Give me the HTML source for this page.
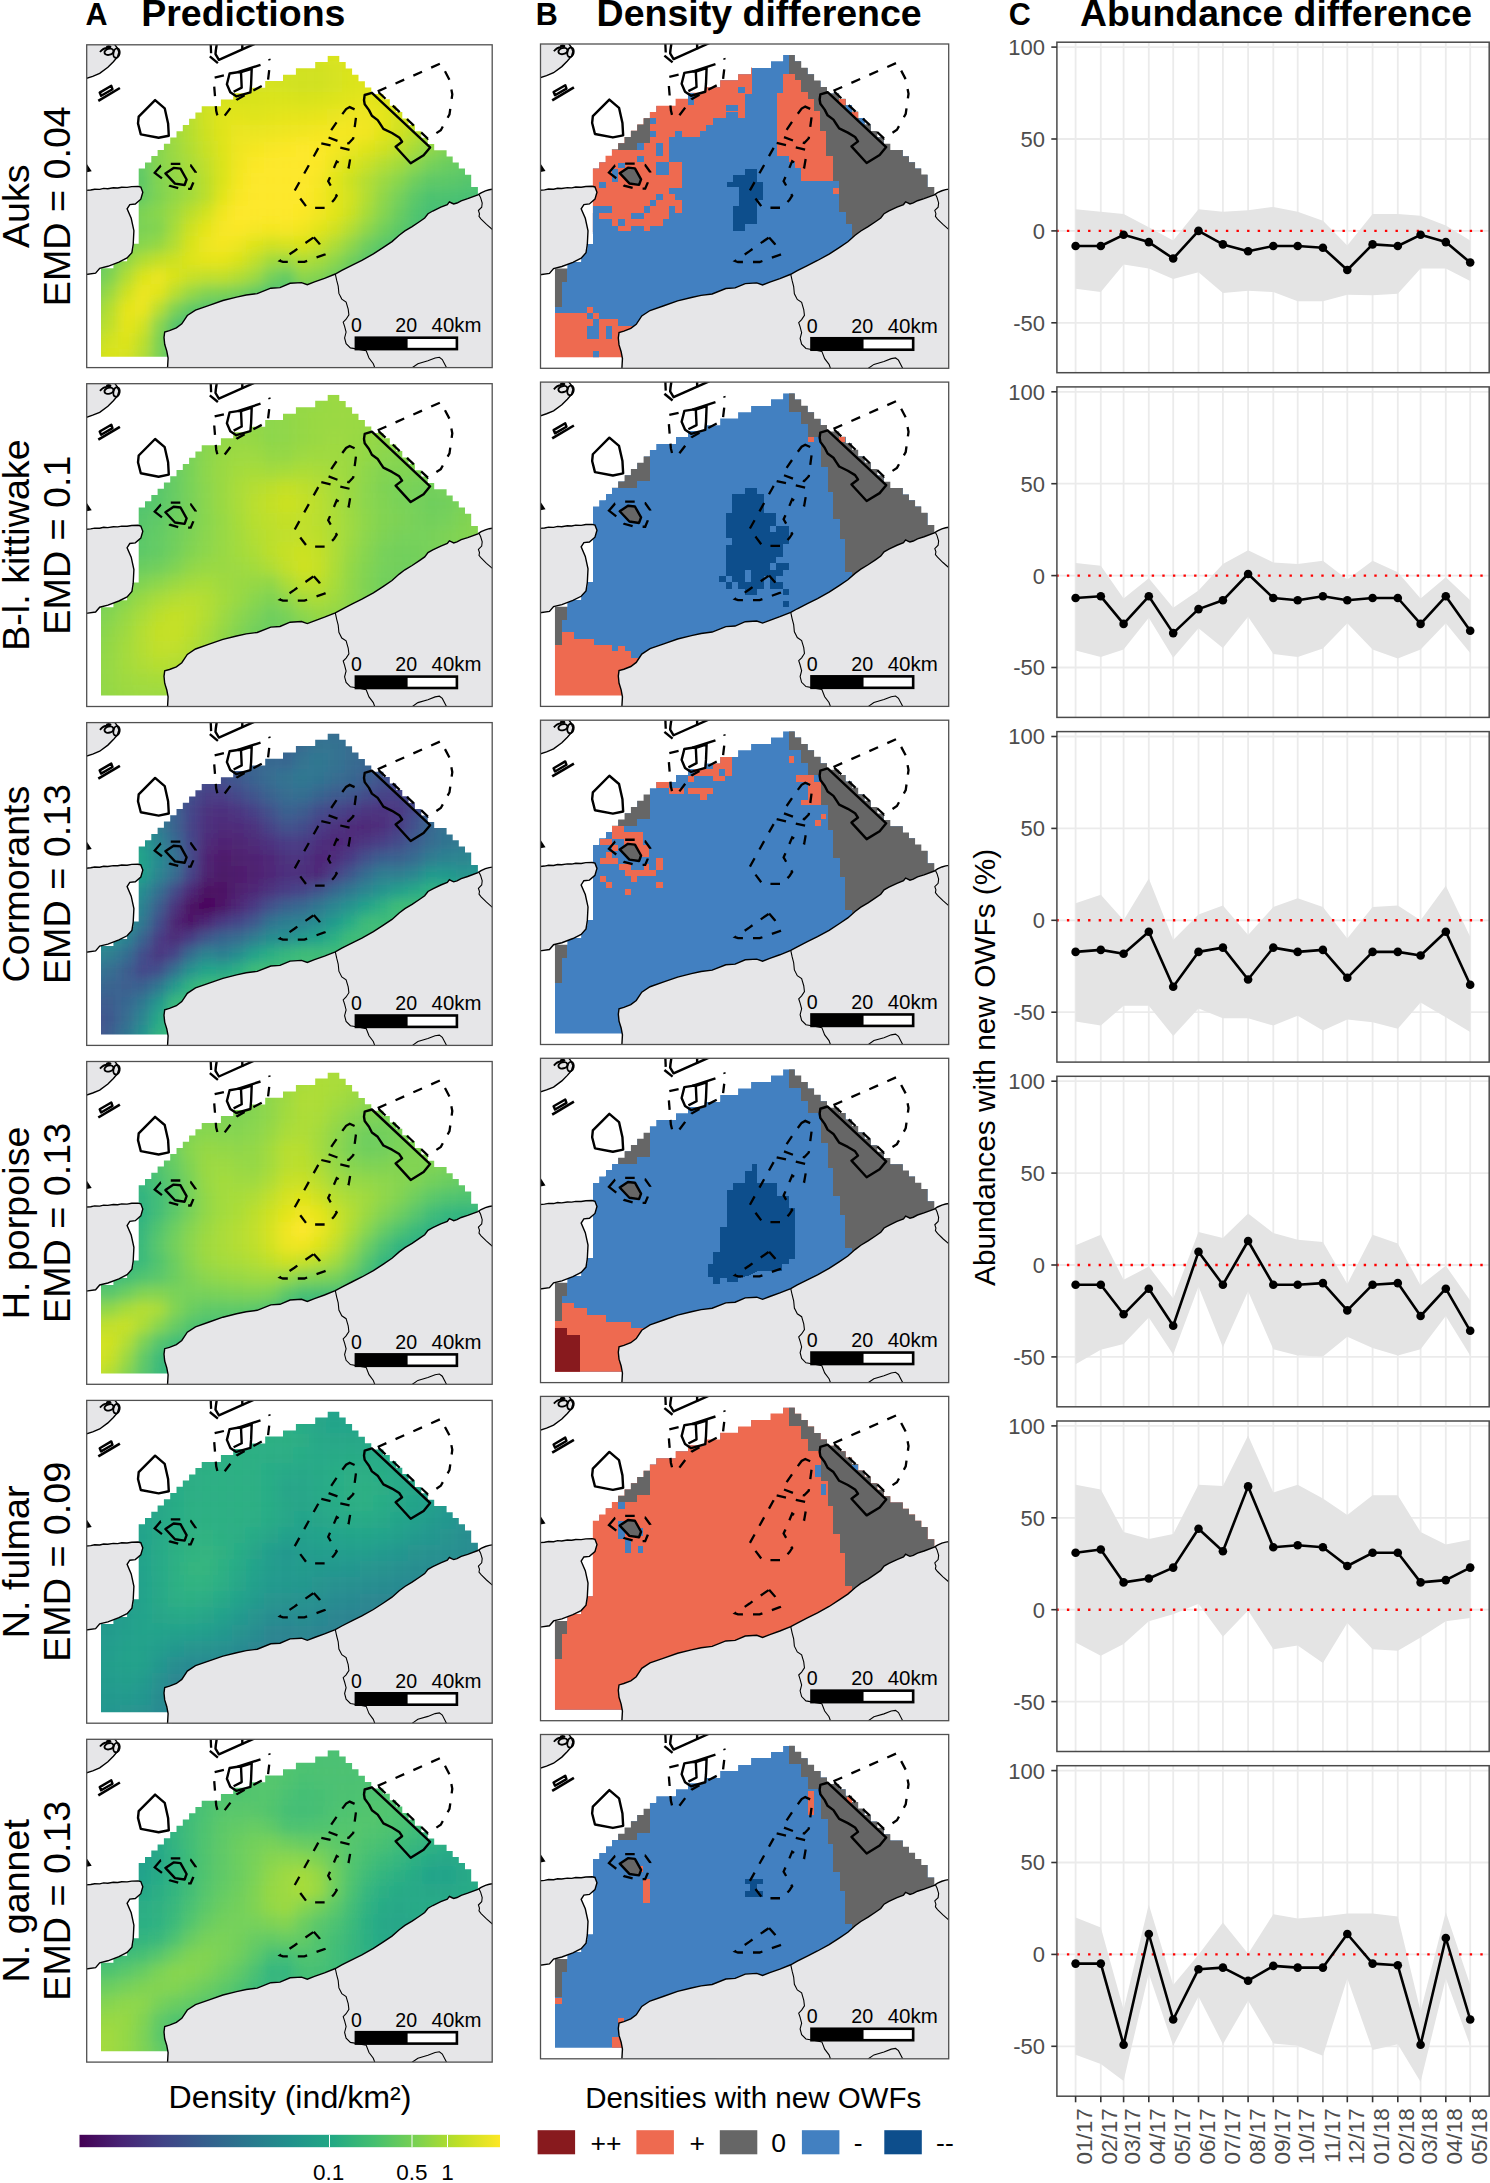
<!DOCTYPE html><html><head><meta charset="utf-8"><style>html,body{margin:0;padding:0;background:#fff;width:1490px;height:2183px;overflow:hidden}svg{display:block}text{font-family:"Liberation Sans",sans-serif}</style></head><body><svg width="1490" height="2183" viewBox="0 0 1490 2183" font-family="Liberation Sans, sans-serif"><defs><path id="sa" d="M14.3,311.9 L14.3,223.5 L26.7,223.5 L26.7,216.5 L40.4,216.5 L40.4,204.5 L46.5,204.5 L46.5,198.9 L52.0,198.9 L52.0,123.8 L58.3,123.8 L58.3,117.6 L64.6,117.6 L64.6,111.3 L70.9,111.3 L70.9,105.1 L77.2,105.1 L77.2,98.9 L83.5,98.9 L83.5,92.6 L89.8,92.6 L89.8,86.4 L96.1,86.4 L96.1,80.2 L102.4,80.2 L102.4,74.0 L108.7,74.0 L108.7,67.7 L115.0,67.7 L115.0,61.5 L134.2,61.5 L134.2,54.6 L146.5,54.6 L146.5,48.5 L163.6,48.5 L163.6,43.0 L178.5,43.0 L178.5,36.2 L196.3,36.2 L196.3,30.0 L209.2,30.0 L209.2,23.5 L228.5,23.5 L228.5,17.1 L241.0,17.1 L241.0,11.0 L252.6,11.0 L252.6,17.2 L259.0,17.2 L259.0,23.6 L265.4,23.6 L265.4,30.0 L271.8,30.0 L271.8,36.4 L278.2,36.4 L278.2,42.8 L284.6,42.8 L284.6,49.2 L296.7,49.2 L296.7,54.5 L303.1,54.5 L303.1,60.9 L309.5,60.9 L309.5,67.3 L315.6,67.3 L315.6,73.7 L321.9,73.7 L321.9,80.1 L328.2,80.1 L328.2,86.5 L334.6,86.5 L334.6,92.9 L341.0,92.9 L341.0,99.3 L347.5,99.3 L347.5,105.5 L359.9,105.5 L359.9,111.8 L366.0,111.8 L366.0,117.6 L372.1,117.6 L372.1,123.8 L378.3,123.8 L378.3,130.0 L384.5,130.0 L384.5,142.3 L391.2,142.3 L391.2,142.3 L391.2,165.0 L330.0,250.0 L250.0,300.0 L150.0,330.0 L85.0,330.0 L85.0,311.9Z"/><clipPath id="csa"><path d="M14.3,311.9 L14.3,223.5 L26.7,223.5 L26.7,216.5 L40.4,216.5 L40.4,204.5 L46.5,204.5 L46.5,198.9 L52.0,198.9 L52.0,123.8 L58.3,123.8 L58.3,117.6 L64.6,117.6 L64.6,111.3 L70.9,111.3 L70.9,105.1 L77.2,105.1 L77.2,98.9 L83.5,98.9 L83.5,92.6 L89.8,92.6 L89.8,86.4 L96.1,86.4 L96.1,80.2 L102.4,80.2 L102.4,74.0 L108.7,74.0 L108.7,67.7 L115.0,67.7 L115.0,61.5 L134.2,61.5 L134.2,54.6 L146.5,54.6 L146.5,48.5 L163.6,48.5 L163.6,43.0 L178.5,43.0 L178.5,36.2 L196.3,36.2 L196.3,30.0 L209.2,30.0 L209.2,23.5 L228.5,23.5 L228.5,17.1 L241.0,17.1 L241.0,11.0 L252.6,11.0 L252.6,17.2 L259.0,17.2 L259.0,23.6 L265.4,23.6 L265.4,30.0 L271.8,30.0 L271.8,36.4 L278.2,36.4 L278.2,42.8 L284.6,42.8 L284.6,49.2 L296.7,49.2 L296.7,54.5 L303.1,54.5 L303.1,60.9 L309.5,60.9 L309.5,67.3 L315.6,67.3 L315.6,73.7 L321.9,73.7 L321.9,80.1 L328.2,80.1 L328.2,86.5 L334.6,86.5 L334.6,92.9 L341.0,92.9 L341.0,99.3 L347.5,99.3 L347.5,105.5 L359.9,105.5 L359.9,111.8 L366.0,111.8 L366.0,117.6 L372.1,117.6 L372.1,123.8 L378.3,123.8 L378.3,130.0 L384.5,130.0 L384.5,142.3 L391.2,142.3 L391.2,142.3 L391.2,165.0 L330.0,250.0 L250.0,300.0 L150.0,330.0 L85.0,330.0 L85.0,311.9Z"/></clipPath><clipPath id="cpA"><rect x="0" y="0" width="405.5" height="322.8"/></clipPath><filter id="bl" x="-10%" y="-10%" width="120%" height="120%"><feGaussianBlur stdDeviation="6"/></filter><g id="land"><path d="M407.0,144.3 L405.7,144.5 L402.5,145.0 L398.7,146.1 L394.4,148.0 L391.2,150.1 L381.0,153.9 L374.5,156.0 L370.3,158.2 L367.0,159.2 L364.9,158.2 L362.7,157.1 L360.6,159.8 L354.1,162.4 L346.1,166.2 L341.3,168.9 L338.0,173.2 L332.7,176.9 L325.4,181.8 L318.2,186.1 L312.5,190.4 L305.3,196.8 L296.7,202.6 L286.7,209.1 L275.2,215.5 L265.1,220.5 L255.1,225.6 L248.6,229.2 L237.8,233.5 L227.8,237.1 L220.6,239.9 L214.8,237.8 L203.4,238.5 L193.3,242.8 L184.1,243.4 L170.5,248.8 L159.5,250.2 L149.9,252.3 L136.2,255.7 L122.5,260.5 L108.8,265.3 L100.6,270.7 L95.1,279.0 L89.7,283.1 L82.8,285.8 L78.0,287.2 L77.3,292.6 L78.0,299.5 L80.1,306.3 L81.4,313.2 L80.8,324.0 L407.0,324.0Z" fill="#e6e6e8" stroke="none"/><path d="M407.0,144.3 L405.7,144.5 L402.5,145.0 L398.7,146.1 L394.4,148.0 L391.2,150.1 L381.0,153.9 L374.5,156.0 L370.3,158.2 L367.0,159.2 L364.9,158.2 L362.7,157.1 L360.6,159.8 L354.1,162.4 L346.1,166.2 L341.3,168.9 L338.0,173.2 L332.7,176.9 L325.4,181.8 L318.2,186.1 L312.5,190.4 L305.3,196.8 L296.7,202.6 L286.7,209.1 L275.2,215.5 L265.1,220.5 L255.1,225.6 L248.6,229.2 L237.8,233.5 L227.8,237.1 L220.6,239.9 L214.8,237.8 L203.4,238.5 L193.3,242.8 L184.1,243.4 L170.5,248.8 L159.5,250.2 L149.9,252.3 L136.2,255.7 L122.5,260.5 L108.8,265.3 L100.6,270.7 L95.1,279.0 L89.7,283.1 L82.8,285.8 L78.0,287.2 L77.3,292.6 L78.0,299.5 L80.1,306.3 L81.4,313.2 L80.8,324.0" fill="none" stroke="#000" stroke-width="1.4"/><path d="M-1.0,145.6 L4.0,145.2 L8.0,144.4 L13.0,144.6 L17.0,143.6 L21.0,143.9 L26.7,143.0 L31.0,143.2 L35.0,142.4 L40.4,142.6 L45.0,141.8 L51.3,141.6 L54.1,142.3 L56.1,147.5 L54.1,154.4 L48.6,159.2 L43.1,159.8 L40.4,164.0 L44.5,173.5 L47.2,185.9 L46.5,199.5 L45.2,207.8 L40.4,213.2 L32.2,217.3 L21.2,221.5 L13.0,223.5 L8.9,228.3 L-1.0,229.7 L-1.0,145.6" fill="#e6e6e8" stroke="#000" stroke-width="1.4"/><path d="M-1.0,33.8 L6.0,31.5 L13.0,28.6 L21.2,22.5 L26.7,17.0 L30.8,12.2 L32.2,7.4 L30.5,3.0 L27.5,-1.0 L-1.0,-1.0Z" fill="#e6e6e8" stroke="none"/><path d="M-1.0,33.8 L6.0,31.5 L13.0,28.6 L21.2,22.5 L26.7,17.0 L30.8,12.2 L32.2,7.4 L30.5,3.0 L27.5,-1.0" fill="none" stroke="#000" stroke-width="1.4"/><g fill="none" stroke="#000" stroke-width="1.9"><ellipse cx="22.3" cy="7" rx="4.6" ry="3" transform="rotate(-15 22.3 7)"/><ellipse cx="29.8" cy="8.3" rx="3.1" ry="4.8" transform="rotate(12 29.8 8.3)"/><path d="M13.3,7.2 C15.5,4.5 18.5,3 21,3.2"/></g><ellipse cx="22" cy="2" rx="2.8" ry="1.6" fill="#000"/><path d="M248.6,229.2 L250.0,235.6 L251.5,241.4 L252.2,248.6 L255.1,254.3 L259.4,257.2 L261.5,264.3 L262.2,270.1 L259.4,274.4 L256.5,277.3 L257.9,281.6 L259.4,287.3 L257.9,293.1 L259.4,298.8 L263.7,303.1 L272.3,304.6 L279.5,306.0 L282.3,313.2 L286.6,318.9 L288.1,323.0" fill="none" stroke="#000" stroke-width="1.1"/><path d="M325.4,323.0 L331.2,318.9 L341.2,316.0 L348.4,313.2 L352.7,312.5 L355.6,314.7 L359.9,323.0" fill="none" stroke="#000" stroke-width="1.1"/><path d="M392.3,149.6 L393.9,152.8 L395.5,158.2 L395.0,162.4 L391.7,165.7 L392.8,168.9 L392.3,171.6 L394.4,174.3 L399.8,179.6 L406.0,185.0" fill="none" stroke="#000" stroke-width="1.1"/><path d="M0,119 L5,126.5 L0,127.5Z" fill="#000"/></g><g id="owf"><g fill="none" stroke="#000" stroke-width="2.4" stroke-linejoin="round"><path d="M68.4,55.3 L78.0,63.5 L81.4,78.6 L82.1,90.9 L71.9,93.0 L54.1,89.6 L51.3,78.6 L52.0,71.8Z"/><path d="M142.9,28.7 L150.9,27.4 L154.3,27.4 L165.0,24.0 L164.4,39.5 L163.7,47.5 L149.6,51.5 L143.6,47.5 L140.2,39.5Z"/><path d="M13.0,47.8 L24.6,41.0 L25.8,44.4 L14.4,51.0Z"/><path d="M130.1,-1.0 L129.1,5.9 L128.8,9.3 L132.2,15.0 L168.0,-1.0"/><path d="M123.1,11.6 L131.2,18.3"/><path d="M155.6,-1.0 L155.6,5.2"/><path d="M154.3,27.4 L155.0,42.8 L146.9,46.9"/><path d="M150.9,27.4 L173.8,20.0"/><path d="M78.7,128.6 L86.9,123.1 L93.8,123.8 L99.9,134.7 L97.9,140.2 L88.3,138.8Z"/><path d="M278.0,50.2 L285.2,48.0 L343.4,102.6 L336.9,110.5 L324.0,118.4 L308.9,101.9 L315.4,96.9 L312.5,92.6 L305.3,88.2 L296.7,84.0 L293.8,79.6 L291.0,75.3 L285.2,71.0 L282.3,65.3 L278.0,59.5 L277.3,55.2Z"/></g><g fill="none" stroke="#000" stroke-width="2.6"><path d="M11.6,56.0 L33.2,43.2"/></g><g fill="none" stroke="#000" stroke-width="2.3" stroke-dasharray="9.5 10"><path d="M68.0,128.0 L74.0,121.0 L84.0,119.0 L94.0,119.0 L104.0,120.5 L109.0,127.5 L106.5,138.0 L104.0,144.0 L94.0,144.0 L83.0,141.0 L77.0,135.0Z"/><path d="M259.4,64.3 L263.0,62.3 L270.2,65.6 L266.5,93.8 L262.0,98.5 L252.0,96.5 L240.0,92.0 L253.4,72.3Z"/><path d="M234.6,98.5 L263.5,105.2 L263.5,114.0 L262.0,122.7 L255.4,120.0 L250.0,116.6 L244.7,129.4 L241.5,136.5 L247.4,146.8 L250.0,151.0 L247.4,155.0 L240.0,163.0 L220.5,163.0 L214.5,155.0 L207.8,146.2 L231.3,103.9Z"/><path d="M291.0,46.6 L354.1,18.6 L362.8,35.1 L365.6,49.5 L362.8,69.6 L354.1,85.4 L341.2,94.0Z"/><path d="M227.1,192.5 L232.8,199.0 L237.8,209.8 L217.7,217.0 L196.2,217.0 L193.3,216.0 L207.7,206.2 L215.6,200.4Z"/><path d="M124.0,-1.0 L124.6,13.0"/><path d="M137.2,30.6 L126.8,33.0 L129.5,66.0 L131.0,72.0 L136.0,73.5 L150.0,55.0 L165.0,46.5 L181.0,38.0 L183.5,17.0 L182.5,14.0"/></g></g><g id="sbar"><rect x="269.2" y="292.9" width="101" height="11.4" fill="#fff" stroke="#000" stroke-width="2.6"/><rect x="268.7" y="292.4" width="52.2" height="12.2" fill="#000"/><g font-size="19.5" fill="#000"><text x="264.4" y="287.5">0</text><text x="308.6" y="287.5" textLength="21.8" lengthAdjust="spacingAndGlyphs">20</text><text x="344.9" y="287.5" textLength="49.8" lengthAdjust="spacingAndGlyphs">40km</text></g></g><g id="bgray" fill="#666666"><path d="M78.7,128.6 L86.9,123.1 L93.8,123.8 L99.9,134.7 L97.9,140.2 L88.3,138.8Z"/><path d="M278.0,50.2 L285.2,48.0 L343.4,102.6 L336.9,110.5 L324.0,118.4 L308.9,101.9 L315.4,96.9 L312.5,92.6 L305.3,88.2 L296.7,84.0 L293.8,79.6 L291.0,75.3 L285.2,71.0 L282.3,65.3 L278.0,59.5 L277.3,55.2Z"/></g><linearGradient id="vg" x1="0" x2="1" y1="0" y2="0"><stop offset="0.00" stop-color="#440154"/><stop offset="0.10" stop-color="#482475"/><stop offset="0.20" stop-color="#414487"/><stop offset="0.30" stop-color="#355f8d"/><stop offset="0.40" stop-color="#2a788e"/><stop offset="0.50" stop-color="#21918c"/><stop offset="0.60" stop-color="#22a884"/><stop offset="0.70" stop-color="#44bf70"/><stop offset="0.80" stop-color="#7ad151"/><stop offset="0.90" stop-color="#bddf26"/><stop offset="1.00" stop-color="#fde725"/></linearGradient></defs><g transform="translate(86.7,44.8)"><g clip-path="url(#cpA)"><rect width="405.5" height="322.8" fill="#fff"/><g clip-path="url(#csa)"><g filter="url(#bl)" stroke-width="16"><path d="M-16 -8h16" stroke="#46c06f"/><path d="M0 -8h16" stroke="#52c569"/><path d="M16 -8h16" stroke="#5ec962"/><path d="M32 -8h16" stroke="#6ece58"/><path d="M48 -8h16" stroke="#7cd250"/><path d="M64 -8h16" stroke="#8bd646"/><path d="M80 -8h16" stroke="#9bd93c"/><path d="M96 -8h16" stroke="#aadc32"/><path d="M112 -8h16" stroke="#b5de2b"/><path d="M128 -8h16" stroke="#c0df25"/><path d="M144 -8h16" stroke="#c5e021"/><path d="M160 -8h16" stroke="#cae11f"/><path d="M176 -8h16" stroke="#cde11d"/><path d="M192 -8h16" stroke="#d0e11c"/><path d="M208 -8h16" stroke="#d2e21b"/><path d="M224 -8h16" stroke="#d8e219"/><path d="M240 -8h16" stroke="#dae319"/><path d="M256 -8h16" stroke="#dde318"/><path d="M272 -8h16" stroke="#dde318"/><path d="M288 -8h16" stroke="#dae319"/><path d="M304 -8h16" stroke="#d8e219"/><path d="M320 -8h16" stroke="#d5e21a"/><path d="M336 -8h16" stroke="#cde11d"/><path d="M352 -8h16" stroke="#c5e021"/><path d="M368 -8h16" stroke="#bddf26"/><path d="M384 -8h16" stroke="#b5de2b"/><path d="M400 -8h16" stroke="#addc30"/><path d="M416 -8h16" stroke="#a5db36"/><path d="M-16 8h16" stroke="#42be71"/><path d="M0 8h16" stroke="#4ec36b"/><path d="M16 8h16" stroke="#5cc863"/><path d="M32 8h16" stroke="#6ccd5a"/><path d="M48 8h16" stroke="#7cd250"/><path d="M64 8h16" stroke="#8ed645"/><path d="M80 8h16" stroke="#9dd93b"/><path d="M96 8h16" stroke="#addc30"/><path d="M112 8h16" stroke="#bade28"/><path d="M128 8h16" stroke="#c2df23"/><path d="M144 8h16" stroke="#c8e020"/><path d="M160 8h16" stroke="#cde11d"/><path d="M176 8h16" stroke="#cde11d"/><path d="M192 8h16" stroke="#d0e11c"/><path d="M208 8h16" stroke="#d0e11c"/><path d="M224 8h16" stroke="#d5e21a"/><path d="M240 8h16" stroke="#dae319"/><path d="M256 8h16" stroke="#dae319"/><path d="M272 8h16" stroke="#dde318"/><path d="M288 8h16" stroke="#dae319"/><path d="M304 8h16" stroke="#d8e219"/><path d="M320 8h16" stroke="#d2e21b"/><path d="M336 8h16" stroke="#cae11f"/><path d="M352 8h16" stroke="#c2df23"/><path d="M368 8h16" stroke="#b8de29"/><path d="M384 8h16" stroke="#b0dd2f"/><path d="M400 8h16" stroke="#a5db36"/><path d="M416 8h16" stroke="#9dd93b"/><path d="M-16 24h16" stroke="#3fbc73"/><path d="M0 24h16" stroke="#4ac16d"/><path d="M16 24h16" stroke="#58c765"/><path d="M32 24h16" stroke="#67cc5c"/><path d="M48 24h16" stroke="#7ad151"/><path d="M64 24h16" stroke="#8bd646"/><path d="M80 24h16" stroke="#a0da39"/><path d="M96 24h16" stroke="#b0dd2f"/><path d="M112 24h16" stroke="#c0df25"/><path d="M128 24h16" stroke="#c8e020"/><path d="M144 24h16" stroke="#cde11d"/><path d="M160 24h16" stroke="#d0e11c"/><path d="M176 24h16" stroke="#d0e11c"/><path d="M192 24h16" stroke="#d0e11c"/><path d="M208 24h16" stroke="#d0e11c"/><path d="M224 24h16" stroke="#d0e11c"/><path d="M240 24h16" stroke="#d5e21a"/><path d="M256 24h16" stroke="#dae319"/><path d="M272 24h16" stroke="#dde318"/><path d="M288 24h16" stroke="#dae319"/><path d="M304 24h16" stroke="#d8e219"/><path d="M320 24h16" stroke="#d0e11c"/><path d="M336 24h16" stroke="#c8e020"/><path d="M352 24h16" stroke="#bddf26"/><path d="M368 24h16" stroke="#b2dd2d"/><path d="M384 24h16" stroke="#a8db34"/><path d="M400 24h16" stroke="#9dd93b"/><path d="M416 24h16" stroke="#93d741"/><path d="M-16 40h16" stroke="#3bbb75"/><path d="M0 40h16" stroke="#46c06f"/><path d="M16 40h16" stroke="#54c568"/><path d="M32 40h16" stroke="#65cb5e"/><path d="M48 40h16" stroke="#77d153"/><path d="M64 40h16" stroke="#8bd646"/><path d="M80 40h16" stroke="#a0da39"/><path d="M96 40h16" stroke="#b5de2b"/><path d="M112 40h16" stroke="#c5e021"/><path d="M128 40h16" stroke="#d0e11c"/><path d="M144 40h16" stroke="#d2e21b"/><path d="M160 40h16" stroke="#d2e21b"/><path d="M176 40h16" stroke="#d5e21a"/><path d="M192 40h16" stroke="#d2e21b"/><path d="M208 40h16" stroke="#d0e11c"/><path d="M224 40h16" stroke="#d0e11c"/><path d="M240 40h16" stroke="#d5e21a"/><path d="M256 40h16" stroke="#dae319"/><path d="M272 40h16" stroke="#dde318"/><path d="M288 40h16" stroke="#dde318"/><path d="M304 40h16" stroke="#d5e21a"/><path d="M320 40h16" stroke="#cde11d"/><path d="M336 40h16" stroke="#c2df23"/><path d="M352 40h16" stroke="#b5de2b"/><path d="M368 40h16" stroke="#aadc32"/><path d="M384 40h16" stroke="#9dd93b"/><path d="M400 40h16" stroke="#93d741"/><path d="M416 40h16" stroke="#89d548"/><path d="M-16 56h16" stroke="#3bbb75"/><path d="M0 56h16" stroke="#40bd72"/><path d="M16 56h16" stroke="#4ec36b"/><path d="M32 56h16" stroke="#60ca60"/><path d="M48 56h16" stroke="#73d056"/><path d="M64 56h16" stroke="#8bd646"/><path d="M80 56h16" stroke="#a0da39"/><path d="M96 56h16" stroke="#b8de29"/><path d="M112 56h16" stroke="#cae11f"/><path d="M128 56h16" stroke="#d8e219"/><path d="M144 56h16" stroke="#d8e219"/><path d="M160 56h16" stroke="#d8e219"/><path d="M176 56h16" stroke="#dae319"/><path d="M192 56h16" stroke="#dae319"/><path d="M208 56h16" stroke="#d8e219"/><path d="M224 56h16" stroke="#dae319"/><path d="M240 56h16" stroke="#dde318"/><path d="M256 56h16" stroke="#e2e418"/><path d="M272 56h16" stroke="#e5e419"/><path d="M288 56h16" stroke="#dfe318"/><path d="M304 56h16" stroke="#d5e21a"/><path d="M320 56h16" stroke="#cae11f"/><path d="M336 56h16" stroke="#bade28"/><path d="M352 56h16" stroke="#addc30"/><path d="M368 56h16" stroke="#a0da39"/><path d="M384 56h16" stroke="#93d741"/><path d="M400 56h16" stroke="#89d548"/><path d="M416 56h16" stroke="#7fd34e"/><path d="M-16 72h16" stroke="#3bbb75"/><path d="M0 72h16" stroke="#3dbc74"/><path d="M16 72h16" stroke="#4ac16d"/><path d="M32 72h16" stroke="#5ac864"/><path d="M48 72h16" stroke="#70cf57"/><path d="M64 72h16" stroke="#89d548"/><path d="M80 72h16" stroke="#a0da39"/><path d="M96 72h16" stroke="#b8de29"/><path d="M112 72h16" stroke="#d0e11c"/><path d="M128 72h16" stroke="#dfe318"/><path d="M144 72h16" stroke="#e2e418"/><path d="M160 72h16" stroke="#dfe318"/><path d="M176 72h16" stroke="#e2e418"/><path d="M192 72h16" stroke="#e5e419"/><path d="M208 72h16" stroke="#e5e419"/><path d="M224 72h16" stroke="#e7e419"/><path d="M240 72h16" stroke="#eae51a"/><path d="M256 72h16" stroke="#efe51c"/><path d="M272 72h16" stroke="#efe51c"/><path d="M288 72h16" stroke="#e5e419"/><path d="M304 72h16" stroke="#d5e21a"/><path d="M320 72h16" stroke="#c5e021"/><path d="M336 72h16" stroke="#b2dd2d"/><path d="M352 72h16" stroke="#a0da39"/><path d="M368 72h16" stroke="#93d741"/><path d="M384 72h16" stroke="#86d549"/><path d="M400 72h16" stroke="#7cd250"/><path d="M416 72h16" stroke="#73d056"/><path d="M-16 88h16" stroke="#3bbb75"/><path d="M0 88h16" stroke="#3bbb75"/><path d="M16 88h16" stroke="#44bf70"/><path d="M32 88h16" stroke="#56c667"/><path d="M48 88h16" stroke="#6ccd5a"/><path d="M64 88h16" stroke="#84d44b"/><path d="M80 88h16" stroke="#9dd93b"/><path d="M96 88h16" stroke="#b5de2b"/><path d="M112 88h16" stroke="#cde11d"/><path d="M128 88h16" stroke="#dfe318"/><path d="M144 88h16" stroke="#eae51a"/><path d="M160 88h16" stroke="#eae51a"/><path d="M176 88h16" stroke="#ece51b"/><path d="M192 88h16" stroke="#efe51c"/><path d="M208 88h16" stroke="#f1e51d"/><path d="M224 88h16" stroke="#f4e61e"/><path d="M240 88h16" stroke="#f4e61e"/><path d="M256 88h16" stroke="#f4e61e"/><path d="M272 88h16" stroke="#f1e51d"/><path d="M288 88h16" stroke="#e2e418"/><path d="M304 88h16" stroke="#d0e11c"/><path d="M320 88h16" stroke="#bade28"/><path d="M336 88h16" stroke="#a2da37"/><path d="M352 88h16" stroke="#90d743"/><path d="M368 88h16" stroke="#81d34d"/><path d="M384 88h16" stroke="#77d153"/><path d="M400 88h16" stroke="#6ece58"/><path d="M416 88h16" stroke="#65cb5e"/><path d="M-16 104h16" stroke="#3bbb75"/><path d="M0 104h16" stroke="#3bbb75"/><path d="M16 104h16" stroke="#40bd72"/><path d="M32 104h16" stroke="#50c46a"/><path d="M48 104h16" stroke="#67cc5c"/><path d="M64 104h16" stroke="#84d44b"/><path d="M80 104h16" stroke="#9bd93c"/><path d="M96 104h16" stroke="#b0dd2f"/><path d="M112 104h16" stroke="#c8e020"/><path d="M128 104h16" stroke="#dde318"/><path d="M144 104h16" stroke="#efe51c"/><path d="M160 104h16" stroke="#f4e61e"/><path d="M176 104h16" stroke="#f8e621"/><path d="M192 104h16" stroke="#fbe723"/><path d="M208 104h16" stroke="#fde725"/><path d="M224 104h16" stroke="#fbe723"/><path d="M240 104h16" stroke="#f4e61e"/><path d="M256 104h16" stroke="#eae51a"/><path d="M272 104h16" stroke="#dfe318"/><path d="M288 104h16" stroke="#d0e11c"/><path d="M304 104h16" stroke="#bddf26"/><path d="M320 104h16" stroke="#a5db36"/><path d="M336 104h16" stroke="#8ed645"/><path d="M352 104h16" stroke="#7cd250"/><path d="M368 104h16" stroke="#70cf57"/><path d="M384 104h16" stroke="#69cd5b"/><path d="M400 104h16" stroke="#60ca60"/><path d="M416 104h16" stroke="#5ac864"/><path d="M-16 120h16" stroke="#3bbb75"/><path d="M0 120h16" stroke="#3bbb75"/><path d="M16 120h16" stroke="#3dbc74"/><path d="M32 120h16" stroke="#4ac16d"/><path d="M48 120h16" stroke="#63cb5f"/><path d="M64 120h16" stroke="#84d44b"/><path d="M80 120h16" stroke="#95d840"/><path d="M96 120h16" stroke="#a8db34"/><path d="M112 120h16" stroke="#c0df25"/><path d="M128 120h16" stroke="#dae319"/><path d="M144 120h16" stroke="#f1e51d"/><path d="M160 120h16" stroke="#fbe723"/><path d="M176 120h16" stroke="#fde725"/><path d="M192 120h16" stroke="#fde725"/><path d="M208 120h16" stroke="#fde725"/><path d="M224 120h16" stroke="#fbe723"/><path d="M240 120h16" stroke="#eae51a"/><path d="M256 120h16" stroke="#dae319"/><path d="M272 120h16" stroke="#c8e020"/><path d="M288 120h16" stroke="#b2dd2d"/><path d="M304 120h16" stroke="#a0da39"/><path d="M320 120h16" stroke="#89d548"/><path d="M336 120h16" stroke="#73d056"/><path d="M352 120h16" stroke="#67cc5c"/><path d="M368 120h16" stroke="#60ca60"/><path d="M384 120h16" stroke="#5ac864"/><path d="M400 120h16" stroke="#54c568"/><path d="M416 120h16" stroke="#4ec36b"/><path d="M-16 136h16" stroke="#3bbb75"/><path d="M0 136h16" stroke="#3bbb75"/><path d="M16 136h16" stroke="#3dbc74"/><path d="M32 136h16" stroke="#4ac16d"/><path d="M48 136h16" stroke="#5ec962"/><path d="M64 136h16" stroke="#7fd34e"/><path d="M80 136h16" stroke="#8ed645"/><path d="M96 136h16" stroke="#a0da39"/><path d="M112 136h16" stroke="#bade28"/><path d="M128 136h16" stroke="#dae319"/><path d="M144 136h16" stroke="#f4e61e"/><path d="M160 136h16" stroke="#fde725"/><path d="M176 136h16" stroke="#fde725"/><path d="M192 136h16" stroke="#fde725"/><path d="M208 136h16" stroke="#fde725"/><path d="M224 136h16" stroke="#f6e620"/><path d="M240 136h16" stroke="#e2e418"/><path d="M256 136h16" stroke="#cae11f"/><path d="M272 136h16" stroke="#b2dd2d"/><path d="M288 136h16" stroke="#9bd93c"/><path d="M304 136h16" stroke="#86d549"/><path d="M320 136h16" stroke="#6ccd5a"/><path d="M336 136h16" stroke="#5cc863"/><path d="M352 136h16" stroke="#58c765"/><path d="M368 136h16" stroke="#54c568"/><path d="M384 136h16" stroke="#4ec36b"/><path d="M400 136h16" stroke="#48c16e"/><path d="M416 136h16" stroke="#42be71"/><path d="M-16 152h16" stroke="#3bbb75"/><path d="M0 152h16" stroke="#3bbb75"/><path d="M16 152h16" stroke="#44bf70"/><path d="M32 152h16" stroke="#54c568"/><path d="M48 152h16" stroke="#65cb5e"/><path d="M64 152h16" stroke="#7cd250"/><path d="M80 152h16" stroke="#90d743"/><path d="M96 152h16" stroke="#a2da37"/><path d="M112 152h16" stroke="#bade28"/><path d="M128 152h16" stroke="#e2e418"/><path d="M144 152h16" stroke="#f8e621"/><path d="M160 152h16" stroke="#fde725"/><path d="M176 152h16" stroke="#fde725"/><path d="M192 152h16" stroke="#fde725"/><path d="M208 152h16" stroke="#fde725"/><path d="M224 152h16" stroke="#f4e61e"/><path d="M240 152h16" stroke="#e2e418"/><path d="M256 152h16" stroke="#d2e21b"/><path d="M272 152h16" stroke="#b0dd2f"/><path d="M288 152h16" stroke="#8ed645"/><path d="M304 152h16" stroke="#73d056"/><path d="M320 152h16" stroke="#58c765"/><path d="M336 152h16" stroke="#4ac16d"/><path d="M352 152h16" stroke="#4ac16d"/><path d="M368 152h16" stroke="#46c06f"/><path d="M384 152h16" stroke="#42be71"/><path d="M400 152h16" stroke="#3dbc74"/><path d="M416 152h16" stroke="#3bbb75"/><path d="M-16 168h16" stroke="#3bbb75"/><path d="M0 168h16" stroke="#3fbc73"/><path d="M16 168h16" stroke="#4ec36b"/><path d="M32 168h16" stroke="#63cb5f"/><path d="M48 168h16" stroke="#7cd250"/><path d="M64 168h16" stroke="#86d549"/><path d="M80 168h16" stroke="#9dd93b"/><path d="M96 168h16" stroke="#bade28"/><path d="M112 168h16" stroke="#d2e21b"/><path d="M128 168h16" stroke="#f1e51d"/><path d="M144 168h16" stroke="#fde725"/><path d="M160 168h16" stroke="#fde725"/><path d="M176 168h16" stroke="#fde725"/><path d="M192 168h16" stroke="#fde725"/><path d="M208 168h16" stroke="#fbe723"/><path d="M224 168h16" stroke="#f1e51d"/><path d="M240 168h16" stroke="#e2e418"/><path d="M256 168h16" stroke="#cae11f"/><path d="M272 168h16" stroke="#a5db36"/><path d="M288 168h16" stroke="#84d44b"/><path d="M304 168h16" stroke="#67cc5c"/><path d="M320 168h16" stroke="#50c46a"/><path d="M336 168h16" stroke="#42be71"/><path d="M352 168h16" stroke="#3fbc73"/><path d="M368 168h16" stroke="#3bbb75"/><path d="M384 168h16" stroke="#3bbb75"/><path d="M400 168h16" stroke="#3bbb75"/><path d="M416 168h16" stroke="#3bbb75"/><path d="M-16 184h16" stroke="#3bbb75"/><path d="M0 184h16" stroke="#46c06f"/><path d="M16 184h16" stroke="#58c765"/><path d="M32 184h16" stroke="#6ccd5a"/><path d="M48 184h16" stroke="#7ad151"/><path d="M64 184h16" stroke="#7fd34e"/><path d="M80 184h16" stroke="#a5db36"/><path d="M96 184h16" stroke="#cde11d"/><path d="M112 184h16" stroke="#e5e419"/><path d="M128 184h16" stroke="#f6e620"/><path d="M144 184h16" stroke="#fbe723"/><path d="M160 184h16" stroke="#f6e620"/><path d="M176 184h16" stroke="#f4e61e"/><path d="M192 184h16" stroke="#f6e620"/><path d="M208 184h16" stroke="#f1e51d"/><path d="M224 184h16" stroke="#e2e418"/><path d="M240 184h16" stroke="#d0e11c"/><path d="M256 184h16" stroke="#b2dd2d"/><path d="M272 184h16" stroke="#8ed645"/><path d="M288 184h16" stroke="#70cf57"/><path d="M304 184h16" stroke="#5ac864"/><path d="M320 184h16" stroke="#48c16e"/><path d="M336 184h16" stroke="#3bbb75"/><path d="M352 184h16" stroke="#3bbb75"/><path d="M368 184h16" stroke="#3bbb75"/><path d="M384 184h16" stroke="#3bbb75"/><path d="M400 184h16" stroke="#3bbb75"/><path d="M416 184h16" stroke="#3bbb75"/><path d="M-16 200h16" stroke="#40bd72"/><path d="M0 200h16" stroke="#4ec36b"/><path d="M16 200h16" stroke="#60ca60"/><path d="M32 200h16" stroke="#77d153"/><path d="M48 200h16" stroke="#86d549"/><path d="M64 200h16" stroke="#93d741"/><path d="M80 200h16" stroke="#b2dd2d"/><path d="M96 200h16" stroke="#d8e219"/><path d="M112 200h16" stroke="#ece51b"/><path d="M128 200h16" stroke="#f4e61e"/><path d="M144 200h16" stroke="#ece51b"/><path d="M160 200h16" stroke="#dde318"/><path d="M176 200h16" stroke="#d0e11c"/><path d="M192 200h16" stroke="#d5e21a"/><path d="M208 200h16" stroke="#d8e219"/><path d="M224 200h16" stroke="#c8e020"/><path d="M240 200h16" stroke="#addc30"/><path d="M256 200h16" stroke="#8ed645"/><path d="M272 200h16" stroke="#6ccd5a"/><path d="M288 200h16" stroke="#58c765"/><path d="M304 200h16" stroke="#48c16e"/><path d="M320 200h16" stroke="#3bbb75"/><path d="M336 200h16" stroke="#3bbb75"/><path d="M352 200h16" stroke="#3bbb75"/><path d="M368 200h16" stroke="#3bbb75"/><path d="M384 200h16" stroke="#3bbb75"/><path d="M400 200h16" stroke="#3bbb75"/><path d="M416 200h16" stroke="#3bbb75"/><path d="M-16 216h16" stroke="#48c16e"/><path d="M0 216h16" stroke="#58c765"/><path d="M16 216h16" stroke="#6ece58"/><path d="M32 216h16" stroke="#90d743"/><path d="M48 216h16" stroke="#b0dd2f"/><path d="M64 216h16" stroke="#c2df23"/><path d="M80 216h16" stroke="#cde11d"/><path d="M96 216h16" stroke="#dde318"/><path d="M112 216h16" stroke="#e5e419"/><path d="M128 216h16" stroke="#e5e419"/><path d="M144 216h16" stroke="#d8e219"/><path d="M160 216h16" stroke="#c0df25"/><path d="M176 216h16" stroke="#a0da39"/><path d="M192 216h16" stroke="#98d83e"/><path d="M208 216h16" stroke="#addc30"/><path d="M224 216h16" stroke="#a2da37"/><path d="M240 216h16" stroke="#8bd646"/><path d="M256 216h16" stroke="#6ece58"/><path d="M272 216h16" stroke="#56c667"/><path d="M288 216h16" stroke="#44bf70"/><path d="M304 216h16" stroke="#3bbb75"/><path d="M320 216h16" stroke="#3bbb75"/><path d="M336 216h16" stroke="#3bbb75"/><path d="M352 216h16" stroke="#3bbb75"/><path d="M368 216h16" stroke="#3bbb75"/><path d="M384 216h16" stroke="#3bbb75"/><path d="M400 216h16" stroke="#3bbb75"/><path d="M416 216h16" stroke="#3bbb75"/><path d="M-16 232h16" stroke="#56c667"/><path d="M0 232h16" stroke="#65cb5e"/><path d="M16 232h16" stroke="#7fd34e"/><path d="M32 232h16" stroke="#b0dd2f"/><path d="M48 232h16" stroke="#dae319"/><path d="M64 232h16" stroke="#eae51a"/><path d="M80 232h16" stroke="#d8e219"/><path d="M96 232h16" stroke="#c8e020"/><path d="M112 232h16" stroke="#c0df25"/><path d="M128 232h16" stroke="#c0df25"/><path d="M144 232h16" stroke="#b0dd2f"/><path d="M160 232h16" stroke="#9bd93c"/><path d="M176 232h16" stroke="#73d056"/><path d="M192 232h16" stroke="#60ca60"/><path d="M208 232h16" stroke="#8bd646"/><path d="M224 232h16" stroke="#81d34d"/><path d="M240 232h16" stroke="#6ccd5a"/><path d="M256 232h16" stroke="#56c667"/><path d="M272 232h16" stroke="#44bf70"/><path d="M288 232h16" stroke="#3bbb75"/><path d="M304 232h16" stroke="#3bbb75"/><path d="M320 232h16" stroke="#3bbb75"/><path d="M336 232h16" stroke="#3bbb75"/><path d="M352 232h16" stroke="#3bbb75"/><path d="M368 232h16" stroke="#3bbb75"/><path d="M384 232h16" stroke="#3bbb75"/><path d="M400 232h16" stroke="#3bbb75"/><path d="M416 232h16" stroke="#3bbb75"/><path d="M-16 248h16" stroke="#67cc5c"/><path d="M0 248h16" stroke="#7ad151"/><path d="M16 248h16" stroke="#9bd93c"/><path d="M32 248h16" stroke="#cde11d"/><path d="M48 248h16" stroke="#ece51b"/><path d="M64 248h16" stroke="#e2e418"/><path d="M80 248h16" stroke="#b8de29"/><path d="M96 248h16" stroke="#95d840"/><path d="M112 248h16" stroke="#81d34d"/><path d="M128 248h16" stroke="#7cd250"/><path d="M144 248h16" stroke="#75d054"/><path d="M160 248h16" stroke="#60ca60"/><path d="M176 248h16" stroke="#4cc26c"/><path d="M192 248h16" stroke="#4cc26c"/><path d="M208 248h16" stroke="#5cc863"/><path d="M224 248h16" stroke="#5cc863"/><path d="M240 248h16" stroke="#50c46a"/><path d="M256 248h16" stroke="#40bd72"/><path d="M272 248h16" stroke="#3bbb75"/><path d="M288 248h16" stroke="#3bbb75"/><path d="M304 248h16" stroke="#3bbb75"/><path d="M320 248h16" stroke="#3bbb75"/><path d="M336 248h16" stroke="#3bbb75"/><path d="M352 248h16" stroke="#3bbb75"/><path d="M368 248h16" stroke="#3bbb75"/><path d="M384 248h16" stroke="#3bbb75"/><path d="M400 248h16" stroke="#3bbb75"/><path d="M416 248h16" stroke="#3bbb75"/><path d="M-16 264h16" stroke="#7ad151"/><path d="M0 264h16" stroke="#90d743"/><path d="M16 264h16" stroke="#b5de2b"/><path d="M32 264h16" stroke="#e5e419"/><path d="M48 264h16" stroke="#eae51a"/><path d="M64 264h16" stroke="#b8de29"/><path d="M80 264h16" stroke="#7cd250"/><path d="M96 264h16" stroke="#5ec962"/><path d="M112 264h16" stroke="#50c46a"/><path d="M128 264h16" stroke="#4ac16d"/><path d="M144 264h16" stroke="#44bf70"/><path d="M160 264h16" stroke="#3bbb75"/><path d="M176 264h16" stroke="#3bbb75"/><path d="M192 264h16" stroke="#3bbb75"/><path d="M208 264h16" stroke="#3bbb75"/><path d="M224 264h16" stroke="#3dbc74"/><path d="M240 264h16" stroke="#3bbb75"/><path d="M256 264h16" stroke="#3bbb75"/><path d="M272 264h16" stroke="#3bbb75"/><path d="M288 264h16" stroke="#3bbb75"/><path d="M304 264h16" stroke="#3bbb75"/><path d="M320 264h16" stroke="#3bbb75"/><path d="M336 264h16" stroke="#3bbb75"/><path d="M352 264h16" stroke="#3bbb75"/><path d="M368 264h16" stroke="#3bbb75"/><path d="M384 264h16" stroke="#3bbb75"/><path d="M400 264h16" stroke="#3bbb75"/><path d="M416 264h16" stroke="#3bbb75"/><path d="M-16 280h16" stroke="#93d741"/><path d="M0 280h16" stroke="#a5db36"/><path d="M16 280h16" stroke="#c0df25"/><path d="M32 280h16" stroke="#e5e419"/><path d="M48 280h16" stroke="#d2e21b"/><path d="M64 280h16" stroke="#89d548"/><path d="M80 280h16" stroke="#54c568"/><path d="M96 280h16" stroke="#3dbc74"/><path d="M112 280h16" stroke="#3bbb75"/><path d="M128 280h16" stroke="#3bbb75"/><path d="M144 280h16" stroke="#3bbb75"/><path d="M160 280h16" stroke="#3bbb75"/><path d="M176 280h16" stroke="#3bbb75"/><path d="M192 280h16" stroke="#3bbb75"/><path d="M208 280h16" stroke="#3bbb75"/><path d="M224 280h16" stroke="#3bbb75"/><path d="M240 280h16" stroke="#3bbb75"/><path d="M256 280h16" stroke="#3bbb75"/><path d="M272 280h16" stroke="#3bbb75"/><path d="M288 280h16" stroke="#3bbb75"/><path d="M304 280h16" stroke="#3bbb75"/><path d="M320 280h16" stroke="#3bbb75"/><path d="M336 280h16" stroke="#3bbb75"/><path d="M352 280h16" stroke="#3bbb75"/><path d="M368 280h16" stroke="#3bbb75"/><path d="M384 280h16" stroke="#3bbb75"/><path d="M400 280h16" stroke="#3bbb75"/><path d="M416 280h16" stroke="#3bbb75"/><path d="M-16 296h16" stroke="#a8db34"/><path d="M0 296h16" stroke="#bddf26"/><path d="M16 296h16" stroke="#d2e21b"/><path d="M32 296h16" stroke="#dde318"/><path d="M48 296h16" stroke="#bddf26"/><path d="M64 296h16" stroke="#7cd250"/><path d="M80 296h16" stroke="#4ac16d"/><path d="M96 296h16" stroke="#3bbb75"/><path d="M112 296h16" stroke="#3bbb75"/><path d="M128 296h16" stroke="#3bbb75"/><path d="M144 296h16" stroke="#3bbb75"/><path d="M160 296h16" stroke="#3bbb75"/><path d="M176 296h16" stroke="#3bbb75"/><path d="M192 296h16" stroke="#3bbb75"/><path d="M208 296h16" stroke="#3bbb75"/><path d="M224 296h16" stroke="#3bbb75"/><path d="M240 296h16" stroke="#3bbb75"/><path d="M256 296h16" stroke="#3bbb75"/><path d="M272 296h16" stroke="#3bbb75"/><path d="M288 296h16" stroke="#3bbb75"/><path d="M304 296h16" stroke="#3bbb75"/><path d="M320 296h16" stroke="#3bbb75"/><path d="M336 296h16" stroke="#3bbb75"/><path d="M352 296h16" stroke="#3bbb75"/><path d="M368 296h16" stroke="#3bbb75"/><path d="M384 296h16" stroke="#3bbb75"/><path d="M400 296h16" stroke="#3bbb75"/><path d="M416 296h16" stroke="#3bbb75"/><path d="M-16 312h16" stroke="#b8de29"/><path d="M0 312h16" stroke="#cae11f"/><path d="M16 312h16" stroke="#dae319"/><path d="M32 312h16" stroke="#d5e21a"/><path d="M48 312h16" stroke="#b2dd2d"/><path d="M64 312h16" stroke="#7ad151"/><path d="M80 312h16" stroke="#4cc26c"/><path d="M96 312h16" stroke="#3bbb75"/><path d="M112 312h16" stroke="#3bbb75"/><path d="M128 312h16" stroke="#3bbb75"/><path d="M144 312h16" stroke="#3bbb75"/><path d="M160 312h16" stroke="#3bbb75"/><path d="M176 312h16" stroke="#3bbb75"/><path d="M192 312h16" stroke="#3bbb75"/><path d="M208 312h16" stroke="#3bbb75"/><path d="M224 312h16" stroke="#3bbb75"/><path d="M240 312h16" stroke="#3bbb75"/><path d="M256 312h16" stroke="#3bbb75"/><path d="M272 312h16" stroke="#3bbb75"/><path d="M288 312h16" stroke="#3bbb75"/><path d="M304 312h16" stroke="#3bbb75"/><path d="M320 312h16" stroke="#3bbb75"/><path d="M336 312h16" stroke="#3bbb75"/><path d="M352 312h16" stroke="#3bbb75"/><path d="M368 312h16" stroke="#3bbb75"/><path d="M384 312h16" stroke="#3bbb75"/><path d="M400 312h16" stroke="#3bbb75"/><path d="M416 312h16" stroke="#3bbb75"/><path d="M-16 328h16" stroke="#c0df25"/><path d="M0 328h16" stroke="#cde11d"/><path d="M16 328h16" stroke="#d2e21b"/><path d="M32 328h16" stroke="#c5e021"/><path d="M48 328h16" stroke="#a5db36"/><path d="M64 328h16" stroke="#77d153"/><path d="M80 328h16" stroke="#4ec36b"/><path d="M96 328h16" stroke="#3bbb75"/><path d="M112 328h16" stroke="#3bbb75"/><path d="M128 328h16" stroke="#3bbb75"/><path d="M144 328h16" stroke="#3bbb75"/><path d="M160 328h16" stroke="#3bbb75"/><path d="M176 328h16" stroke="#3bbb75"/><path d="M192 328h16" stroke="#3bbb75"/><path d="M208 328h16" stroke="#3bbb75"/><path d="M224 328h16" stroke="#3bbb75"/><path d="M240 328h16" stroke="#3bbb75"/><path d="M256 328h16" stroke="#3bbb75"/><path d="M272 328h16" stroke="#3bbb75"/><path d="M288 328h16" stroke="#3bbb75"/><path d="M304 328h16" stroke="#3bbb75"/><path d="M320 328h16" stroke="#3bbb75"/><path d="M336 328h16" stroke="#3bbb75"/><path d="M352 328h16" stroke="#3bbb75"/><path d="M368 328h16" stroke="#3bbb75"/><path d="M384 328h16" stroke="#3bbb75"/><path d="M400 328h16" stroke="#3bbb75"/><path d="M416 328h16" stroke="#3bbb75"/><path d="M-16 344h16" stroke="#c0df25"/><path d="M0 344h16" stroke="#c5e021"/><path d="M16 344h16" stroke="#c5e021"/><path d="M32 344h16" stroke="#b5de2b"/><path d="M48 344h16" stroke="#95d840"/><path d="M64 344h16" stroke="#70cf57"/><path d="M80 344h16" stroke="#4ec36b"/><path d="M96 344h16" stroke="#3bbb75"/><path d="M112 344h16" stroke="#3bbb75"/><path d="M128 344h16" stroke="#3bbb75"/><path d="M144 344h16" stroke="#3bbb75"/><path d="M160 344h16" stroke="#3bbb75"/><path d="M176 344h16" stroke="#3bbb75"/><path d="M192 344h16" stroke="#3bbb75"/><path d="M208 344h16" stroke="#3bbb75"/><path d="M224 344h16" stroke="#3bbb75"/><path d="M240 344h16" stroke="#3bbb75"/><path d="M256 344h16" stroke="#3bbb75"/><path d="M272 344h16" stroke="#3bbb75"/><path d="M288 344h16" stroke="#3bbb75"/><path d="M304 344h16" stroke="#3bbb75"/><path d="M320 344h16" stroke="#3bbb75"/><path d="M336 344h16" stroke="#3bbb75"/><path d="M352 344h16" stroke="#3bbb75"/><path d="M368 344h16" stroke="#3bbb75"/><path d="M384 344h16" stroke="#3bbb75"/><path d="M400 344h16" stroke="#3bbb75"/><path d="M416 344h16" stroke="#3bbb75"/></g></g><use href="#land"/><use href="#owf"/><use href="#sbar"/></g><rect width="405.5" height="322.8" fill="none" stroke="#505050" stroke-width="1.3"/></g><g transform="translate(86.7,383.7)"><g clip-path="url(#cpA)"><rect width="405.5" height="322.8" fill="#fff"/><g clip-path="url(#csa)"><g filter="url(#bl)" stroke-width="16"><path d="M-16 -8h16" stroke="#40bd72"/><path d="M0 -8h16" stroke="#40bd72"/><path d="M16 -8h16" stroke="#42be71"/><path d="M32 -8h16" stroke="#48c16e"/><path d="M48 -8h16" stroke="#52c569"/><path d="M64 -8h16" stroke="#5ac864"/><path d="M80 -8h16" stroke="#63cb5f"/><path d="M96 -8h16" stroke="#6ccd5a"/><path d="M112 -8h16" stroke="#75d054"/><path d="M128 -8h16" stroke="#7cd250"/><path d="M144 -8h16" stroke="#81d34d"/><path d="M160 -8h16" stroke="#86d549"/><path d="M176 -8h16" stroke="#8bd646"/><path d="M192 -8h16" stroke="#8ed645"/><path d="M208 -8h16" stroke="#93d741"/><path d="M224 -8h16" stroke="#95d840"/><path d="M240 -8h16" stroke="#98d83e"/><path d="M256 -8h16" stroke="#98d83e"/><path d="M272 -8h16" stroke="#98d83e"/><path d="M288 -8h16" stroke="#98d83e"/><path d="M304 -8h16" stroke="#95d840"/><path d="M320 -8h16" stroke="#95d840"/><path d="M336 -8h16" stroke="#95d840"/><path d="M352 -8h16" stroke="#95d840"/><path d="M368 -8h16" stroke="#98d83e"/><path d="M384 -8h16" stroke="#98d83e"/><path d="M400 -8h16" stroke="#9bd93c"/><path d="M416 -8h16" stroke="#9dd93b"/><path d="M-16 8h16" stroke="#40bd72"/><path d="M0 8h16" stroke="#40bd72"/><path d="M16 8h16" stroke="#40bd72"/><path d="M32 8h16" stroke="#48c16e"/><path d="M48 8h16" stroke="#52c569"/><path d="M64 8h16" stroke="#5ac864"/><path d="M80 8h16" stroke="#65cb5e"/><path d="M96 8h16" stroke="#6ece58"/><path d="M112 8h16" stroke="#77d153"/><path d="M128 8h16" stroke="#7fd34e"/><path d="M144 8h16" stroke="#86d549"/><path d="M160 8h16" stroke="#89d548"/><path d="M176 8h16" stroke="#8bd646"/><path d="M192 8h16" stroke="#90d743"/><path d="M208 8h16" stroke="#93d741"/><path d="M224 8h16" stroke="#95d840"/><path d="M240 8h16" stroke="#98d83e"/><path d="M256 8h16" stroke="#98d83e"/><path d="M272 8h16" stroke="#98d83e"/><path d="M288 8h16" stroke="#95d840"/><path d="M304 8h16" stroke="#95d840"/><path d="M320 8h16" stroke="#93d741"/><path d="M336 8h16" stroke="#93d741"/><path d="M352 8h16" stroke="#93d741"/><path d="M368 8h16" stroke="#93d741"/><path d="M384 8h16" stroke="#95d840"/><path d="M400 8h16" stroke="#98d83e"/><path d="M416 8h16" stroke="#98d83e"/><path d="M-16 24h16" stroke="#40bd72"/><path d="M0 24h16" stroke="#40bd72"/><path d="M16 24h16" stroke="#40bd72"/><path d="M32 24h16" stroke="#48c16e"/><path d="M48 24h16" stroke="#50c46a"/><path d="M64 24h16" stroke="#5ac864"/><path d="M80 24h16" stroke="#65cb5e"/><path d="M96 24h16" stroke="#70cf57"/><path d="M112 24h16" stroke="#7cd250"/><path d="M128 24h16" stroke="#84d44b"/><path d="M144 24h16" stroke="#89d548"/><path d="M160 24h16" stroke="#8bd646"/><path d="M176 24h16" stroke="#8ed645"/><path d="M192 24h16" stroke="#90d743"/><path d="M208 24h16" stroke="#93d741"/><path d="M224 24h16" stroke="#95d840"/><path d="M240 24h16" stroke="#98d83e"/><path d="M256 24h16" stroke="#98d83e"/><path d="M272 24h16" stroke="#95d840"/><path d="M288 24h16" stroke="#95d840"/><path d="M304 24h16" stroke="#93d741"/><path d="M320 24h16" stroke="#90d743"/><path d="M336 24h16" stroke="#90d743"/><path d="M352 24h16" stroke="#8ed645"/><path d="M368 24h16" stroke="#90d743"/><path d="M384 24h16" stroke="#90d743"/><path d="M400 24h16" stroke="#93d741"/><path d="M416 24h16" stroke="#95d840"/><path d="M-16 40h16" stroke="#40bd72"/><path d="M0 40h16" stroke="#40bd72"/><path d="M16 40h16" stroke="#40bd72"/><path d="M32 40h16" stroke="#46c06f"/><path d="M48 40h16" stroke="#50c46a"/><path d="M64 40h16" stroke="#5ac864"/><path d="M80 40h16" stroke="#67cc5c"/><path d="M96 40h16" stroke="#73d056"/><path d="M112 40h16" stroke="#81d34d"/><path d="M128 40h16" stroke="#89d548"/><path d="M144 40h16" stroke="#8ed645"/><path d="M160 40h16" stroke="#8ed645"/><path d="M176 40h16" stroke="#8bd646"/><path d="M192 40h16" stroke="#8ed645"/><path d="M208 40h16" stroke="#93d741"/><path d="M224 40h16" stroke="#98d83e"/><path d="M240 40h16" stroke="#98d83e"/><path d="M256 40h16" stroke="#98d83e"/><path d="M272 40h16" stroke="#95d840"/><path d="M288 40h16" stroke="#90d743"/><path d="M304 40h16" stroke="#8ed645"/><path d="M320 40h16" stroke="#8bd646"/><path d="M336 40h16" stroke="#8bd646"/><path d="M352 40h16" stroke="#8bd646"/><path d="M368 40h16" stroke="#8bd646"/><path d="M384 40h16" stroke="#8ed645"/><path d="M400 40h16" stroke="#90d743"/><path d="M416 40h16" stroke="#93d741"/><path d="M-16 56h16" stroke="#40bd72"/><path d="M0 56h16" stroke="#40bd72"/><path d="M16 56h16" stroke="#40bd72"/><path d="M32 56h16" stroke="#44bf70"/><path d="M48 56h16" stroke="#4ec36b"/><path d="M64 56h16" stroke="#5ac864"/><path d="M80 56h16" stroke="#67cc5c"/><path d="M96 56h16" stroke="#75d054"/><path d="M112 56h16" stroke="#84d44b"/><path d="M128 56h16" stroke="#90d743"/><path d="M144 56h16" stroke="#95d840"/><path d="M160 56h16" stroke="#93d741"/><path d="M176 56h16" stroke="#8bd646"/><path d="M192 56h16" stroke="#8ed645"/><path d="M208 56h16" stroke="#93d741"/><path d="M224 56h16" stroke="#98d83e"/><path d="M240 56h16" stroke="#9bd93c"/><path d="M256 56h16" stroke="#98d83e"/><path d="M272 56h16" stroke="#93d741"/><path d="M288 56h16" stroke="#8ed645"/><path d="M304 56h16" stroke="#8bd646"/><path d="M320 56h16" stroke="#89d548"/><path d="M336 56h16" stroke="#86d549"/><path d="M352 56h16" stroke="#86d549"/><path d="M368 56h16" stroke="#86d549"/><path d="M384 56h16" stroke="#89d548"/><path d="M400 56h16" stroke="#8ed645"/><path d="M416 56h16" stroke="#90d743"/><path d="M-16 72h16" stroke="#40bd72"/><path d="M0 72h16" stroke="#40bd72"/><path d="M16 72h16" stroke="#40bd72"/><path d="M32 72h16" stroke="#44bf70"/><path d="M48 72h16" stroke="#4cc26c"/><path d="M64 72h16" stroke="#58c765"/><path d="M80 72h16" stroke="#67cc5c"/><path d="M96 72h16" stroke="#77d153"/><path d="M112 72h16" stroke="#89d548"/><path d="M128 72h16" stroke="#95d840"/><path d="M144 72h16" stroke="#9bd93c"/><path d="M160 72h16" stroke="#9bd93c"/><path d="M176 72h16" stroke="#93d741"/><path d="M192 72h16" stroke="#93d741"/><path d="M208 72h16" stroke="#9bd93c"/><path d="M224 72h16" stroke="#9dd93b"/><path d="M240 72h16" stroke="#9dd93b"/><path d="M256 72h16" stroke="#98d83e"/><path d="M272 72h16" stroke="#90d743"/><path d="M288 72h16" stroke="#89d548"/><path d="M304 72h16" stroke="#84d44b"/><path d="M320 72h16" stroke="#81d34d"/><path d="M336 72h16" stroke="#7fd34e"/><path d="M352 72h16" stroke="#7fd34e"/><path d="M368 72h16" stroke="#81d34d"/><path d="M384 72h16" stroke="#86d549"/><path d="M400 72h16" stroke="#89d548"/><path d="M416 72h16" stroke="#8ed645"/><path d="M-16 88h16" stroke="#40bd72"/><path d="M0 88h16" stroke="#40bd72"/><path d="M16 88h16" stroke="#40bd72"/><path d="M32 88h16" stroke="#42be71"/><path d="M48 88h16" stroke="#4ac16d"/><path d="M64 88h16" stroke="#54c568"/><path d="M80 88h16" stroke="#65cb5e"/><path d="M96 88h16" stroke="#77d153"/><path d="M112 88h16" stroke="#8bd646"/><path d="M128 88h16" stroke="#98d83e"/><path d="M144 88h16" stroke="#a2da37"/><path d="M160 88h16" stroke="#a5db36"/><path d="M176 88h16" stroke="#a2da37"/><path d="M192 88h16" stroke="#a5db36"/><path d="M208 88h16" stroke="#aadc32"/><path d="M224 88h16" stroke="#a8db34"/><path d="M240 88h16" stroke="#a0da39"/><path d="M256 88h16" stroke="#98d83e"/><path d="M272 88h16" stroke="#8bd646"/><path d="M288 88h16" stroke="#81d34d"/><path d="M304 88h16" stroke="#7fd34e"/><path d="M320 88h16" stroke="#7cd250"/><path d="M336 88h16" stroke="#7ad151"/><path d="M352 88h16" stroke="#7ad151"/><path d="M368 88h16" stroke="#7cd250"/><path d="M384 88h16" stroke="#81d34d"/><path d="M400 88h16" stroke="#89d548"/><path d="M416 88h16" stroke="#8ed645"/><path d="M-16 104h16" stroke="#40bd72"/><path d="M0 104h16" stroke="#40bd72"/><path d="M16 104h16" stroke="#40bd72"/><path d="M32 104h16" stroke="#44bf70"/><path d="M48 104h16" stroke="#4ac16d"/><path d="M64 104h16" stroke="#54c568"/><path d="M80 104h16" stroke="#63cb5f"/><path d="M96 104h16" stroke="#77d153"/><path d="M112 104h16" stroke="#89d548"/><path d="M128 104h16" stroke="#98d83e"/><path d="M144 104h16" stroke="#a8db34"/><path d="M160 104h16" stroke="#b2dd2d"/><path d="M176 104h16" stroke="#bade28"/><path d="M192 104h16" stroke="#c2df23"/><path d="M208 104h16" stroke="#bddf26"/><path d="M224 104h16" stroke="#b2dd2d"/><path d="M240 104h16" stroke="#a5db36"/><path d="M256 104h16" stroke="#98d83e"/><path d="M272 104h16" stroke="#89d548"/><path d="M288 104h16" stroke="#7cd250"/><path d="M304 104h16" stroke="#77d153"/><path d="M320 104h16" stroke="#75d054"/><path d="M336 104h16" stroke="#70cf57"/><path d="M352 104h16" stroke="#73d056"/><path d="M368 104h16" stroke="#7ad151"/><path d="M384 104h16" stroke="#81d34d"/><path d="M400 104h16" stroke="#86d549"/><path d="M416 104h16" stroke="#8bd646"/><path d="M-16 120h16" stroke="#40bd72"/><path d="M0 120h16" stroke="#40bd72"/><path d="M16 120h16" stroke="#40bd72"/><path d="M32 120h16" stroke="#46c06f"/><path d="M48 120h16" stroke="#4ec36b"/><path d="M64 120h16" stroke="#56c667"/><path d="M80 120h16" stroke="#65cb5e"/><path d="M96 120h16" stroke="#75d054"/><path d="M112 120h16" stroke="#89d548"/><path d="M128 120h16" stroke="#98d83e"/><path d="M144 120h16" stroke="#a8db34"/><path d="M160 120h16" stroke="#b8de29"/><path d="M176 120h16" stroke="#c2df23"/><path d="M192 120h16" stroke="#cae11f"/><path d="M208 120h16" stroke="#c5e021"/><path d="M224 120h16" stroke="#b8de29"/><path d="M240 120h16" stroke="#a8db34"/><path d="M256 120h16" stroke="#98d83e"/><path d="M272 120h16" stroke="#89d548"/><path d="M288 120h16" stroke="#7fd34e"/><path d="M304 120h16" stroke="#77d153"/><path d="M320 120h16" stroke="#73d056"/><path d="M336 120h16" stroke="#6ccd5a"/><path d="M352 120h16" stroke="#6ece58"/><path d="M368 120h16" stroke="#77d153"/><path d="M384 120h16" stroke="#81d34d"/><path d="M400 120h16" stroke="#86d549"/><path d="M416 120h16" stroke="#8bd646"/><path d="M-16 136h16" stroke="#40bd72"/><path d="M0 136h16" stroke="#40bd72"/><path d="M16 136h16" stroke="#46c06f"/><path d="M32 136h16" stroke="#4cc26c"/><path d="M48 136h16" stroke="#54c568"/><path d="M64 136h16" stroke="#5cc863"/><path d="M80 136h16" stroke="#69cd5b"/><path d="M96 136h16" stroke="#77d153"/><path d="M112 136h16" stroke="#86d549"/><path d="M128 136h16" stroke="#95d840"/><path d="M144 136h16" stroke="#a5db36"/><path d="M160 136h16" stroke="#b5de2b"/><path d="M176 136h16" stroke="#bddf26"/><path d="M192 136h16" stroke="#c2df23"/><path d="M208 136h16" stroke="#c0df25"/><path d="M224 136h16" stroke="#b8de29"/><path d="M240 136h16" stroke="#aadc32"/><path d="M256 136h16" stroke="#9bd93c"/><path d="M272 136h16" stroke="#8bd646"/><path d="M288 136h16" stroke="#7fd34e"/><path d="M304 136h16" stroke="#7ad151"/><path d="M320 136h16" stroke="#75d054"/><path d="M336 136h16" stroke="#70cf57"/><path d="M352 136h16" stroke="#73d056"/><path d="M368 136h16" stroke="#7cd250"/><path d="M384 136h16" stroke="#84d44b"/><path d="M400 136h16" stroke="#89d548"/><path d="M416 136h16" stroke="#8bd646"/><path d="M-16 152h16" stroke="#42be71"/><path d="M0 152h16" stroke="#46c06f"/><path d="M16 152h16" stroke="#4ac16d"/><path d="M32 152h16" stroke="#50c46a"/><path d="M48 152h16" stroke="#58c765"/><path d="M64 152h16" stroke="#60ca60"/><path d="M80 152h16" stroke="#6ccd5a"/><path d="M96 152h16" stroke="#7ad151"/><path d="M112 152h16" stroke="#89d548"/><path d="M128 152h16" stroke="#95d840"/><path d="M144 152h16" stroke="#a2da37"/><path d="M160 152h16" stroke="#b0dd2f"/><path d="M176 152h16" stroke="#bade28"/><path d="M192 152h16" stroke="#c0df25"/><path d="M208 152h16" stroke="#c0df25"/><path d="M224 152h16" stroke="#bade28"/><path d="M240 152h16" stroke="#aadc32"/><path d="M256 152h16" stroke="#9bd93c"/><path d="M272 152h16" stroke="#89d548"/><path d="M288 152h16" stroke="#7cd250"/><path d="M304 152h16" stroke="#75d054"/><path d="M320 152h16" stroke="#75d054"/><path d="M336 152h16" stroke="#75d054"/><path d="M352 152h16" stroke="#7ad151"/><path d="M368 152h16" stroke="#7fd34e"/><path d="M384 152h16" stroke="#84d44b"/><path d="M400 152h16" stroke="#89d548"/><path d="M416 152h16" stroke="#8bd646"/><path d="M-16 168h16" stroke="#48c16e"/><path d="M0 168h16" stroke="#4ec36b"/><path d="M16 168h16" stroke="#52c569"/><path d="M32 168h16" stroke="#56c667"/><path d="M48 168h16" stroke="#5ac864"/><path d="M64 168h16" stroke="#60ca60"/><path d="M80 168h16" stroke="#6ece58"/><path d="M96 168h16" stroke="#7fd34e"/><path d="M112 168h16" stroke="#8bd646"/><path d="M128 168h16" stroke="#95d840"/><path d="M144 168h16" stroke="#a0da39"/><path d="M160 168h16" stroke="#aadc32"/><path d="M176 168h16" stroke="#bade28"/><path d="M192 168h16" stroke="#c5e021"/><path d="M208 168h16" stroke="#cae11f"/><path d="M224 168h16" stroke="#c2df23"/><path d="M240 168h16" stroke="#addc30"/><path d="M256 168h16" stroke="#95d840"/><path d="M272 168h16" stroke="#84d44b"/><path d="M288 168h16" stroke="#75d054"/><path d="M304 168h16" stroke="#70cf57"/><path d="M320 168h16" stroke="#70cf57"/><path d="M336 168h16" stroke="#75d054"/><path d="M352 168h16" stroke="#7ad151"/><path d="M368 168h16" stroke="#7fd34e"/><path d="M384 168h16" stroke="#84d44b"/><path d="M400 168h16" stroke="#86d549"/><path d="M416 168h16" stroke="#8bd646"/><path d="M-16 184h16" stroke="#50c46a"/><path d="M0 184h16" stroke="#56c667"/><path d="M16 184h16" stroke="#5cc863"/><path d="M32 184h16" stroke="#63cb5f"/><path d="M48 184h16" stroke="#67cc5c"/><path d="M64 184h16" stroke="#6ece58"/><path d="M80 184h16" stroke="#7cd250"/><path d="M96 184h16" stroke="#8ed645"/><path d="M112 184h16" stroke="#95d840"/><path d="M128 184h16" stroke="#98d83e"/><path d="M144 184h16" stroke="#9bd93c"/><path d="M160 184h16" stroke="#a0da39"/><path d="M176 184h16" stroke="#addc30"/><path d="M192 184h16" stroke="#c0df25"/><path d="M208 184h16" stroke="#cde11d"/><path d="M224 184h16" stroke="#c5e021"/><path d="M240 184h16" stroke="#aadc32"/><path d="M256 184h16" stroke="#90d743"/><path d="M272 184h16" stroke="#7fd34e"/><path d="M288 184h16" stroke="#73d056"/><path d="M304 184h16" stroke="#6ece58"/><path d="M320 184h16" stroke="#6ece58"/><path d="M336 184h16" stroke="#73d056"/><path d="M352 184h16" stroke="#77d153"/><path d="M368 184h16" stroke="#7cd250"/><path d="M384 184h16" stroke="#81d34d"/><path d="M400 184h16" stroke="#84d44b"/><path d="M416 184h16" stroke="#89d548"/><path d="M-16 200h16" stroke="#5ac864"/><path d="M0 200h16" stroke="#60ca60"/><path d="M16 200h16" stroke="#69cd5b"/><path d="M32 200h16" stroke="#75d054"/><path d="M48 200h16" stroke="#7fd34e"/><path d="M64 200h16" stroke="#8bd646"/><path d="M80 200h16" stroke="#98d83e"/><path d="M96 200h16" stroke="#a2da37"/><path d="M112 200h16" stroke="#a5db36"/><path d="M128 200h16" stroke="#9dd93b"/><path d="M144 200h16" stroke="#98d83e"/><path d="M160 200h16" stroke="#93d741"/><path d="M176 200h16" stroke="#8ed645"/><path d="M192 200h16" stroke="#a8db34"/><path d="M208 200h16" stroke="#bddf26"/><path d="M224 200h16" stroke="#bade28"/><path d="M240 200h16" stroke="#a5db36"/><path d="M256 200h16" stroke="#8ed645"/><path d="M272 200h16" stroke="#7cd250"/><path d="M288 200h16" stroke="#70cf57"/><path d="M304 200h16" stroke="#6ccd5a"/><path d="M320 200h16" stroke="#6ccd5a"/><path d="M336 200h16" stroke="#70cf57"/><path d="M352 200h16" stroke="#75d054"/><path d="M368 200h16" stroke="#7ad151"/><path d="M384 200h16" stroke="#7cd250"/><path d="M400 200h16" stroke="#81d34d"/><path d="M416 200h16" stroke="#84d44b"/><path d="M-16 216h16" stroke="#63cb5f"/><path d="M0 216h16" stroke="#6ccd5a"/><path d="M16 216h16" stroke="#77d153"/><path d="M32 216h16" stroke="#86d549"/><path d="M48 216h16" stroke="#98d83e"/><path d="M64 216h16" stroke="#a8db34"/><path d="M80 216h16" stroke="#b2dd2d"/><path d="M96 216h16" stroke="#b8de29"/><path d="M112 216h16" stroke="#b0dd2f"/><path d="M128 216h16" stroke="#a2da37"/><path d="M144 216h16" stroke="#95d840"/><path d="M160 216h16" stroke="#86d549"/><path d="M176 216h16" stroke="#7cd250"/><path d="M192 216h16" stroke="#8bd646"/><path d="M208 216h16" stroke="#a2da37"/><path d="M224 216h16" stroke="#a8db34"/><path d="M240 216h16" stroke="#9dd93b"/><path d="M256 216h16" stroke="#8bd646"/><path d="M272 216h16" stroke="#7cd250"/><path d="M288 216h16" stroke="#70cf57"/><path d="M304 216h16" stroke="#6ccd5a"/><path d="M320 216h16" stroke="#6ccd5a"/><path d="M336 216h16" stroke="#6ece58"/><path d="M352 216h16" stroke="#73d056"/><path d="M368 216h16" stroke="#75d054"/><path d="M384 216h16" stroke="#7ad151"/><path d="M400 216h16" stroke="#7fd34e"/><path d="M416 216h16" stroke="#81d34d"/><path d="M-16 232h16" stroke="#6ccd5a"/><path d="M0 232h16" stroke="#77d153"/><path d="M16 232h16" stroke="#84d44b"/><path d="M32 232h16" stroke="#95d840"/><path d="M48 232h16" stroke="#a8db34"/><path d="M64 232h16" stroke="#bade28"/><path d="M80 232h16" stroke="#c2df23"/><path d="M96 232h16" stroke="#bddf26"/><path d="M112 232h16" stroke="#b0dd2f"/><path d="M128 232h16" stroke="#9bd93c"/><path d="M144 232h16" stroke="#89d548"/><path d="M160 232h16" stroke="#7ad151"/><path d="M176 232h16" stroke="#6ccd5a"/><path d="M192 232h16" stroke="#75d054"/><path d="M208 232h16" stroke="#89d548"/><path d="M224 232h16" stroke="#93d741"/><path d="M240 232h16" stroke="#8ed645"/><path d="M256 232h16" stroke="#84d44b"/><path d="M272 232h16" stroke="#7ad151"/><path d="M288 232h16" stroke="#70cf57"/><path d="M304 232h16" stroke="#6ccd5a"/><path d="M320 232h16" stroke="#6ccd5a"/><path d="M336 232h16" stroke="#6ccd5a"/><path d="M352 232h16" stroke="#70cf57"/><path d="M368 232h16" stroke="#73d056"/><path d="M384 232h16" stroke="#77d153"/><path d="M400 232h16" stroke="#7ad151"/><path d="M416 232h16" stroke="#7fd34e"/><path d="M-16 248h16" stroke="#75d054"/><path d="M0 248h16" stroke="#7fd34e"/><path d="M16 248h16" stroke="#8ed645"/><path d="M32 248h16" stroke="#9dd93b"/><path d="M48 248h16" stroke="#b2dd2d"/><path d="M64 248h16" stroke="#c2df23"/><path d="M80 248h16" stroke="#c5e021"/><path d="M96 248h16" stroke="#bade28"/><path d="M112 248h16" stroke="#a8db34"/><path d="M128 248h16" stroke="#93d741"/><path d="M144 248h16" stroke="#7fd34e"/><path d="M160 248h16" stroke="#6ece58"/><path d="M176 248h16" stroke="#67cc5c"/><path d="M192 248h16" stroke="#6ccd5a"/><path d="M208 248h16" stroke="#75d054"/><path d="M224 248h16" stroke="#7fd34e"/><path d="M240 248h16" stroke="#7fd34e"/><path d="M256 248h16" stroke="#7ad151"/><path d="M272 248h16" stroke="#75d054"/><path d="M288 248h16" stroke="#6ece58"/><path d="M304 248h16" stroke="#6ccd5a"/><path d="M320 248h16" stroke="#69cd5b"/><path d="M336 248h16" stroke="#6ccd5a"/><path d="M352 248h16" stroke="#6ece58"/><path d="M368 248h16" stroke="#70cf57"/><path d="M384 248h16" stroke="#75d054"/><path d="M400 248h16" stroke="#77d153"/><path d="M416 248h16" stroke="#7cd250"/><path d="M-16 264h16" stroke="#7ad151"/><path d="M0 264h16" stroke="#86d549"/><path d="M16 264h16" stroke="#93d741"/><path d="M32 264h16" stroke="#a2da37"/><path d="M48 264h16" stroke="#b2dd2d"/><path d="M64 264h16" stroke="#c0df25"/><path d="M80 264h16" stroke="#c0df25"/><path d="M96 264h16" stroke="#b2dd2d"/><path d="M112 264h16" stroke="#a0da39"/><path d="M128 264h16" stroke="#8bd646"/><path d="M144 264h16" stroke="#77d153"/><path d="M160 264h16" stroke="#6ccd5a"/><path d="M176 264h16" stroke="#65cb5e"/><path d="M192 264h16" stroke="#65cb5e"/><path d="M208 264h16" stroke="#6ccd5a"/><path d="M224 264h16" stroke="#70cf57"/><path d="M240 264h16" stroke="#73d056"/><path d="M256 264h16" stroke="#73d056"/><path d="M272 264h16" stroke="#6ece58"/><path d="M288 264h16" stroke="#6ccd5a"/><path d="M304 264h16" stroke="#69cd5b"/><path d="M320 264h16" stroke="#69cd5b"/><path d="M336 264h16" stroke="#69cd5b"/><path d="M352 264h16" stroke="#6ccd5a"/><path d="M368 264h16" stroke="#6ece58"/><path d="M384 264h16" stroke="#73d056"/><path d="M400 264h16" stroke="#75d054"/><path d="M416 264h16" stroke="#7ad151"/><path d="M-16 280h16" stroke="#7fd34e"/><path d="M0 280h16" stroke="#8bd646"/><path d="M16 280h16" stroke="#95d840"/><path d="M32 280h16" stroke="#a2da37"/><path d="M48 280h16" stroke="#addc30"/><path d="M64 280h16" stroke="#b5de2b"/><path d="M80 280h16" stroke="#b2dd2d"/><path d="M96 280h16" stroke="#a8db34"/><path d="M112 280h16" stroke="#98d83e"/><path d="M128 280h16" stroke="#86d549"/><path d="M144 280h16" stroke="#75d054"/><path d="M160 280h16" stroke="#69cd5b"/><path d="M176 280h16" stroke="#65cb5e"/><path d="M192 280h16" stroke="#63cb5f"/><path d="M208 280h16" stroke="#65cb5e"/><path d="M224 280h16" stroke="#69cd5b"/><path d="M240 280h16" stroke="#69cd5b"/><path d="M256 280h16" stroke="#6ccd5a"/><path d="M272 280h16" stroke="#69cd5b"/><path d="M288 280h16" stroke="#67cc5c"/><path d="M304 280h16" stroke="#67cc5c"/><path d="M320 280h16" stroke="#67cc5c"/><path d="M336 280h16" stroke="#67cc5c"/><path d="M352 280h16" stroke="#69cd5b"/><path d="M368 280h16" stroke="#6ccd5a"/><path d="M384 280h16" stroke="#70cf57"/><path d="M400 280h16" stroke="#73d056"/><path d="M416 280h16" stroke="#75d054"/><path d="M-16 296h16" stroke="#81d34d"/><path d="M0 296h16" stroke="#8bd646"/><path d="M16 296h16" stroke="#95d840"/><path d="M32 296h16" stroke="#9dd93b"/><path d="M48 296h16" stroke="#a2da37"/><path d="M64 296h16" stroke="#a5db36"/><path d="M80 296h16" stroke="#a5db36"/><path d="M96 296h16" stroke="#9dd93b"/><path d="M112 296h16" stroke="#90d743"/><path d="M128 296h16" stroke="#81d34d"/><path d="M144 296h16" stroke="#73d056"/><path d="M160 296h16" stroke="#69cd5b"/><path d="M176 296h16" stroke="#63cb5f"/><path d="M192 296h16" stroke="#60ca60"/><path d="M208 296h16" stroke="#63cb5f"/><path d="M224 296h16" stroke="#63cb5f"/><path d="M240 296h16" stroke="#65cb5e"/><path d="M256 296h16" stroke="#65cb5e"/><path d="M272 296h16" stroke="#65cb5e"/><path d="M288 296h16" stroke="#65cb5e"/><path d="M304 296h16" stroke="#65cb5e"/><path d="M320 296h16" stroke="#65cb5e"/><path d="M336 296h16" stroke="#67cc5c"/><path d="M352 296h16" stroke="#67cc5c"/><path d="M368 296h16" stroke="#69cd5b"/><path d="M384 296h16" stroke="#6ece58"/><path d="M400 296h16" stroke="#70cf57"/><path d="M416 296h16" stroke="#73d056"/><path d="M-16 312h16" stroke="#84d44b"/><path d="M0 312h16" stroke="#8bd646"/><path d="M16 312h16" stroke="#93d741"/><path d="M32 312h16" stroke="#98d83e"/><path d="M48 312h16" stroke="#9bd93c"/><path d="M64 312h16" stroke="#9bd93c"/><path d="M80 312h16" stroke="#98d83e"/><path d="M96 312h16" stroke="#93d741"/><path d="M112 312h16" stroke="#89d548"/><path d="M128 312h16" stroke="#7cd250"/><path d="M144 312h16" stroke="#73d056"/><path d="M160 312h16" stroke="#69cd5b"/><path d="M176 312h16" stroke="#63cb5f"/><path d="M192 312h16" stroke="#60ca60"/><path d="M208 312h16" stroke="#60ca60"/><path d="M224 312h16" stroke="#60ca60"/><path d="M240 312h16" stroke="#60ca60"/><path d="M256 312h16" stroke="#60ca60"/><path d="M272 312h16" stroke="#60ca60"/><path d="M288 312h16" stroke="#63cb5f"/><path d="M304 312h16" stroke="#63cb5f"/><path d="M320 312h16" stroke="#63cb5f"/><path d="M336 312h16" stroke="#65cb5e"/><path d="M352 312h16" stroke="#67cc5c"/><path d="M368 312h16" stroke="#69cd5b"/><path d="M384 312h16" stroke="#6ccd5a"/><path d="M400 312h16" stroke="#6ece58"/><path d="M416 312h16" stroke="#70cf57"/><path d="M-16 328h16" stroke="#81d34d"/><path d="M0 328h16" stroke="#89d548"/><path d="M16 328h16" stroke="#8ed645"/><path d="M32 328h16" stroke="#90d743"/><path d="M48 328h16" stroke="#93d741"/><path d="M64 328h16" stroke="#93d741"/><path d="M80 328h16" stroke="#90d743"/><path d="M96 328h16" stroke="#8bd646"/><path d="M112 328h16" stroke="#81d34d"/><path d="M128 328h16" stroke="#7ad151"/><path d="M144 328h16" stroke="#70cf57"/><path d="M160 328h16" stroke="#69cd5b"/><path d="M176 328h16" stroke="#63cb5f"/><path d="M192 328h16" stroke="#60ca60"/><path d="M208 328h16" stroke="#5ec962"/><path d="M224 328h16" stroke="#5ec962"/><path d="M240 328h16" stroke="#5ec962"/><path d="M256 328h16" stroke="#5ec962"/><path d="M272 328h16" stroke="#5ec962"/><path d="M288 328h16" stroke="#5ec962"/><path d="M304 328h16" stroke="#60ca60"/><path d="M320 328h16" stroke="#60ca60"/><path d="M336 328h16" stroke="#63cb5f"/><path d="M352 328h16" stroke="#65cb5e"/><path d="M368 328h16" stroke="#67cc5c"/><path d="M384 328h16" stroke="#69cd5b"/><path d="M400 328h16" stroke="#6ccd5a"/><path d="M416 328h16" stroke="#70cf57"/><path d="M-16 344h16" stroke="#7fd34e"/><path d="M0 344h16" stroke="#84d44b"/><path d="M16 344h16" stroke="#89d548"/><path d="M32 344h16" stroke="#8bd646"/><path d="M48 344h16" stroke="#8bd646"/><path d="M64 344h16" stroke="#8bd646"/><path d="M80 344h16" stroke="#89d548"/><path d="M96 344h16" stroke="#84d44b"/><path d="M112 344h16" stroke="#7cd250"/><path d="M128 344h16" stroke="#75d054"/><path d="M144 344h16" stroke="#6ece58"/><path d="M160 344h16" stroke="#67cc5c"/><path d="M176 344h16" stroke="#63cb5f"/><path d="M192 344h16" stroke="#5ec962"/><path d="M208 344h16" stroke="#5ec962"/><path d="M224 344h16" stroke="#5cc863"/><path d="M240 344h16" stroke="#5cc863"/><path d="M256 344h16" stroke="#5cc863"/><path d="M272 344h16" stroke="#5cc863"/><path d="M288 344h16" stroke="#5ec962"/><path d="M304 344h16" stroke="#5ec962"/><path d="M320 344h16" stroke="#60ca60"/><path d="M336 344h16" stroke="#60ca60"/><path d="M352 344h16" stroke="#63cb5f"/><path d="M368 344h16" stroke="#65cb5e"/><path d="M384 344h16" stroke="#67cc5c"/><path d="M400 344h16" stroke="#6ccd5a"/><path d="M416 344h16" stroke="#6ece58"/></g></g><use href="#land"/><use href="#owf"/><use href="#sbar"/></g><rect width="405.5" height="322.8" fill="none" stroke="#505050" stroke-width="1.3"/></g><g transform="translate(86.7,722.6)"><g clip-path="url(#cpA)"><rect width="405.5" height="322.8" fill="#fff"/><g clip-path="url(#csa)"><g filter="url(#bl)" stroke-width="16"><path d="M-16 -8h16" stroke="#1e9b8a"/><path d="M0 -8h16" stroke="#1f948c"/><path d="M16 -8h16" stroke="#228d8d"/><path d="M32 -8h16" stroke="#25848e"/><path d="M48 -8h16" stroke="#287c8e"/><path d="M64 -8h16" stroke="#2c738e"/><path d="M80 -8h16" stroke="#2f6c8e"/><path d="M96 -8h16" stroke="#31668e"/><path d="M112 -8h16" stroke="#34618d"/><path d="M128 -8h16" stroke="#355e8d"/><path d="M144 -8h16" stroke="#365c8d"/><path d="M160 -8h16" stroke="#375b8d"/><path d="M176 -8h16" stroke="#375b8d"/><path d="M192 -8h16" stroke="#365d8d"/><path d="M208 -8h16" stroke="#34618d"/><path d="M224 -8h16" stroke="#32648e"/><path d="M240 -8h16" stroke="#31668e"/><path d="M256 -8h16" stroke="#32658e"/><path d="M272 -8h16" stroke="#32648e"/><path d="M288 -8h16" stroke="#34618d"/><path d="M304 -8h16" stroke="#355f8d"/><path d="M320 -8h16" stroke="#355e8d"/><path d="M336 -8h16" stroke="#355f8d"/><path d="M352 -8h16" stroke="#34608d"/><path d="M368 -8h16" stroke="#34618d"/><path d="M384 -8h16" stroke="#32648e"/><path d="M400 -8h16" stroke="#31668e"/><path d="M416 -8h16" stroke="#30698e"/><path d="M-16 8h16" stroke="#1fa088"/><path d="M0 8h16" stroke="#1f988b"/><path d="M16 8h16" stroke="#21908d"/><path d="M32 8h16" stroke="#24868e"/><path d="M48 8h16" stroke="#287d8e"/><path d="M64 8h16" stroke="#2c728e"/><path d="M80 8h16" stroke="#306a8e"/><path d="M96 8h16" stroke="#33638d"/><path d="M112 8h16" stroke="#355f8d"/><path d="M128 8h16" stroke="#365d8d"/><path d="M144 8h16" stroke="#365c8d"/><path d="M160 8h16" stroke="#365c8d"/><path d="M176 8h16" stroke="#365c8d"/><path d="M192 8h16" stroke="#355e8d"/><path d="M208 8h16" stroke="#32648e"/><path d="M224 8h16" stroke="#30698e"/><path d="M240 8h16" stroke="#306a8e"/><path d="M256 8h16" stroke="#31688e"/><path d="M272 8h16" stroke="#32658e"/><path d="M288 8h16" stroke="#34618d"/><path d="M304 8h16" stroke="#355e8d"/><path d="M320 8h16" stroke="#365d8d"/><path d="M336 8h16" stroke="#355e8d"/><path d="M352 8h16" stroke="#34608d"/><path d="M368 8h16" stroke="#33638d"/><path d="M384 8h16" stroke="#32658e"/><path d="M400 8h16" stroke="#31688e"/><path d="M416 8h16" stroke="#2f6b8e"/><path d="M-16 24h16" stroke="#20a486"/><path d="M0 24h16" stroke="#1e9d89"/><path d="M16 24h16" stroke="#20938c"/><path d="M32 24h16" stroke="#23898e"/><path d="M48 24h16" stroke="#277e8e"/><path d="M64 24h16" stroke="#2c728e"/><path d="M80 24h16" stroke="#31688e"/><path d="M96 24h16" stroke="#34608d"/><path d="M112 24h16" stroke="#375b8d"/><path d="M128 24h16" stroke="#375a8c"/><path d="M144 24h16" stroke="#365c8d"/><path d="M160 24h16" stroke="#355e8d"/><path d="M176 24h16" stroke="#355e8d"/><path d="M192 24h16" stroke="#355e8d"/><path d="M208 24h16" stroke="#30698e"/><path d="M224 24h16" stroke="#2d718e"/><path d="M240 24h16" stroke="#2e6f8e"/><path d="M256 24h16" stroke="#306a8e"/><path d="M272 24h16" stroke="#32658e"/><path d="M288 24h16" stroke="#355f8d"/><path d="M304 24h16" stroke="#365c8d"/><path d="M320 24h16" stroke="#375b8d"/><path d="M336 24h16" stroke="#365d8d"/><path d="M352 24h16" stroke="#34608d"/><path d="M368 24h16" stroke="#32648e"/><path d="M384 24h16" stroke="#31678e"/><path d="M400 24h16" stroke="#2f6b8e"/><path d="M416 24h16" stroke="#2e6e8e"/><path d="M-16 40h16" stroke="#24aa83"/><path d="M0 40h16" stroke="#1fa187"/><path d="M16 40h16" stroke="#1f988b"/><path d="M32 40h16" stroke="#228c8d"/><path d="M48 40h16" stroke="#277f8e"/><path d="M64 40h16" stroke="#2c718e"/><path d="M80 40h16" stroke="#32658e"/><path d="M96 40h16" stroke="#375a8c"/><path d="M112 40h16" stroke="#3a548c"/><path d="M128 40h16" stroke="#39558c"/><path d="M144 40h16" stroke="#375b8d"/><path d="M160 40h16" stroke="#34618d"/><path d="M176 40h16" stroke="#31668e"/><path d="M192 40h16" stroke="#32648e"/><path d="M208 40h16" stroke="#2d718e"/><path d="M224 40h16" stroke="#2b758e"/><path d="M240 40h16" stroke="#2d708e"/><path d="M256 40h16" stroke="#30698e"/><path d="M272 40h16" stroke="#33628d"/><path d="M288 40h16" stroke="#375a8c"/><path d="M304 40h16" stroke="#39558c"/><path d="M320 40h16" stroke="#39558c"/><path d="M336 40h16" stroke="#375a8c"/><path d="M352 40h16" stroke="#34608d"/><path d="M368 40h16" stroke="#31668e"/><path d="M384 40h16" stroke="#306a8e"/><path d="M400 40h16" stroke="#2e6e8e"/><path d="M416 40h16" stroke="#2c718e"/><path d="M-16 56h16" stroke="#29af7f"/><path d="M0 56h16" stroke="#22a785"/><path d="M16 56h16" stroke="#1e9d89"/><path d="M32 56h16" stroke="#21908d"/><path d="M48 56h16" stroke="#26818e"/><path d="M64 56h16" stroke="#2d718e"/><path d="M80 56h16" stroke="#34618d"/><path d="M96 56h16" stroke="#3b528b"/><path d="M112 56h16" stroke="#3e4989"/><path d="M128 56h16" stroke="#3e4c8a"/><path d="M144 56h16" stroke="#3a548c"/><path d="M160 56h16" stroke="#34608d"/><path d="M176 56h16" stroke="#306a8e"/><path d="M192 56h16" stroke="#2d718e"/><path d="M208 56h16" stroke="#2b748e"/><path d="M224 56h16" stroke="#2c718e"/><path d="M240 56h16" stroke="#306a8e"/><path d="M256 56h16" stroke="#33638d"/><path d="M272 56h16" stroke="#375a8c"/><path d="M288 56h16" stroke="#3c508b"/><path d="M304 56h16" stroke="#3e4c8a"/><path d="M320 56h16" stroke="#3c4f8a"/><path d="M336 56h16" stroke="#38598c"/><path d="M352 56h16" stroke="#33628d"/><path d="M368 56h16" stroke="#31688e"/><path d="M384 56h16" stroke="#2e6d8e"/><path d="M400 56h16" stroke="#2c718e"/><path d="M416 56h16" stroke="#2b758e"/><path d="M-16 72h16" stroke="#31b57b"/><path d="M0 72h16" stroke="#27ad81"/><path d="M16 72h16" stroke="#20a386"/><path d="M32 72h16" stroke="#1f958b"/><path d="M48 72h16" stroke="#25848e"/><path d="M64 72h16" stroke="#2c718e"/><path d="M80 72h16" stroke="#355e8d"/><path d="M96 72h16" stroke="#3e4989"/><path d="M112 72h16" stroke="#443a83"/><path d="M128 72h16" stroke="#443b84"/><path d="M144 72h16" stroke="#404688"/><path d="M160 72h16" stroke="#3b528b"/><path d="M176 72h16" stroke="#34608d"/><path d="M192 72h16" stroke="#306a8e"/><path d="M208 72h16" stroke="#2f6c8e"/><path d="M224 72h16" stroke="#33628d"/><path d="M240 72h16" stroke="#38588c"/><path d="M256 72h16" stroke="#3a538b"/><path d="M272 72h16" stroke="#3e4a89"/><path d="M288 72h16" stroke="#424086"/><path d="M304 72h16" stroke="#433e85"/><path d="M320 72h16" stroke="#3f4889"/><path d="M336 72h16" stroke="#38598c"/><path d="M352 72h16" stroke="#32658e"/><path d="M368 72h16" stroke="#2e6d8e"/><path d="M384 72h16" stroke="#2d718e"/><path d="M400 72h16" stroke="#2b758e"/><path d="M416 72h16" stroke="#29798e"/><path d="M-16 88h16" stroke="#3aba76"/><path d="M0 88h16" stroke="#2fb47c"/><path d="M16 88h16" stroke="#24aa83"/><path d="M32 88h16" stroke="#1e9c89"/><path d="M48 88h16" stroke="#238a8d"/><path d="M64 88h16" stroke="#2b748e"/><path d="M80 88h16" stroke="#365d8d"/><path d="M96 88h16" stroke="#414287"/><path d="M112 88h16" stroke="#472d7b"/><path d="M128 88h16" stroke="#472c7a"/><path d="M144 88h16" stroke="#46337f"/><path d="M160 88h16" stroke="#433e85"/><path d="M176 88h16" stroke="#3c4f8a"/><path d="M192 88h16" stroke="#355e8d"/><path d="M208 88h16" stroke="#375a8c"/><path d="M224 88h16" stroke="#3e4a89"/><path d="M240 88h16" stroke="#423f85"/><path d="M256 88h16" stroke="#443983"/><path d="M272 88h16" stroke="#46327e"/><path d="M288 88h16" stroke="#472e7c"/><path d="M304 88h16" stroke="#463480"/><path d="M320 88h16" stroke="#404588"/><path d="M336 88h16" stroke="#355e8d"/><path d="M352 88h16" stroke="#2f6c8e"/><path d="M368 88h16" stroke="#2c718e"/><path d="M384 88h16" stroke="#2b758e"/><path d="M400 88h16" stroke="#29798e"/><path d="M416 88h16" stroke="#277e8e"/><path d="M-16 104h16" stroke="#3bbb75"/><path d="M0 104h16" stroke="#38b977"/><path d="M16 104h16" stroke="#2cb17e"/><path d="M32 104h16" stroke="#20a386"/><path d="M48 104h16" stroke="#21918c"/><path d="M64 104h16" stroke="#29798e"/><path d="M80 104h16" stroke="#355f8d"/><path d="M96 104h16" stroke="#424186"/><path d="M112 104h16" stroke="#472a7a"/><path d="M128 104h16" stroke="#482576"/><path d="M144 104h16" stroke="#482878"/><path d="M160 104h16" stroke="#472e7c"/><path d="M176 104h16" stroke="#423f85"/><path d="M192 104h16" stroke="#3c4f8a"/><path d="M208 104h16" stroke="#3e4989"/><path d="M224 104h16" stroke="#443983"/><path d="M240 104h16" stroke="#472d7b"/><path d="M256 104h16" stroke="#482677"/><path d="M272 104h16" stroke="#482475"/><path d="M288 104h16" stroke="#482979"/><path d="M304 104h16" stroke="#453882"/><path d="M320 104h16" stroke="#3d4d8a"/><path d="M336 104h16" stroke="#32658e"/><path d="M352 104h16" stroke="#2d718e"/><path d="M368 104h16" stroke="#2b748e"/><path d="M384 104h16" stroke="#29798e"/><path d="M400 104h16" stroke="#277e8e"/><path d="M416 104h16" stroke="#26828e"/><path d="M-16 120h16" stroke="#3bbb75"/><path d="M0 120h16" stroke="#3bbb75"/><path d="M16 120h16" stroke="#34b679"/><path d="M32 120h16" stroke="#25ab82"/><path d="M48 120h16" stroke="#1f998a"/><path d="M64 120h16" stroke="#26818e"/><path d="M80 120h16" stroke="#31668e"/><path d="M96 120h16" stroke="#414287"/><path d="M112 120h16" stroke="#482576"/><path d="M128 120h16" stroke="#481d6f"/><path d="M144 120h16" stroke="#482071"/><path d="M160 120h16" stroke="#482576"/><path d="M176 120h16" stroke="#472f7d"/><path d="M192 120h16" stroke="#443983"/><path d="M208 120h16" stroke="#453882"/><path d="M224 120h16" stroke="#472c7a"/><path d="M240 120h16" stroke="#482475"/><path d="M256 120h16" stroke="#482878"/><path d="M272 120h16" stroke="#46307e"/><path d="M288 120h16" stroke="#443b84"/><path d="M304 120h16" stroke="#404688"/><path d="M320 120h16" stroke="#38588c"/><path d="M336 120h16" stroke="#30698e"/><path d="M352 120h16" stroke="#2c718e"/><path d="M368 120h16" stroke="#2a778e"/><path d="M384 120h16" stroke="#277e8e"/><path d="M400 120h16" stroke="#25848e"/><path d="M416 120h16" stroke="#238a8d"/><path d="M-16 136h16" stroke="#3bbb75"/><path d="M0 136h16" stroke="#3bbb75"/><path d="M16 136h16" stroke="#38b977"/><path d="M32 136h16" stroke="#29af7f"/><path d="M48 136h16" stroke="#1f9f88"/><path d="M64 136h16" stroke="#23888e"/><path d="M80 136h16" stroke="#2e6f8e"/><path d="M96 136h16" stroke="#404588"/><path d="M112 136h16" stroke="#481d6f"/><path d="M128 136h16" stroke="#481668"/><path d="M144 136h16" stroke="#481a6c"/><path d="M160 136h16" stroke="#481f70"/><path d="M176 136h16" stroke="#482475"/><path d="M192 136h16" stroke="#472d7b"/><path d="M208 136h16" stroke="#472f7d"/><path d="M224 136h16" stroke="#482374"/><path d="M240 136h16" stroke="#482878"/><path d="M256 136h16" stroke="#443983"/><path d="M272 136h16" stroke="#3d4e8a"/><path d="M288 136h16" stroke="#365c8d"/><path d="M304 136h16" stroke="#355e8d"/><path d="M320 136h16" stroke="#31678e"/><path d="M336 136h16" stroke="#29798e"/><path d="M352 136h16" stroke="#27808e"/><path d="M368 136h16" stroke="#25838e"/><path d="M384 136h16" stroke="#24878e"/><path d="M400 136h16" stroke="#228d8d"/><path d="M416 136h16" stroke="#20938c"/><path d="M-16 152h16" stroke="#3bbb75"/><path d="M0 152h16" stroke="#3bbb75"/><path d="M16 152h16" stroke="#34b679"/><path d="M32 152h16" stroke="#25ac82"/><path d="M48 152h16" stroke="#1e9c89"/><path d="M64 152h16" stroke="#25838e"/><path d="M80 152h16" stroke="#306a8e"/><path d="M96 152h16" stroke="#424186"/><path d="M112 152h16" stroke="#481b6d"/><path d="M128 152h16" stroke="#471365"/><path d="M144 152h16" stroke="#481769"/><path d="M160 152h16" stroke="#481b6d"/><path d="M176 152h16" stroke="#482173"/><path d="M192 152h16" stroke="#472a7a"/><path d="M208 152h16" stroke="#482979"/><path d="M224 152h16" stroke="#482374"/><path d="M240 152h16" stroke="#443b84"/><path d="M256 152h16" stroke="#3a538b"/><path d="M272 152h16" stroke="#2f6b8e"/><path d="M288 152h16" stroke="#297b8e"/><path d="M304 152h16" stroke="#297b8e"/><path d="M320 152h16" stroke="#25848e"/><path d="M336 152h16" stroke="#1f978b"/><path d="M352 152h16" stroke="#1f968b"/><path d="M368 152h16" stroke="#20928c"/><path d="M384 152h16" stroke="#1f948c"/><path d="M400 152h16" stroke="#1f9a8a"/><path d="M416 152h16" stroke="#1fa088"/><path d="M-16 168h16" stroke="#3bbb75"/><path d="M0 168h16" stroke="#35b779"/><path d="M16 168h16" stroke="#2ab07f"/><path d="M32 168h16" stroke="#1fa188"/><path d="M48 168h16" stroke="#23898e"/><path d="M64 168h16" stroke="#2e6d8e"/><path d="M80 168h16" stroke="#3f4788"/><path d="M96 168h16" stroke="#482374"/><path d="M112 168h16" stroke="#460b5e"/><path d="M128 168h16" stroke="#470d60"/><path d="M144 168h16" stroke="#481a6c"/><path d="M160 168h16" stroke="#482173"/><path d="M176 168h16" stroke="#472d7b"/><path d="M192 168h16" stroke="#443983"/><path d="M208 168h16" stroke="#424086"/><path d="M224 168h16" stroke="#3c4f8a"/><path d="M240 168h16" stroke="#33638d"/><path d="M256 168h16" stroke="#2b758e"/><path d="M272 168h16" stroke="#25848e"/><path d="M288 168h16" stroke="#21918c"/><path d="M304 168h16" stroke="#1e9c89"/><path d="M320 168h16" stroke="#21a685"/><path d="M336 168h16" stroke="#2ab07f"/><path d="M352 168h16" stroke="#28ae80"/><path d="M368 168h16" stroke="#24aa83"/><path d="M384 168h16" stroke="#22a884"/><path d="M400 168h16" stroke="#25ab82"/><path d="M416 168h16" stroke="#29af7f"/><path d="M-16 184h16" stroke="#2db27d"/><path d="M0 184h16" stroke="#29af7f"/><path d="M16 184h16" stroke="#22a785"/><path d="M32 184h16" stroke="#1f978b"/><path d="M48 184h16" stroke="#277e8e"/><path d="M64 184h16" stroke="#375a8c"/><path d="M80 184h16" stroke="#472d7b"/><path d="M96 184h16" stroke="#470e61"/><path d="M112 184h16" stroke="#450457"/><path d="M128 184h16" stroke="#471063"/><path d="M144 184h16" stroke="#482475"/><path d="M160 184h16" stroke="#453581"/><path d="M176 184h16" stroke="#3d4d8a"/><path d="M192 184h16" stroke="#365d8d"/><path d="M208 184h16" stroke="#31668e"/><path d="M224 184h16" stroke="#2b758e"/><path d="M240 184h16" stroke="#25848e"/><path d="M256 184h16" stroke="#20928c"/><path d="M272 184h16" stroke="#1fa187"/><path d="M288 184h16" stroke="#29af7f"/><path d="M304 184h16" stroke="#3bbb75"/><path d="M320 184h16" stroke="#3bbb75"/><path d="M336 184h16" stroke="#3bbb75"/><path d="M352 184h16" stroke="#3bbb75"/><path d="M368 184h16" stroke="#3bbb75"/><path d="M384 184h16" stroke="#3bbb75"/><path d="M400 184h16" stroke="#3bbb75"/><path d="M416 184h16" stroke="#3bbb75"/><path d="M-16 200h16" stroke="#21a685"/><path d="M0 200h16" stroke="#20a386"/><path d="M16 200h16" stroke="#1e9c89"/><path d="M32 200h16" stroke="#228d8d"/><path d="M48 200h16" stroke="#2b748e"/><path d="M64 200h16" stroke="#3e4a89"/><path d="M80 200h16" stroke="#482071"/><path d="M96 200h16" stroke="#471063"/><path d="M112 200h16" stroke="#482173"/><path d="M128 200h16" stroke="#453581"/><path d="M144 200h16" stroke="#414287"/><path d="M160 200h16" stroke="#3a548c"/><path d="M176 200h16" stroke="#2c718e"/><path d="M192 200h16" stroke="#287c8e"/><path d="M208 200h16" stroke="#277f8e"/><path d="M224 200h16" stroke="#238a8d"/><path d="M240 200h16" stroke="#1f998a"/><path d="M256 200h16" stroke="#24aa83"/><path d="M272 200h16" stroke="#3aba76"/><path d="M288 200h16" stroke="#3bbb75"/><path d="M304 200h16" stroke="#3bbb75"/><path d="M320 200h16" stroke="#3bbb75"/><path d="M336 200h16" stroke="#3bbb75"/><path d="M352 200h16" stroke="#3bbb75"/><path d="M368 200h16" stroke="#3bbb75"/><path d="M384 200h16" stroke="#3bbb75"/><path d="M400 200h16" stroke="#3bbb75"/><path d="M416 200h16" stroke="#3bbb75"/><path d="M-16 216h16" stroke="#1f978b"/><path d="M0 216h16" stroke="#1f948c"/><path d="M16 216h16" stroke="#218e8d"/><path d="M32 216h16" stroke="#277f8e"/><path d="M48 216h16" stroke="#355f8d"/><path d="M64 216h16" stroke="#453882"/><path d="M80 216h16" stroke="#482576"/><path d="M96 216h16" stroke="#453882"/><path d="M112 216h16" stroke="#3a538b"/><path d="M128 216h16" stroke="#33628d"/><path d="M144 216h16" stroke="#306a8e"/><path d="M160 216h16" stroke="#297a8e"/><path d="M176 216h16" stroke="#228b8d"/><path d="M192 216h16" stroke="#228c8d"/><path d="M208 216h16" stroke="#1f988b"/><path d="M224 216h16" stroke="#1fa188"/><path d="M240 216h16" stroke="#28ae80"/><path d="M256 216h16" stroke="#3bbb75"/><path d="M272 216h16" stroke="#3bbb75"/><path d="M288 216h16" stroke="#3bbb75"/><path d="M304 216h16" stroke="#3bbb75"/><path d="M320 216h16" stroke="#3bbb75"/><path d="M336 216h16" stroke="#3bbb75"/><path d="M352 216h16" stroke="#3bbb75"/><path d="M368 216h16" stroke="#3bbb75"/><path d="M384 216h16" stroke="#3bbb75"/><path d="M400 216h16" stroke="#3bbb75"/><path d="M416 216h16" stroke="#3bbb75"/><path d="M-16 232h16" stroke="#24868e"/><path d="M0 232h16" stroke="#26828e"/><path d="M16 232h16" stroke="#297b8e"/><path d="M32 232h16" stroke="#2f6b8e"/><path d="M48 232h16" stroke="#3e4989"/><path d="M64 232h16" stroke="#46327e"/><path d="M80 232h16" stroke="#424186"/><path d="M96 232h16" stroke="#2f6b8e"/><path d="M112 232h16" stroke="#25838e"/><path d="M128 232h16" stroke="#287c8e"/><path d="M144 232h16" stroke="#228b8d"/><path d="M160 232h16" stroke="#1fa088"/><path d="M176 232h16" stroke="#27ad81"/><path d="M192 232h16" stroke="#32b67a"/><path d="M208 232h16" stroke="#3bbb75"/><path d="M224 232h16" stroke="#3bbb75"/><path d="M240 232h16" stroke="#3bbb75"/><path d="M256 232h16" stroke="#3bbb75"/><path d="M272 232h16" stroke="#3bbb75"/><path d="M288 232h16" stroke="#3bbb75"/><path d="M304 232h16" stroke="#3bbb75"/><path d="M320 232h16" stroke="#3bbb75"/><path d="M336 232h16" stroke="#3bbb75"/><path d="M352 232h16" stroke="#3bbb75"/><path d="M368 232h16" stroke="#3bbb75"/><path d="M384 232h16" stroke="#3bbb75"/><path d="M400 232h16" stroke="#3bbb75"/><path d="M416 232h16" stroke="#3bbb75"/><path d="M-16 248h16" stroke="#2b758e"/><path d="M0 248h16" stroke="#2c718e"/><path d="M16 248h16" stroke="#306a8e"/><path d="M32 248h16" stroke="#375a8c"/><path d="M48 248h16" stroke="#414287"/><path d="M64 248h16" stroke="#3e4a89"/><path d="M80 248h16" stroke="#2e6d8e"/><path d="M96 248h16" stroke="#21918c"/><path d="M112 248h16" stroke="#1fa287"/><path d="M128 248h16" stroke="#20a386"/><path d="M144 248h16" stroke="#28ae80"/><path d="M160 248h16" stroke="#3bbb75"/><path d="M176 248h16" stroke="#3bbb75"/><path d="M192 248h16" stroke="#3bbb75"/><path d="M208 248h16" stroke="#3bbb75"/><path d="M224 248h16" stroke="#3bbb75"/><path d="M240 248h16" stroke="#3bbb75"/><path d="M256 248h16" stroke="#3bbb75"/><path d="M272 248h16" stroke="#3bbb75"/><path d="M288 248h16" stroke="#3bbb75"/><path d="M304 248h16" stroke="#3bbb75"/><path d="M320 248h16" stroke="#3bbb75"/><path d="M336 248h16" stroke="#3bbb75"/><path d="M352 248h16" stroke="#3bbb75"/><path d="M368 248h16" stroke="#3bbb75"/><path d="M384 248h16" stroke="#3bbb75"/><path d="M400 248h16" stroke="#3bbb75"/><path d="M416 248h16" stroke="#3bbb75"/><path d="M-16 264h16" stroke="#32658e"/><path d="M0 264h16" stroke="#33638d"/><path d="M16 264h16" stroke="#34608d"/><path d="M32 264h16" stroke="#375b8d"/><path d="M48 264h16" stroke="#365d8d"/><path d="M64 264h16" stroke="#2c738e"/><path d="M80 264h16" stroke="#1f978b"/><path d="M96 264h16" stroke="#2db27d"/><path d="M112 264h16" stroke="#3bbb75"/><path d="M128 264h16" stroke="#3bbb75"/><path d="M144 264h16" stroke="#3bbb75"/><path d="M160 264h16" stroke="#3bbb75"/><path d="M176 264h16" stroke="#3bbb75"/><path d="M192 264h16" stroke="#3bbb75"/><path d="M208 264h16" stroke="#3bbb75"/><path d="M224 264h16" stroke="#3bbb75"/><path d="M240 264h16" stroke="#3bbb75"/><path d="M256 264h16" stroke="#3bbb75"/><path d="M272 264h16" stroke="#3bbb75"/><path d="M288 264h16" stroke="#3bbb75"/><path d="M304 264h16" stroke="#3bbb75"/><path d="M320 264h16" stroke="#3bbb75"/><path d="M336 264h16" stroke="#3bbb75"/><path d="M352 264h16" stroke="#3bbb75"/><path d="M368 264h16" stroke="#3bbb75"/><path d="M384 264h16" stroke="#3bbb75"/><path d="M400 264h16" stroke="#3bbb75"/><path d="M416 264h16" stroke="#3bbb75"/><path d="M-16 280h16" stroke="#39568c"/><path d="M0 280h16" stroke="#39568c"/><path d="M16 280h16" stroke="#375a8c"/><path d="M32 280h16" stroke="#32648e"/><path d="M48 280h16" stroke="#2b758e"/><path d="M64 280h16" stroke="#1f958b"/><path d="M80 280h16" stroke="#35b779"/><path d="M96 280h16" stroke="#3bbb75"/><path d="M112 280h16" stroke="#3bbb75"/><path d="M128 280h16" stroke="#3bbb75"/><path d="M144 280h16" stroke="#3bbb75"/><path d="M160 280h16" stroke="#3bbb75"/><path d="M176 280h16" stroke="#3bbb75"/><path d="M192 280h16" stroke="#3bbb75"/><path d="M208 280h16" stroke="#3bbb75"/><path d="M224 280h16" stroke="#3bbb75"/><path d="M240 280h16" stroke="#3bbb75"/><path d="M256 280h16" stroke="#3bbb75"/><path d="M272 280h16" stroke="#3bbb75"/><path d="M288 280h16" stroke="#3bbb75"/><path d="M304 280h16" stroke="#3bbb75"/><path d="M320 280h16" stroke="#3bbb75"/><path d="M336 280h16" stroke="#3bbb75"/><path d="M352 280h16" stroke="#3bbb75"/><path d="M368 280h16" stroke="#3bbb75"/><path d="M384 280h16" stroke="#3bbb75"/><path d="M400 280h16" stroke="#3bbb75"/><path d="M416 280h16" stroke="#3bbb75"/><path d="M-16 296h16" stroke="#3d4d8a"/><path d="M0 296h16" stroke="#3d4d8a"/><path d="M16 296h16" stroke="#39558c"/><path d="M32 296h16" stroke="#306a8e"/><path d="M48 296h16" stroke="#25838e"/><path d="M64 296h16" stroke="#21a685"/><path d="M80 296h16" stroke="#3bbb75"/><path d="M96 296h16" stroke="#3bbb75"/><path d="M112 296h16" stroke="#3bbb75"/><path d="M128 296h16" stroke="#3bbb75"/><path d="M144 296h16" stroke="#3bbb75"/><path d="M160 296h16" stroke="#3bbb75"/><path d="M176 296h16" stroke="#3bbb75"/><path d="M192 296h16" stroke="#3bbb75"/><path d="M208 296h16" stroke="#3bbb75"/><path d="M224 296h16" stroke="#3bbb75"/><path d="M240 296h16" stroke="#3bbb75"/><path d="M256 296h16" stroke="#3bbb75"/><path d="M272 296h16" stroke="#3bbb75"/><path d="M288 296h16" stroke="#3bbb75"/><path d="M304 296h16" stroke="#3bbb75"/><path d="M320 296h16" stroke="#3bbb75"/><path d="M336 296h16" stroke="#3bbb75"/><path d="M352 296h16" stroke="#3bbb75"/><path d="M368 296h16" stroke="#3bbb75"/><path d="M384 296h16" stroke="#3bbb75"/><path d="M400 296h16" stroke="#3bbb75"/><path d="M416 296h16" stroke="#3bbb75"/><path d="M-16 312h16" stroke="#3e4989"/><path d="M0 312h16" stroke="#3d4e8a"/><path d="M16 312h16" stroke="#375b8d"/><path d="M32 312h16" stroke="#2c718e"/><path d="M48 312h16" stroke="#218f8d"/><path d="M64 312h16" stroke="#2ab07f"/><path d="M80 312h16" stroke="#3bbb75"/><path d="M96 312h16" stroke="#3bbb75"/><path d="M112 312h16" stroke="#3bbb75"/><path d="M128 312h16" stroke="#3bbb75"/><path d="M144 312h16" stroke="#3bbb75"/><path d="M160 312h16" stroke="#3bbb75"/><path d="M176 312h16" stroke="#3bbb75"/><path d="M192 312h16" stroke="#3bbb75"/><path d="M208 312h16" stroke="#3bbb75"/><path d="M224 312h16" stroke="#3bbb75"/><path d="M240 312h16" stroke="#3bbb75"/><path d="M256 312h16" stroke="#3bbb75"/><path d="M272 312h16" stroke="#3bbb75"/><path d="M288 312h16" stroke="#3bbb75"/><path d="M304 312h16" stroke="#3bbb75"/><path d="M320 312h16" stroke="#3bbb75"/><path d="M336 312h16" stroke="#3bbb75"/><path d="M352 312h16" stroke="#3bbb75"/><path d="M368 312h16" stroke="#3bbb75"/><path d="M384 312h16" stroke="#3bbb75"/><path d="M400 312h16" stroke="#3bbb75"/><path d="M416 312h16" stroke="#3bbb75"/><path d="M-16 328h16" stroke="#3d4e8a"/><path d="M0 328h16" stroke="#39568c"/><path d="M16 328h16" stroke="#31668e"/><path d="M32 328h16" stroke="#287d8e"/><path d="M48 328h16" stroke="#1f998a"/><path d="M64 328h16" stroke="#37b878"/><path d="M80 328h16" stroke="#3bbb75"/><path d="M96 328h16" stroke="#3bbb75"/><path d="M112 328h16" stroke="#3bbb75"/><path d="M128 328h16" stroke="#3bbb75"/><path d="M144 328h16" stroke="#3bbb75"/><path d="M160 328h16" stroke="#3bbb75"/><path d="M176 328h16" stroke="#3bbb75"/><path d="M192 328h16" stroke="#3bbb75"/><path d="M208 328h16" stroke="#3bbb75"/><path d="M224 328h16" stroke="#3bbb75"/><path d="M240 328h16" stroke="#3bbb75"/><path d="M256 328h16" stroke="#3bbb75"/><path d="M272 328h16" stroke="#3bbb75"/><path d="M288 328h16" stroke="#3bbb75"/><path d="M304 328h16" stroke="#3bbb75"/><path d="M320 328h16" stroke="#3bbb75"/><path d="M336 328h16" stroke="#3bbb75"/><path d="M352 328h16" stroke="#3bbb75"/><path d="M368 328h16" stroke="#3bbb75"/><path d="M384 328h16" stroke="#3bbb75"/><path d="M400 328h16" stroke="#3bbb75"/><path d="M416 328h16" stroke="#3bbb75"/><path d="M-16 344h16" stroke="#39568c"/><path d="M0 344h16" stroke="#33628d"/><path d="M16 344h16" stroke="#2c728e"/><path d="M32 344h16" stroke="#23888e"/><path d="M48 344h16" stroke="#20a386"/><path d="M64 344h16" stroke="#3bbb75"/><path d="M80 344h16" stroke="#3bbb75"/><path d="M96 344h16" stroke="#3bbb75"/><path d="M112 344h16" stroke="#3bbb75"/><path d="M128 344h16" stroke="#3bbb75"/><path d="M144 344h16" stroke="#3bbb75"/><path d="M160 344h16" stroke="#3bbb75"/><path d="M176 344h16" stroke="#3bbb75"/><path d="M192 344h16" stroke="#3bbb75"/><path d="M208 344h16" stroke="#3bbb75"/><path d="M224 344h16" stroke="#3bbb75"/><path d="M240 344h16" stroke="#3bbb75"/><path d="M256 344h16" stroke="#3bbb75"/><path d="M272 344h16" stroke="#3bbb75"/><path d="M288 344h16" stroke="#3bbb75"/><path d="M304 344h16" stroke="#3bbb75"/><path d="M320 344h16" stroke="#3bbb75"/><path d="M336 344h16" stroke="#3bbb75"/><path d="M352 344h16" stroke="#3bbb75"/><path d="M368 344h16" stroke="#3bbb75"/><path d="M384 344h16" stroke="#3bbb75"/><path d="M400 344h16" stroke="#3bbb75"/><path d="M416 344h16" stroke="#3bbb75"/></g></g><use href="#land"/><use href="#owf"/><use href="#sbar"/></g><rect width="405.5" height="322.8" fill="none" stroke="#505050" stroke-width="1.3"/></g><g transform="translate(86.7,1061.5)"><g clip-path="url(#cpA)"><rect width="405.5" height="322.8" fill="#fff"/><g clip-path="url(#csa)"><g filter="url(#bl)" stroke-width="16"><path d="M-16 -8h16" stroke="#40bd72"/><path d="M0 -8h16" stroke="#44bf70"/><path d="M16 -8h16" stroke="#4cc26c"/><path d="M32 -8h16" stroke="#52c569"/><path d="M48 -8h16" stroke="#5ac864"/><path d="M64 -8h16" stroke="#60ca60"/><path d="M80 -8h16" stroke="#67cc5c"/><path d="M96 -8h16" stroke="#6ece58"/><path d="M112 -8h16" stroke="#75d054"/><path d="M128 -8h16" stroke="#7cd250"/><path d="M144 -8h16" stroke="#81d34d"/><path d="M160 -8h16" stroke="#8bd646"/><path d="M176 -8h16" stroke="#93d741"/><path d="M192 -8h16" stroke="#9dd93b"/><path d="M208 -8h16" stroke="#a5db36"/><path d="M224 -8h16" stroke="#aadc32"/><path d="M240 -8h16" stroke="#aadc32"/><path d="M256 -8h16" stroke="#aadc32"/><path d="M272 -8h16" stroke="#a8db34"/><path d="M288 -8h16" stroke="#a5db36"/><path d="M304 -8h16" stroke="#a5db36"/><path d="M320 -8h16" stroke="#a5db36"/><path d="M336 -8h16" stroke="#a5db36"/><path d="M352 -8h16" stroke="#a5db36"/><path d="M368 -8h16" stroke="#a5db36"/><path d="M384 -8h16" stroke="#a5db36"/><path d="M400 -8h16" stroke="#a2da37"/><path d="M416 -8h16" stroke="#a0da39"/><path d="M-16 8h16" stroke="#3bbb75"/><path d="M0 8h16" stroke="#40bd72"/><path d="M16 8h16" stroke="#46c06f"/><path d="M32 8h16" stroke="#4ec36b"/><path d="M48 8h16" stroke="#56c667"/><path d="M64 8h16" stroke="#5ec962"/><path d="M80 8h16" stroke="#67cc5c"/><path d="M96 8h16" stroke="#6ece58"/><path d="M112 8h16" stroke="#73d056"/><path d="M128 8h16" stroke="#7ad151"/><path d="M144 8h16" stroke="#7fd34e"/><path d="M160 8h16" stroke="#86d549"/><path d="M176 8h16" stroke="#90d743"/><path d="M192 8h16" stroke="#9dd93b"/><path d="M208 8h16" stroke="#a5db36"/><path d="M224 8h16" stroke="#aadc32"/><path d="M240 8h16" stroke="#a8db34"/><path d="M256 8h16" stroke="#a5db36"/><path d="M272 8h16" stroke="#a0da39"/><path d="M288 8h16" stroke="#9dd93b"/><path d="M304 8h16" stroke="#9bd93c"/><path d="M320 8h16" stroke="#9bd93c"/><path d="M336 8h16" stroke="#9dd93b"/><path d="M352 8h16" stroke="#9dd93b"/><path d="M368 8h16" stroke="#a0da39"/><path d="M384 8h16" stroke="#9dd93b"/><path d="M400 8h16" stroke="#9dd93b"/><path d="M416 8h16" stroke="#98d83e"/><path d="M-16 24h16" stroke="#37b878"/><path d="M0 24h16" stroke="#3bbb75"/><path d="M16 24h16" stroke="#40bd72"/><path d="M32 24h16" stroke="#4ac16d"/><path d="M48 24h16" stroke="#54c568"/><path d="M64 24h16" stroke="#5ec962"/><path d="M80 24h16" stroke="#67cc5c"/><path d="M96 24h16" stroke="#6ece58"/><path d="M112 24h16" stroke="#73d056"/><path d="M128 24h16" stroke="#77d153"/><path d="M144 24h16" stroke="#7cd250"/><path d="M160 24h16" stroke="#84d44b"/><path d="M176 24h16" stroke="#8ed645"/><path d="M192 24h16" stroke="#9dd93b"/><path d="M208 24h16" stroke="#a8db34"/><path d="M224 24h16" stroke="#aadc32"/><path d="M240 24h16" stroke="#a8db34"/><path d="M256 24h16" stroke="#a0da39"/><path d="M272 24h16" stroke="#98d83e"/><path d="M288 24h16" stroke="#93d741"/><path d="M304 24h16" stroke="#90d743"/><path d="M320 24h16" stroke="#93d741"/><path d="M336 24h16" stroke="#95d840"/><path d="M352 24h16" stroke="#95d840"/><path d="M368 24h16" stroke="#98d83e"/><path d="M384 24h16" stroke="#98d83e"/><path d="M400 24h16" stroke="#95d840"/><path d="M416 24h16" stroke="#90d743"/><path d="M-16 40h16" stroke="#31b57b"/><path d="M0 40h16" stroke="#35b779"/><path d="M16 40h16" stroke="#3dbc74"/><path d="M32 40h16" stroke="#46c06f"/><path d="M48 40h16" stroke="#50c46a"/><path d="M64 40h16" stroke="#5cc863"/><path d="M80 40h16" stroke="#69cd5b"/><path d="M96 40h16" stroke="#70cf57"/><path d="M112 40h16" stroke="#75d054"/><path d="M128 40h16" stroke="#77d153"/><path d="M144 40h16" stroke="#7cd250"/><path d="M160 40h16" stroke="#81d34d"/><path d="M176 40h16" stroke="#8ed645"/><path d="M192 40h16" stroke="#9dd93b"/><path d="M208 40h16" stroke="#addc30"/><path d="M224 40h16" stroke="#aadc32"/><path d="M240 40h16" stroke="#a2da37"/><path d="M256 40h16" stroke="#98d83e"/><path d="M272 40h16" stroke="#8bd646"/><path d="M288 40h16" stroke="#86d549"/><path d="M304 40h16" stroke="#86d549"/><path d="M320 40h16" stroke="#89d548"/><path d="M336 40h16" stroke="#8ed645"/><path d="M352 40h16" stroke="#90d743"/><path d="M368 40h16" stroke="#90d743"/><path d="M384 40h16" stroke="#90d743"/><path d="M400 40h16" stroke="#8ed645"/><path d="M416 40h16" stroke="#89d548"/><path d="M-16 56h16" stroke="#2db27d"/><path d="M0 56h16" stroke="#31b57b"/><path d="M16 56h16" stroke="#37b878"/><path d="M32 56h16" stroke="#40bd72"/><path d="M48 56h16" stroke="#4ec36b"/><path d="M64 56h16" stroke="#5cc863"/><path d="M80 56h16" stroke="#6ccd5a"/><path d="M96 56h16" stroke="#77d153"/><path d="M112 56h16" stroke="#7cd250"/><path d="M128 56h16" stroke="#7cd250"/><path d="M144 56h16" stroke="#7cd250"/><path d="M160 56h16" stroke="#84d44b"/><path d="M176 56h16" stroke="#8ed645"/><path d="M192 56h16" stroke="#a0da39"/><path d="M208 56h16" stroke="#aadc32"/><path d="M224 56h16" stroke="#a8db34"/><path d="M240 56h16" stroke="#98d83e"/><path d="M256 56h16" stroke="#89d548"/><path d="M272 56h16" stroke="#7cd250"/><path d="M288 56h16" stroke="#77d153"/><path d="M304 56h16" stroke="#7cd250"/><path d="M320 56h16" stroke="#81d34d"/><path d="M336 56h16" stroke="#86d549"/><path d="M352 56h16" stroke="#89d548"/><path d="M368 56h16" stroke="#8bd646"/><path d="M384 56h16" stroke="#89d548"/><path d="M400 56h16" stroke="#86d549"/><path d="M416 56h16" stroke="#7fd34e"/><path d="M-16 72h16" stroke="#28ae80"/><path d="M0 72h16" stroke="#2cb17e"/><path d="M16 72h16" stroke="#32b67a"/><path d="M32 72h16" stroke="#3bbb75"/><path d="M48 72h16" stroke="#4ac16d"/><path d="M64 72h16" stroke="#5ac864"/><path d="M80 72h16" stroke="#6ece58"/><path d="M96 72h16" stroke="#7fd34e"/><path d="M112 72h16" stroke="#86d549"/><path d="M128 72h16" stroke="#84d44b"/><path d="M144 72h16" stroke="#84d44b"/><path d="M160 72h16" stroke="#89d548"/><path d="M176 72h16" stroke="#95d840"/><path d="M192 72h16" stroke="#a8db34"/><path d="M208 72h16" stroke="#addc30"/><path d="M224 72h16" stroke="#a2da37"/><path d="M240 72h16" stroke="#8ed645"/><path d="M256 72h16" stroke="#7ad151"/><path d="M272 72h16" stroke="#6ccd5a"/><path d="M288 72h16" stroke="#6ece58"/><path d="M304 72h16" stroke="#75d054"/><path d="M320 72h16" stroke="#7cd250"/><path d="M336 72h16" stroke="#84d44b"/><path d="M352 72h16" stroke="#84d44b"/><path d="M368 72h16" stroke="#84d44b"/><path d="M384 72h16" stroke="#81d34d"/><path d="M400 72h16" stroke="#7cd250"/><path d="M416 72h16" stroke="#75d054"/><path d="M-16 88h16" stroke="#26ad81"/><path d="M0 88h16" stroke="#27ad81"/><path d="M16 88h16" stroke="#2cb17e"/><path d="M32 88h16" stroke="#35b779"/><path d="M48 88h16" stroke="#42be71"/><path d="M64 88h16" stroke="#56c667"/><path d="M80 88h16" stroke="#6ccd5a"/><path d="M96 88h16" stroke="#86d549"/><path d="M112 88h16" stroke="#93d741"/><path d="M128 88h16" stroke="#90d743"/><path d="M144 88h16" stroke="#8ed645"/><path d="M160 88h16" stroke="#90d743"/><path d="M176 88h16" stroke="#a0da39"/><path d="M192 88h16" stroke="#b5de2b"/><path d="M208 88h16" stroke="#b5de2b"/><path d="M224 88h16" stroke="#a2da37"/><path d="M240 88h16" stroke="#8bd646"/><path d="M256 88h16" stroke="#77d153"/><path d="M272 88h16" stroke="#6ccd5a"/><path d="M288 88h16" stroke="#6ece58"/><path d="M304 88h16" stroke="#77d153"/><path d="M320 88h16" stroke="#7cd250"/><path d="M336 88h16" stroke="#7fd34e"/><path d="M352 88h16" stroke="#7fd34e"/><path d="M368 88h16" stroke="#7cd250"/><path d="M384 88h16" stroke="#77d153"/><path d="M400 88h16" stroke="#70cf57"/><path d="M416 88h16" stroke="#69cd5b"/><path d="M-16 104h16" stroke="#26ad81"/><path d="M0 104h16" stroke="#26ad81"/><path d="M16 104h16" stroke="#27ad81"/><path d="M32 104h16" stroke="#2eb37c"/><path d="M48 104h16" stroke="#3bbb75"/><path d="M64 104h16" stroke="#4ec36b"/><path d="M80 104h16" stroke="#63cb5f"/><path d="M96 104h16" stroke="#7fd34e"/><path d="M112 104h16" stroke="#98d83e"/><path d="M128 104h16" stroke="#9bd93c"/><path d="M144 104h16" stroke="#95d840"/><path d="M160 104h16" stroke="#93d741"/><path d="M176 104h16" stroke="#a2da37"/><path d="M192 104h16" stroke="#b8de29"/><path d="M208 104h16" stroke="#bade28"/><path d="M224 104h16" stroke="#aadc32"/><path d="M240 104h16" stroke="#93d741"/><path d="M256 104h16" stroke="#84d44b"/><path d="M272 104h16" stroke="#7cd250"/><path d="M288 104h16" stroke="#7cd250"/><path d="M304 104h16" stroke="#7fd34e"/><path d="M320 104h16" stroke="#7fd34e"/><path d="M336 104h16" stroke="#7cd250"/><path d="M352 104h16" stroke="#77d153"/><path d="M368 104h16" stroke="#73d056"/><path d="M384 104h16" stroke="#6ccd5a"/><path d="M400 104h16" stroke="#63cb5f"/><path d="M416 104h16" stroke="#5ac864"/><path d="M-16 120h16" stroke="#26ad81"/><path d="M0 120h16" stroke="#26ad81"/><path d="M16 120h16" stroke="#26ad81"/><path d="M32 120h16" stroke="#28ae80"/><path d="M48 120h16" stroke="#34b679"/><path d="M64 120h16" stroke="#46c06f"/><path d="M80 120h16" stroke="#5ac864"/><path d="M96 120h16" stroke="#77d153"/><path d="M112 120h16" stroke="#95d840"/><path d="M128 120h16" stroke="#a0da39"/><path d="M144 120h16" stroke="#9dd93b"/><path d="M160 120h16" stroke="#9dd93b"/><path d="M176 120h16" stroke="#addc30"/><path d="M192 120h16" stroke="#c5e021"/><path d="M208 120h16" stroke="#c8e020"/><path d="M224 120h16" stroke="#b8de29"/><path d="M240 120h16" stroke="#a2da37"/><path d="M256 120h16" stroke="#95d840"/><path d="M272 120h16" stroke="#90d743"/><path d="M288 120h16" stroke="#8bd646"/><path d="M304 120h16" stroke="#84d44b"/><path d="M320 120h16" stroke="#7cd250"/><path d="M336 120h16" stroke="#70cf57"/><path d="M352 120h16" stroke="#67cc5c"/><path d="M368 120h16" stroke="#60ca60"/><path d="M384 120h16" stroke="#5ac864"/><path d="M400 120h16" stroke="#54c568"/><path d="M416 120h16" stroke="#4ac16d"/><path d="M-16 136h16" stroke="#26ad81"/><path d="M0 136h16" stroke="#26ad81"/><path d="M16 136h16" stroke="#26ad81"/><path d="M32 136h16" stroke="#26ad81"/><path d="M48 136h16" stroke="#2db27d"/><path d="M64 136h16" stroke="#3dbc74"/><path d="M80 136h16" stroke="#54c568"/><path d="M96 136h16" stroke="#73d056"/><path d="M112 136h16" stroke="#90d743"/><path d="M128 136h16" stroke="#a0da39"/><path d="M144 136h16" stroke="#a5db36"/><path d="M160 136h16" stroke="#addc30"/><path d="M176 136h16" stroke="#c0df25"/><path d="M192 136h16" stroke="#d5e21a"/><path d="M208 136h16" stroke="#dde318"/><path d="M224 136h16" stroke="#cde11d"/><path d="M240 136h16" stroke="#b5de2b"/><path d="M256 136h16" stroke="#a8db34"/><path d="M272 136h16" stroke="#9dd93b"/><path d="M288 136h16" stroke="#8ed645"/><path d="M304 136h16" stroke="#7fd34e"/><path d="M320 136h16" stroke="#6ccd5a"/><path d="M336 136h16" stroke="#58c765"/><path d="M352 136h16" stroke="#4ec36b"/><path d="M368 136h16" stroke="#4ac16d"/><path d="M384 136h16" stroke="#46c06f"/><path d="M400 136h16" stroke="#3fbc73"/><path d="M416 136h16" stroke="#38b977"/><path d="M-16 152h16" stroke="#26ad81"/><path d="M0 152h16" stroke="#26ad81"/><path d="M16 152h16" stroke="#26ad81"/><path d="M32 152h16" stroke="#26ad81"/><path d="M48 152h16" stroke="#2cb17e"/><path d="M64 152h16" stroke="#3fbc73"/><path d="M80 152h16" stroke="#58c765"/><path d="M96 152h16" stroke="#75d054"/><path d="M112 152h16" stroke="#90d743"/><path d="M128 152h16" stroke="#a0da39"/><path d="M144 152h16" stroke="#aadc32"/><path d="M160 152h16" stroke="#bade28"/><path d="M176 152h16" stroke="#cde11d"/><path d="M192 152h16" stroke="#e2e418"/><path d="M208 152h16" stroke="#f1e51d"/><path d="M224 152h16" stroke="#e5e419"/><path d="M240 152h16" stroke="#cae11f"/><path d="M256 152h16" stroke="#b2dd2d"/><path d="M272 152h16" stroke="#98d83e"/><path d="M288 152h16" stroke="#81d34d"/><path d="M304 152h16" stroke="#6ccd5a"/><path d="M320 152h16" stroke="#54c568"/><path d="M336 152h16" stroke="#3dbc74"/><path d="M352 152h16" stroke="#32b67a"/><path d="M368 152h16" stroke="#2fb47c"/><path d="M384 152h16" stroke="#2fb47c"/><path d="M400 152h16" stroke="#2cb17e"/><path d="M416 152h16" stroke="#29af7f"/><path d="M-16 168h16" stroke="#26ad81"/><path d="M0 168h16" stroke="#26ad81"/><path d="M16 168h16" stroke="#26ad81"/><path d="M32 168h16" stroke="#26ad81"/><path d="M48 168h16" stroke="#34b679"/><path d="M64 168h16" stroke="#4ec36b"/><path d="M80 168h16" stroke="#69cd5b"/><path d="M96 168h16" stroke="#84d44b"/><path d="M112 168h16" stroke="#98d83e"/><path d="M128 168h16" stroke="#a8db34"/><path d="M144 168h16" stroke="#b2dd2d"/><path d="M160 168h16" stroke="#c0df25"/><path d="M176 168h16" stroke="#d5e21a"/><path d="M192 168h16" stroke="#efe51c"/><path d="M208 168h16" stroke="#fde725"/><path d="M224 168h16" stroke="#ece51b"/><path d="M240 168h16" stroke="#d0e11c"/><path d="M256 168h16" stroke="#aadc32"/><path d="M272 168h16" stroke="#86d549"/><path d="M288 168h16" stroke="#65cb5e"/><path d="M304 168h16" stroke="#4cc26c"/><path d="M320 168h16" stroke="#38b977"/><path d="M336 168h16" stroke="#2ab07f"/><path d="M352 168h16" stroke="#26ad81"/><path d="M368 168h16" stroke="#26ad81"/><path d="M384 168h16" stroke="#26ad81"/><path d="M400 168h16" stroke="#26ad81"/><path d="M416 168h16" stroke="#26ad81"/><path d="M-16 184h16" stroke="#26ad81"/><path d="M0 184h16" stroke="#26ad81"/><path d="M16 184h16" stroke="#26ad81"/><path d="M32 184h16" stroke="#28ae80"/><path d="M48 184h16" stroke="#38b977"/><path d="M64 184h16" stroke="#56c667"/><path d="M80 184h16" stroke="#70cf57"/><path d="M96 184h16" stroke="#89d548"/><path d="M112 184h16" stroke="#9dd93b"/><path d="M128 184h16" stroke="#a8db34"/><path d="M144 184h16" stroke="#b2dd2d"/><path d="M160 184h16" stroke="#bddf26"/><path d="M176 184h16" stroke="#d2e21b"/><path d="M192 184h16" stroke="#eae51a"/><path d="M208 184h16" stroke="#efe51c"/><path d="M224 184h16" stroke="#dde318"/><path d="M240 184h16" stroke="#c0df25"/><path d="M256 184h16" stroke="#95d840"/><path d="M272 184h16" stroke="#69cd5b"/><path d="M288 184h16" stroke="#46c06f"/><path d="M304 184h16" stroke="#2fb47c"/><path d="M320 184h16" stroke="#26ad81"/><path d="M336 184h16" stroke="#26ad81"/><path d="M352 184h16" stroke="#26ad81"/><path d="M368 184h16" stroke="#26ad81"/><path d="M384 184h16" stroke="#26ad81"/><path d="M400 184h16" stroke="#26ad81"/><path d="M416 184h16" stroke="#26ad81"/><path d="M-16 200h16" stroke="#2cb17e"/><path d="M0 200h16" stroke="#29af7f"/><path d="M16 200h16" stroke="#29af7f"/><path d="M32 200h16" stroke="#2eb37c"/><path d="M48 200h16" stroke="#38b977"/><path d="M64 200h16" stroke="#4ec36b"/><path d="M80 200h16" stroke="#67cc5c"/><path d="M96 200h16" stroke="#84d44b"/><path d="M112 200h16" stroke="#98d83e"/><path d="M128 200h16" stroke="#a2da37"/><path d="M144 200h16" stroke="#a8db34"/><path d="M160 200h16" stroke="#b0dd2f"/><path d="M176 200h16" stroke="#bddf26"/><path d="M192 200h16" stroke="#cde11d"/><path d="M208 200h16" stroke="#c5e021"/><path d="M224 200h16" stroke="#b8de29"/><path d="M240 200h16" stroke="#a0da39"/><path d="M256 200h16" stroke="#7ad151"/><path d="M272 200h16" stroke="#50c46a"/><path d="M288 200h16" stroke="#32b67a"/><path d="M304 200h16" stroke="#26ad81"/><path d="M320 200h16" stroke="#26ad81"/><path d="M336 200h16" stroke="#26ad81"/><path d="M352 200h16" stroke="#26ad81"/><path d="M368 200h16" stroke="#26ad81"/><path d="M384 200h16" stroke="#26ad81"/><path d="M400 200h16" stroke="#26ad81"/><path d="M416 200h16" stroke="#26ad81"/><path d="M-16 216h16" stroke="#3dbc74"/><path d="M0 216h16" stroke="#38b977"/><path d="M16 216h16" stroke="#38b977"/><path d="M32 216h16" stroke="#40bd72"/><path d="M48 216h16" stroke="#4cc26c"/><path d="M64 216h16" stroke="#56c667"/><path d="M80 216h16" stroke="#67cc5c"/><path d="M96 216h16" stroke="#7ad151"/><path d="M112 216h16" stroke="#89d548"/><path d="M128 216h16" stroke="#90d743"/><path d="M144 216h16" stroke="#95d840"/><path d="M160 216h16" stroke="#9bd93c"/><path d="M176 216h16" stroke="#9dd93b"/><path d="M192 216h16" stroke="#93d741"/><path d="M208 216h16" stroke="#81d34d"/><path d="M224 216h16" stroke="#7cd250"/><path d="M240 216h16" stroke="#75d054"/><path d="M256 216h16" stroke="#5ac864"/><path d="M272 216h16" stroke="#3aba76"/><path d="M288 216h16" stroke="#26ad81"/><path d="M304 216h16" stroke="#26ad81"/><path d="M320 216h16" stroke="#26ad81"/><path d="M336 216h16" stroke="#26ad81"/><path d="M352 216h16" stroke="#26ad81"/><path d="M368 216h16" stroke="#26ad81"/><path d="M384 216h16" stroke="#26ad81"/><path d="M400 216h16" stroke="#26ad81"/><path d="M416 216h16" stroke="#26ad81"/><path d="M-16 232h16" stroke="#5ac864"/><path d="M0 232h16" stroke="#56c667"/><path d="M16 232h16" stroke="#56c667"/><path d="M32 232h16" stroke="#69cd5b"/><path d="M48 232h16" stroke="#7fd34e"/><path d="M64 232h16" stroke="#81d34d"/><path d="M80 232h16" stroke="#77d153"/><path d="M96 232h16" stroke="#73d056"/><path d="M112 232h16" stroke="#75d054"/><path d="M128 232h16" stroke="#77d153"/><path d="M144 232h16" stroke="#7ad151"/><path d="M160 232h16" stroke="#7cd250"/><path d="M176 232h16" stroke="#77d153"/><path d="M192 232h16" stroke="#58c765"/><path d="M208 232h16" stroke="#46c06f"/><path d="M224 232h16" stroke="#44bf70"/><path d="M240 232h16" stroke="#42be71"/><path d="M256 232h16" stroke="#37b878"/><path d="M272 232h16" stroke="#26ad81"/><path d="M288 232h16" stroke="#26ad81"/><path d="M304 232h16" stroke="#26ad81"/><path d="M320 232h16" stroke="#26ad81"/><path d="M336 232h16" stroke="#26ad81"/><path d="M352 232h16" stroke="#26ad81"/><path d="M368 232h16" stroke="#26ad81"/><path d="M384 232h16" stroke="#26ad81"/><path d="M400 232h16" stroke="#26ad81"/><path d="M416 232h16" stroke="#26ad81"/><path d="M-16 248h16" stroke="#84d44b"/><path d="M0 248h16" stroke="#86d549"/><path d="M16 248h16" stroke="#90d743"/><path d="M32 248h16" stroke="#a5db36"/><path d="M48 248h16" stroke="#b2dd2d"/><path d="M64 248h16" stroke="#a8db34"/><path d="M80 248h16" stroke="#7fd34e"/><path d="M96 248h16" stroke="#67cc5c"/><path d="M112 248h16" stroke="#5cc863"/><path d="M128 248h16" stroke="#5ac864"/><path d="M144 248h16" stroke="#5ac864"/><path d="M160 248h16" stroke="#56c667"/><path d="M176 248h16" stroke="#4ac16d"/><path d="M192 248h16" stroke="#35b779"/><path d="M208 248h16" stroke="#2ab07f"/><path d="M224 248h16" stroke="#27ad81"/><path d="M240 248h16" stroke="#26ad81"/><path d="M256 248h16" stroke="#26ad81"/><path d="M272 248h16" stroke="#26ad81"/><path d="M288 248h16" stroke="#26ad81"/><path d="M304 248h16" stroke="#26ad81"/><path d="M320 248h16" stroke="#26ad81"/><path d="M336 248h16" stroke="#26ad81"/><path d="M352 248h16" stroke="#26ad81"/><path d="M368 248h16" stroke="#26ad81"/><path d="M384 248h16" stroke="#26ad81"/><path d="M400 248h16" stroke="#26ad81"/><path d="M416 248h16" stroke="#26ad81"/><path d="M-16 264h16" stroke="#addc30"/><path d="M0 264h16" stroke="#b8de29"/><path d="M16 264h16" stroke="#c0df25"/><path d="M32 264h16" stroke="#c5e021"/><path d="M48 264h16" stroke="#aadc32"/><path d="M64 264h16" stroke="#86d549"/><path d="M80 264h16" stroke="#65cb5e"/><path d="M96 264h16" stroke="#4ec36b"/><path d="M112 264h16" stroke="#44bf70"/><path d="M128 264h16" stroke="#40bd72"/><path d="M144 264h16" stroke="#3dbc74"/><path d="M160 264h16" stroke="#37b878"/><path d="M176 264h16" stroke="#2db27d"/><path d="M192 264h16" stroke="#26ad81"/><path d="M208 264h16" stroke="#26ad81"/><path d="M224 264h16" stroke="#26ad81"/><path d="M240 264h16" stroke="#26ad81"/><path d="M256 264h16" stroke="#26ad81"/><path d="M272 264h16" stroke="#26ad81"/><path d="M288 264h16" stroke="#26ad81"/><path d="M304 264h16" stroke="#26ad81"/><path d="M320 264h16" stroke="#26ad81"/><path d="M336 264h16" stroke="#26ad81"/><path d="M352 264h16" stroke="#26ad81"/><path d="M368 264h16" stroke="#26ad81"/><path d="M384 264h16" stroke="#26ad81"/><path d="M400 264h16" stroke="#26ad81"/><path d="M416 264h16" stroke="#26ad81"/><path d="M-16 280h16" stroke="#cde11d"/><path d="M0 280h16" stroke="#d2e21b"/><path d="M16 280h16" stroke="#cde11d"/><path d="M32 280h16" stroke="#b0dd2f"/><path d="M48 280h16" stroke="#7cd250"/><path d="M64 280h16" stroke="#52c569"/><path d="M80 280h16" stroke="#40bd72"/><path d="M96 280h16" stroke="#37b878"/><path d="M112 280h16" stroke="#31b57b"/><path d="M128 280h16" stroke="#2cb17e"/><path d="M144 280h16" stroke="#28ae80"/><path d="M160 280h16" stroke="#26ad81"/><path d="M176 280h16" stroke="#26ad81"/><path d="M192 280h16" stroke="#26ad81"/><path d="M208 280h16" stroke="#26ad81"/><path d="M224 280h16" stroke="#26ad81"/><path d="M240 280h16" stroke="#26ad81"/><path d="M256 280h16" stroke="#26ad81"/><path d="M272 280h16" stroke="#26ad81"/><path d="M288 280h16" stroke="#26ad81"/><path d="M304 280h16" stroke="#26ad81"/><path d="M320 280h16" stroke="#26ad81"/><path d="M336 280h16" stroke="#26ad81"/><path d="M352 280h16" stroke="#26ad81"/><path d="M368 280h16" stroke="#26ad81"/><path d="M384 280h16" stroke="#26ad81"/><path d="M400 280h16" stroke="#26ad81"/><path d="M416 280h16" stroke="#26ad81"/><path d="M-16 296h16" stroke="#d8e219"/><path d="M0 296h16" stroke="#d5e21a"/><path d="M16 296h16" stroke="#c5e021"/><path d="M32 296h16" stroke="#98d83e"/><path d="M48 296h16" stroke="#5ec962"/><path d="M64 296h16" stroke="#3aba76"/><path d="M80 296h16" stroke="#2eb37c"/><path d="M96 296h16" stroke="#28ae80"/><path d="M112 296h16" stroke="#26ad81"/><path d="M128 296h16" stroke="#26ad81"/><path d="M144 296h16" stroke="#26ad81"/><path d="M160 296h16" stroke="#26ad81"/><path d="M176 296h16" stroke="#26ad81"/><path d="M192 296h16" stroke="#26ad81"/><path d="M208 296h16" stroke="#26ad81"/><path d="M224 296h16" stroke="#26ad81"/><path d="M240 296h16" stroke="#26ad81"/><path d="M256 296h16" stroke="#26ad81"/><path d="M272 296h16" stroke="#26ad81"/><path d="M288 296h16" stroke="#26ad81"/><path d="M304 296h16" stroke="#26ad81"/><path d="M320 296h16" stroke="#26ad81"/><path d="M336 296h16" stroke="#26ad81"/><path d="M352 296h16" stroke="#26ad81"/><path d="M368 296h16" stroke="#26ad81"/><path d="M384 296h16" stroke="#26ad81"/><path d="M400 296h16" stroke="#26ad81"/><path d="M416 296h16" stroke="#26ad81"/><path d="M-16 312h16" stroke="#d5e21a"/><path d="M0 312h16" stroke="#c8e020"/><path d="M16 312h16" stroke="#b0dd2f"/><path d="M32 312h16" stroke="#84d44b"/><path d="M48 312h16" stroke="#56c667"/><path d="M64 312h16" stroke="#38b977"/><path d="M80 312h16" stroke="#29af7f"/><path d="M96 312h16" stroke="#26ad81"/><path d="M112 312h16" stroke="#26ad81"/><path d="M128 312h16" stroke="#26ad81"/><path d="M144 312h16" stroke="#26ad81"/><path d="M160 312h16" stroke="#26ad81"/><path d="M176 312h16" stroke="#26ad81"/><path d="M192 312h16" stroke="#26ad81"/><path d="M208 312h16" stroke="#26ad81"/><path d="M224 312h16" stroke="#26ad81"/><path d="M240 312h16" stroke="#26ad81"/><path d="M256 312h16" stroke="#26ad81"/><path d="M272 312h16" stroke="#26ad81"/><path d="M288 312h16" stroke="#26ad81"/><path d="M304 312h16" stroke="#26ad81"/><path d="M320 312h16" stroke="#26ad81"/><path d="M336 312h16" stroke="#26ad81"/><path d="M352 312h16" stroke="#26ad81"/><path d="M368 312h16" stroke="#26ad81"/><path d="M384 312h16" stroke="#26ad81"/><path d="M400 312h16" stroke="#26ad81"/><path d="M416 312h16" stroke="#26ad81"/><path d="M-16 328h16" stroke="#c8e020"/><path d="M0 328h16" stroke="#b8de29"/><path d="M16 328h16" stroke="#9bd93c"/><path d="M32 328h16" stroke="#75d054"/><path d="M48 328h16" stroke="#50c46a"/><path d="M64 328h16" stroke="#35b779"/><path d="M80 328h16" stroke="#26ad81"/><path d="M96 328h16" stroke="#26ad81"/><path d="M112 328h16" stroke="#26ad81"/><path d="M128 328h16" stroke="#26ad81"/><path d="M144 328h16" stroke="#26ad81"/><path d="M160 328h16" stroke="#26ad81"/><path d="M176 328h16" stroke="#26ad81"/><path d="M192 328h16" stroke="#26ad81"/><path d="M208 328h16" stroke="#26ad81"/><path d="M224 328h16" stroke="#26ad81"/><path d="M240 328h16" stroke="#26ad81"/><path d="M256 328h16" stroke="#26ad81"/><path d="M272 328h16" stroke="#26ad81"/><path d="M288 328h16" stroke="#26ad81"/><path d="M304 328h16" stroke="#26ad81"/><path d="M320 328h16" stroke="#26ad81"/><path d="M336 328h16" stroke="#26ad81"/><path d="M352 328h16" stroke="#26ad81"/><path d="M368 328h16" stroke="#26ad81"/><path d="M384 328h16" stroke="#26ad81"/><path d="M400 328h16" stroke="#26ad81"/><path d="M416 328h16" stroke="#26ad81"/><path d="M-16 344h16" stroke="#b8de29"/><path d="M0 344h16" stroke="#a5db36"/><path d="M16 344h16" stroke="#89d548"/><path d="M32 344h16" stroke="#67cc5c"/><path d="M48 344h16" stroke="#48c16e"/><path d="M64 344h16" stroke="#31b57b"/><path d="M80 344h16" stroke="#26ad81"/><path d="M96 344h16" stroke="#26ad81"/><path d="M112 344h16" stroke="#26ad81"/><path d="M128 344h16" stroke="#26ad81"/><path d="M144 344h16" stroke="#26ad81"/><path d="M160 344h16" stroke="#26ad81"/><path d="M176 344h16" stroke="#26ad81"/><path d="M192 344h16" stroke="#26ad81"/><path d="M208 344h16" stroke="#26ad81"/><path d="M224 344h16" stroke="#26ad81"/><path d="M240 344h16" stroke="#26ad81"/><path d="M256 344h16" stroke="#26ad81"/><path d="M272 344h16" stroke="#26ad81"/><path d="M288 344h16" stroke="#26ad81"/><path d="M304 344h16" stroke="#26ad81"/><path d="M320 344h16" stroke="#26ad81"/><path d="M336 344h16" stroke="#26ad81"/><path d="M352 344h16" stroke="#26ad81"/><path d="M368 344h16" stroke="#26ad81"/><path d="M384 344h16" stroke="#26ad81"/><path d="M400 344h16" stroke="#26ad81"/><path d="M416 344h16" stroke="#26ad81"/></g></g><use href="#land"/><use href="#owf"/><use href="#sbar"/></g><rect width="405.5" height="322.8" fill="none" stroke="#505050" stroke-width="1.3"/></g><g transform="translate(86.7,1400.4)"><g clip-path="url(#cpA)"><rect width="405.5" height="322.8" fill="#fff"/><g clip-path="url(#csa)"><g filter="url(#bl)" stroke-width="16"><path d="M-16 -8h16" stroke="#1e9d89"/><path d="M0 -8h16" stroke="#1f9f88"/><path d="M16 -8h16" stroke="#1fa188"/><path d="M32 -8h16" stroke="#1fa187"/><path d="M48 -8h16" stroke="#20a386"/><path d="M64 -8h16" stroke="#21a585"/><path d="M80 -8h16" stroke="#21a685"/><path d="M96 -8h16" stroke="#22a785"/><path d="M112 -8h16" stroke="#22a884"/><path d="M128 -8h16" stroke="#23a983"/><path d="M144 -8h16" stroke="#23a983"/><path d="M160 -8h16" stroke="#23a983"/><path d="M176 -8h16" stroke="#22a884"/><path d="M192 -8h16" stroke="#22a785"/><path d="M208 -8h16" stroke="#20a486"/><path d="M224 -8h16" stroke="#1fa187"/><path d="M240 -8h16" stroke="#1fa088"/><path d="M256 -8h16" stroke="#1f9e89"/><path d="M272 -8h16" stroke="#1f9e89"/><path d="M288 -8h16" stroke="#1e9d89"/><path d="M304 -8h16" stroke="#1e9d89"/><path d="M320 -8h16" stroke="#1e9b8a"/><path d="M336 -8h16" stroke="#1f9a8a"/><path d="M352 -8h16" stroke="#1f978b"/><path d="M368 -8h16" stroke="#1f958b"/><path d="M384 -8h16" stroke="#20928c"/><path d="M400 -8h16" stroke="#21918c"/><path d="M416 -8h16" stroke="#218e8d"/><path d="M-16 8h16" stroke="#1e9d89"/><path d="M0 8h16" stroke="#1f9e89"/><path d="M16 8h16" stroke="#1fa088"/><path d="M32 8h16" stroke="#1fa187"/><path d="M48 8h16" stroke="#20a386"/><path d="M64 8h16" stroke="#21a585"/><path d="M80 8h16" stroke="#22a785"/><path d="M96 8h16" stroke="#22a884"/><path d="M112 8h16" stroke="#24aa83"/><path d="M128 8h16" stroke="#24aa83"/><path d="M144 8h16" stroke="#25ab82"/><path d="M160 8h16" stroke="#25ab82"/><path d="M176 8h16" stroke="#24aa83"/><path d="M192 8h16" stroke="#23a983"/><path d="M208 8h16" stroke="#21a685"/><path d="M224 8h16" stroke="#1fa287"/><path d="M240 8h16" stroke="#1fa188"/><path d="M256 8h16" stroke="#1fa088"/><path d="M272 8h16" stroke="#1fa088"/><path d="M288 8h16" stroke="#1fa088"/><path d="M304 8h16" stroke="#1f9f88"/><path d="M320 8h16" stroke="#1e9d89"/><path d="M336 8h16" stroke="#1e9b8a"/><path d="M352 8h16" stroke="#1f988b"/><path d="M368 8h16" stroke="#1f968b"/><path d="M384 8h16" stroke="#20938c"/><path d="M400 8h16" stroke="#21918c"/><path d="M416 8h16" stroke="#218e8d"/><path d="M-16 24h16" stroke="#1e9c89"/><path d="M0 24h16" stroke="#1f9e89"/><path d="M16 24h16" stroke="#1fa088"/><path d="M32 24h16" stroke="#1fa187"/><path d="M48 24h16" stroke="#20a386"/><path d="M64 24h16" stroke="#21a585"/><path d="M80 24h16" stroke="#22a785"/><path d="M96 24h16" stroke="#23a983"/><path d="M112 24h16" stroke="#24aa83"/><path d="M128 24h16" stroke="#25ab82"/><path d="M144 24h16" stroke="#25ac82"/><path d="M160 24h16" stroke="#25ac82"/><path d="M176 24h16" stroke="#25ac82"/><path d="M192 24h16" stroke="#25ac82"/><path d="M208 24h16" stroke="#23a983"/><path d="M224 24h16" stroke="#20a486"/><path d="M240 24h16" stroke="#1fa287"/><path d="M256 24h16" stroke="#1fa287"/><path d="M272 24h16" stroke="#1fa287"/><path d="M288 24h16" stroke="#1fa187"/><path d="M304 24h16" stroke="#1fa188"/><path d="M320 24h16" stroke="#1f9f88"/><path d="M336 24h16" stroke="#1e9c89"/><path d="M352 24h16" stroke="#1f998a"/><path d="M368 24h16" stroke="#1f968b"/><path d="M384 24h16" stroke="#20938c"/><path d="M400 24h16" stroke="#21918c"/><path d="M416 24h16" stroke="#228d8d"/><path d="M-16 40h16" stroke="#1e9b8a"/><path d="M0 40h16" stroke="#1e9d89"/><path d="M16 40h16" stroke="#1f9f88"/><path d="M32 40h16" stroke="#1fa188"/><path d="M48 40h16" stroke="#20a386"/><path d="M64 40h16" stroke="#21a585"/><path d="M80 40h16" stroke="#22a884"/><path d="M96 40h16" stroke="#24aa83"/><path d="M112 40h16" stroke="#25ab82"/><path d="M128 40h16" stroke="#25ac82"/><path d="M144 40h16" stroke="#26ad81"/><path d="M160 40h16" stroke="#26ad81"/><path d="M176 40h16" stroke="#26ad81"/><path d="M192 40h16" stroke="#26ad81"/><path d="M208 40h16" stroke="#25ab82"/><path d="M224 40h16" stroke="#21a685"/><path d="M240 40h16" stroke="#21a585"/><path d="M256 40h16" stroke="#21a585"/><path d="M272 40h16" stroke="#21a685"/><path d="M288 40h16" stroke="#21a585"/><path d="M304 40h16" stroke="#20a386"/><path d="M320 40h16" stroke="#1fa188"/><path d="M336 40h16" stroke="#1f9e89"/><path d="M352 40h16" stroke="#1f9a8a"/><path d="M368 40h16" stroke="#1f968b"/><path d="M384 40h16" stroke="#20938c"/><path d="M400 40h16" stroke="#21908d"/><path d="M416 40h16" stroke="#228c8d"/><path d="M-16 56h16" stroke="#1f9a8a"/><path d="M0 56h16" stroke="#1e9c89"/><path d="M16 56h16" stroke="#1f9e89"/><path d="M32 56h16" stroke="#1fa188"/><path d="M48 56h16" stroke="#20a386"/><path d="M64 56h16" stroke="#21a685"/><path d="M80 56h16" stroke="#22a884"/><path d="M96 56h16" stroke="#24aa83"/><path d="M112 56h16" stroke="#25ac82"/><path d="M128 56h16" stroke="#26ad81"/><path d="M144 56h16" stroke="#26ad81"/><path d="M160 56h16" stroke="#26ad81"/><path d="M176 56h16" stroke="#25ac82"/><path d="M192 56h16" stroke="#25ab82"/><path d="M208 56h16" stroke="#24aa83"/><path d="M224 56h16" stroke="#22a785"/><path d="M240 56h16" stroke="#22a884"/><path d="M256 56h16" stroke="#23a983"/><path d="M272 56h16" stroke="#23a983"/><path d="M288 56h16" stroke="#22a884"/><path d="M304 56h16" stroke="#21a585"/><path d="M320 56h16" stroke="#1fa287"/><path d="M336 56h16" stroke="#1f9f88"/><path d="M352 56h16" stroke="#1e9b8a"/><path d="M368 56h16" stroke="#1f968b"/><path d="M384 56h16" stroke="#20928c"/><path d="M400 56h16" stroke="#218f8d"/><path d="M416 56h16" stroke="#228b8d"/><path d="M-16 72h16" stroke="#1f988b"/><path d="M0 72h16" stroke="#1e9b8a"/><path d="M16 72h16" stroke="#1e9d89"/><path d="M32 72h16" stroke="#1fa088"/><path d="M48 72h16" stroke="#1fa287"/><path d="M64 72h16" stroke="#21a685"/><path d="M80 72h16" stroke="#23a983"/><path d="M96 72h16" stroke="#25ab82"/><path d="M112 72h16" stroke="#26ad81"/><path d="M128 72h16" stroke="#26ad81"/><path d="M144 72h16" stroke="#27ad81"/><path d="M160 72h16" stroke="#26ad81"/><path d="M176 72h16" stroke="#24aa83"/><path d="M192 72h16" stroke="#22a785"/><path d="M208 72h16" stroke="#21a685"/><path d="M224 72h16" stroke="#22a884"/><path d="M240 72h16" stroke="#24aa83"/><path d="M256 72h16" stroke="#25ac82"/><path d="M272 72h16" stroke="#25ac82"/><path d="M288 72h16" stroke="#24aa83"/><path d="M304 72h16" stroke="#22a785"/><path d="M320 72h16" stroke="#20a386"/><path d="M336 72h16" stroke="#1f9f88"/><path d="M352 72h16" stroke="#1f9a8a"/><path d="M368 72h16" stroke="#1f968b"/><path d="M384 72h16" stroke="#20928c"/><path d="M400 72h16" stroke="#218e8d"/><path d="M416 72h16" stroke="#238a8d"/><path d="M-16 88h16" stroke="#1f978b"/><path d="M0 88h16" stroke="#1f998a"/><path d="M16 88h16" stroke="#1e9c89"/><path d="M32 88h16" stroke="#1f9f88"/><path d="M48 88h16" stroke="#1fa287"/><path d="M64 88h16" stroke="#21a585"/><path d="M80 88h16" stroke="#23a983"/><path d="M96 88h16" stroke="#25ac82"/><path d="M112 88h16" stroke="#26ad81"/><path d="M128 88h16" stroke="#27ad81"/><path d="M144 88h16" stroke="#27ad81"/><path d="M160 88h16" stroke="#27ad81"/><path d="M176 88h16" stroke="#24aa83"/><path d="M192 88h16" stroke="#20a386"/><path d="M208 88h16" stroke="#20a486"/><path d="M224 88h16" stroke="#22a785"/><path d="M240 88h16" stroke="#24aa83"/><path d="M256 88h16" stroke="#26ad81"/><path d="M272 88h16" stroke="#26ad81"/><path d="M288 88h16" stroke="#25ab82"/><path d="M304 88h16" stroke="#22a785"/><path d="M320 88h16" stroke="#20a386"/><path d="M336 88h16" stroke="#1f9f88"/><path d="M352 88h16" stroke="#1f998a"/><path d="M368 88h16" stroke="#1f948c"/><path d="M384 88h16" stroke="#21908d"/><path d="M400 88h16" stroke="#228c8d"/><path d="M416 88h16" stroke="#23888e"/><path d="M-16 104h16" stroke="#1f968b"/><path d="M0 104h16" stroke="#1f988b"/><path d="M16 104h16" stroke="#1e9b8a"/><path d="M32 104h16" stroke="#1f9e89"/><path d="M48 104h16" stroke="#1fa187"/><path d="M64 104h16" stroke="#21a585"/><path d="M80 104h16" stroke="#23a983"/><path d="M96 104h16" stroke="#26ad81"/><path d="M112 104h16" stroke="#27ad81"/><path d="M128 104h16" stroke="#26ad81"/><path d="M144 104h16" stroke="#27ad81"/><path d="M160 104h16" stroke="#27ad81"/><path d="M176 104h16" stroke="#24aa83"/><path d="M192 104h16" stroke="#21a585"/><path d="M208 104h16" stroke="#20a386"/><path d="M224 104h16" stroke="#21a685"/><path d="M240 104h16" stroke="#23a983"/><path d="M256 104h16" stroke="#25ac82"/><path d="M272 104h16" stroke="#26ad81"/><path d="M288 104h16" stroke="#24aa83"/><path d="M304 104h16" stroke="#21a685"/><path d="M320 104h16" stroke="#1fa187"/><path d="M336 104h16" stroke="#1e9d89"/><path d="M352 104h16" stroke="#1f978b"/><path d="M368 104h16" stroke="#20928c"/><path d="M384 104h16" stroke="#218e8d"/><path d="M400 104h16" stroke="#238a8d"/><path d="M416 104h16" stroke="#24868e"/><path d="M-16 120h16" stroke="#1f958b"/><path d="M0 120h16" stroke="#1f978b"/><path d="M16 120h16" stroke="#1f9a8a"/><path d="M32 120h16" stroke="#1e9d89"/><path d="M48 120h16" stroke="#1fa188"/><path d="M64 120h16" stroke="#21a585"/><path d="M80 120h16" stroke="#24aa83"/><path d="M96 120h16" stroke="#27ad81"/><path d="M112 120h16" stroke="#28ae80"/><path d="M128 120h16" stroke="#27ad81"/><path d="M144 120h16" stroke="#26ad81"/><path d="M160 120h16" stroke="#25ac82"/><path d="M176 120h16" stroke="#23a983"/><path d="M192 120h16" stroke="#20a486"/><path d="M208 120h16" stroke="#1fa187"/><path d="M224 120h16" stroke="#20a386"/><path d="M240 120h16" stroke="#21a685"/><path d="M256 120h16" stroke="#22a884"/><path d="M272 120h16" stroke="#22a884"/><path d="M288 120h16" stroke="#21a685"/><path d="M304 120h16" stroke="#1fa287"/><path d="M320 120h16" stroke="#1f9e89"/><path d="M336 120h16" stroke="#1f998a"/><path d="M352 120h16" stroke="#1f948c"/><path d="M368 120h16" stroke="#21908d"/><path d="M384 120h16" stroke="#228b8d"/><path d="M400 120h16" stroke="#24878e"/><path d="M416 120h16" stroke="#25848e"/><path d="M-16 136h16" stroke="#1f948c"/><path d="M0 136h16" stroke="#1f968b"/><path d="M16 136h16" stroke="#1f998a"/><path d="M32 136h16" stroke="#1e9d89"/><path d="M48 136h16" stroke="#1fa188"/><path d="M64 136h16" stroke="#21a685"/><path d="M80 136h16" stroke="#25ac82"/><path d="M96 136h16" stroke="#29af7f"/><path d="M112 136h16" stroke="#2ab07f"/><path d="M128 136h16" stroke="#28ae80"/><path d="M144 136h16" stroke="#25ac82"/><path d="M160 136h16" stroke="#22a884"/><path d="M176 136h16" stroke="#20a386"/><path d="M192 136h16" stroke="#1f9f88"/><path d="M208 136h16" stroke="#1f9e89"/><path d="M224 136h16" stroke="#1fa088"/><path d="M240 136h16" stroke="#1fa188"/><path d="M256 136h16" stroke="#1fa287"/><path d="M272 136h16" stroke="#1fa287"/><path d="M288 136h16" stroke="#1fa188"/><path d="M304 136h16" stroke="#1e9d89"/><path d="M320 136h16" stroke="#1f988b"/><path d="M336 136h16" stroke="#1f948c"/><path d="M352 136h16" stroke="#20928c"/><path d="M368 136h16" stroke="#228d8d"/><path d="M384 136h16" stroke="#23888e"/><path d="M400 136h16" stroke="#25858e"/><path d="M416 136h16" stroke="#26828e"/><path d="M-16 152h16" stroke="#20938c"/><path d="M0 152h16" stroke="#1f958b"/><path d="M16 152h16" stroke="#1f988b"/><path d="M32 152h16" stroke="#1e9c89"/><path d="M48 152h16" stroke="#1fa187"/><path d="M64 152h16" stroke="#22a785"/><path d="M80 152h16" stroke="#27ad81"/><path d="M96 152h16" stroke="#2cb17e"/><path d="M112 152h16" stroke="#2db27d"/><path d="M128 152h16" stroke="#29af7f"/><path d="M144 152h16" stroke="#24aa83"/><path d="M160 152h16" stroke="#20a386"/><path d="M176 152h16" stroke="#1e9b8a"/><path d="M192 152h16" stroke="#1f958b"/><path d="M208 152h16" stroke="#1f9a8a"/><path d="M224 152h16" stroke="#1e9b8a"/><path d="M240 152h16" stroke="#1e9b8a"/><path d="M256 152h16" stroke="#1e9b8a"/><path d="M272 152h16" stroke="#1e9b8a"/><path d="M288 152h16" stroke="#1f988b"/><path d="M304 152h16" stroke="#1f948c"/><path d="M320 152h16" stroke="#21918c"/><path d="M336 152h16" stroke="#218f8d"/><path d="M352 152h16" stroke="#218e8d"/><path d="M368 152h16" stroke="#228b8d"/><path d="M384 152h16" stroke="#24878e"/><path d="M400 152h16" stroke="#25838e"/><path d="M416 152h16" stroke="#27808e"/><path d="M-16 168h16" stroke="#20938c"/><path d="M0 168h16" stroke="#1f958b"/><path d="M16 168h16" stroke="#1f988b"/><path d="M32 168h16" stroke="#1e9b8a"/><path d="M48 168h16" stroke="#1fa188"/><path d="M64 168h16" stroke="#22a785"/><path d="M80 168h16" stroke="#27ad81"/><path d="M96 168h16" stroke="#2eb37c"/><path d="M112 168h16" stroke="#2eb37c"/><path d="M128 168h16" stroke="#28ae80"/><path d="M144 168h16" stroke="#22a884"/><path d="M160 168h16" stroke="#1fa188"/><path d="M176 168h16" stroke="#1f9a8a"/><path d="M192 168h16" stroke="#1f988b"/><path d="M208 168h16" stroke="#1f998a"/><path d="M224 168h16" stroke="#1f968b"/><path d="M240 168h16" stroke="#1f958b"/><path d="M256 168h16" stroke="#1f948c"/><path d="M272 168h16" stroke="#20938c"/><path d="M288 168h16" stroke="#21918c"/><path d="M304 168h16" stroke="#218e8d"/><path d="M320 168h16" stroke="#228b8d"/><path d="M336 168h16" stroke="#238a8d"/><path d="M352 168h16" stroke="#23898e"/><path d="M368 168h16" stroke="#24878e"/><path d="M384 168h16" stroke="#25848e"/><path d="M400 168h16" stroke="#26818e"/><path d="M416 168h16" stroke="#277e8e"/><path d="M-16 184h16" stroke="#20928c"/><path d="M0 184h16" stroke="#1f958b"/><path d="M16 184h16" stroke="#1f978b"/><path d="M32 184h16" stroke="#1e9b8a"/><path d="M48 184h16" stroke="#1fa088"/><path d="M64 184h16" stroke="#21a685"/><path d="M80 184h16" stroke="#27ad81"/><path d="M96 184h16" stroke="#2cb17e"/><path d="M112 184h16" stroke="#2ab07f"/><path d="M128 184h16" stroke="#25ac82"/><path d="M144 184h16" stroke="#20a486"/><path d="M160 184h16" stroke="#1f9e89"/><path d="M176 184h16" stroke="#1f988b"/><path d="M192 184h16" stroke="#1f968b"/><path d="M208 184h16" stroke="#1f958b"/><path d="M224 184h16" stroke="#20928c"/><path d="M240 184h16" stroke="#218f8d"/><path d="M256 184h16" stroke="#218e8d"/><path d="M272 184h16" stroke="#228c8d"/><path d="M288 184h16" stroke="#238a8d"/><path d="M304 184h16" stroke="#23888e"/><path d="M320 184h16" stroke="#24868e"/><path d="M336 184h16" stroke="#25858e"/><path d="M352 184h16" stroke="#25848e"/><path d="M368 184h16" stroke="#26828e"/><path d="M384 184h16" stroke="#26818e"/><path d="M400 184h16" stroke="#277e8e"/><path d="M416 184h16" stroke="#297b8e"/><path d="M-16 200h16" stroke="#20938c"/><path d="M0 200h16" stroke="#1f958b"/><path d="M16 200h16" stroke="#1f988b"/><path d="M32 200h16" stroke="#1e9b8a"/><path d="M48 200h16" stroke="#1fa088"/><path d="M64 200h16" stroke="#21a685"/><path d="M80 200h16" stroke="#25ac82"/><path d="M96 200h16" stroke="#27ad81"/><path d="M112 200h16" stroke="#25ab82"/><path d="M128 200h16" stroke="#21a685"/><path d="M144 200h16" stroke="#1fa088"/><path d="M160 200h16" stroke="#1f998a"/><path d="M176 200h16" stroke="#20938c"/><path d="M192 200h16" stroke="#21918c"/><path d="M208 200h16" stroke="#21908d"/><path d="M224 200h16" stroke="#228d8d"/><path d="M240 200h16" stroke="#23898e"/><path d="M256 200h16" stroke="#24878e"/><path d="M272 200h16" stroke="#25858e"/><path d="M288 200h16" stroke="#25848e"/><path d="M304 200h16" stroke="#26828e"/><path d="M320 200h16" stroke="#26828e"/><path d="M336 200h16" stroke="#26818e"/><path d="M352 200h16" stroke="#27808e"/><path d="M368 200h16" stroke="#277e8e"/><path d="M384 200h16" stroke="#287c8e"/><path d="M400 200h16" stroke="#297a8e"/><path d="M416 200h16" stroke="#297a8e"/><path d="M-16 216h16" stroke="#20938c"/><path d="M0 216h16" stroke="#1f958b"/><path d="M16 216h16" stroke="#1f988b"/><path d="M32 216h16" stroke="#1e9c89"/><path d="M48 216h16" stroke="#1fa188"/><path d="M64 216h16" stroke="#20a386"/><path d="M80 216h16" stroke="#21a685"/><path d="M96 216h16" stroke="#21a685"/><path d="M112 216h16" stroke="#20a386"/><path d="M128 216h16" stroke="#1f9f88"/><path d="M144 216h16" stroke="#1f988b"/><path d="M160 216h16" stroke="#20928c"/><path d="M176 216h16" stroke="#228b8d"/><path d="M192 216h16" stroke="#23898e"/><path d="M208 216h16" stroke="#238a8d"/><path d="M224 216h16" stroke="#24878e"/><path d="M240 216h16" stroke="#25838e"/><path d="M256 216h16" stroke="#26828e"/><path d="M272 216h16" stroke="#27808e"/><path d="M288 216h16" stroke="#277f8e"/><path d="M304 216h16" stroke="#277e8e"/><path d="M320 216h16" stroke="#287d8e"/><path d="M336 216h16" stroke="#287c8e"/><path d="M352 216h16" stroke="#297b8e"/><path d="M368 216h16" stroke="#297a8e"/><path d="M384 216h16" stroke="#297a8e"/><path d="M400 216h16" stroke="#297a8e"/><path d="M416 216h16" stroke="#297a8e"/><path d="M-16 232h16" stroke="#1f948c"/><path d="M0 232h16" stroke="#1f968b"/><path d="M16 232h16" stroke="#1f998a"/><path d="M32 232h16" stroke="#1e9d89"/><path d="M48 232h16" stroke="#1fa088"/><path d="M64 232h16" stroke="#1fa088"/><path d="M80 232h16" stroke="#1f9f88"/><path d="M96 232h16" stroke="#1f9e89"/><path d="M112 232h16" stroke="#1e9b8a"/><path d="M128 232h16" stroke="#1f968b"/><path d="M144 232h16" stroke="#21918c"/><path d="M160 232h16" stroke="#228b8d"/><path d="M176 232h16" stroke="#25848e"/><path d="M192 232h16" stroke="#26828e"/><path d="M208 232h16" stroke="#25858e"/><path d="M224 232h16" stroke="#26828e"/><path d="M240 232h16" stroke="#277f8e"/><path d="M256 232h16" stroke="#287d8e"/><path d="M272 232h16" stroke="#297b8e"/><path d="M288 232h16" stroke="#297a8e"/><path d="M304 232h16" stroke="#297a8e"/><path d="M320 232h16" stroke="#297a8e"/><path d="M336 232h16" stroke="#297a8e"/><path d="M352 232h16" stroke="#297a8e"/><path d="M368 232h16" stroke="#297a8e"/><path d="M384 232h16" stroke="#297a8e"/><path d="M400 232h16" stroke="#297a8e"/><path d="M416 232h16" stroke="#297a8e"/><path d="M-16 248h16" stroke="#1f958b"/><path d="M0 248h16" stroke="#1f978b"/><path d="M16 248h16" stroke="#1e9b8a"/><path d="M32 248h16" stroke="#1f9f88"/><path d="M48 248h16" stroke="#1f9f88"/><path d="M64 248h16" stroke="#1e9b8a"/><path d="M80 248h16" stroke="#1f968b"/><path d="M96 248h16" stroke="#20938c"/><path d="M112 248h16" stroke="#21918c"/><path d="M128 248h16" stroke="#218e8d"/><path d="M144 248h16" stroke="#23898e"/><path d="M160 248h16" stroke="#25838e"/><path d="M176 248h16" stroke="#277f8e"/><path d="M192 248h16" stroke="#277e8e"/><path d="M208 248h16" stroke="#277f8e"/><path d="M224 248h16" stroke="#287d8e"/><path d="M240 248h16" stroke="#297a8e"/><path d="M256 248h16" stroke="#297a8e"/><path d="M272 248h16" stroke="#297a8e"/><path d="M288 248h16" stroke="#297a8e"/><path d="M304 248h16" stroke="#297a8e"/><path d="M320 248h16" stroke="#297a8e"/><path d="M336 248h16" stroke="#297a8e"/><path d="M352 248h16" stroke="#297a8e"/><path d="M368 248h16" stroke="#297a8e"/><path d="M384 248h16" stroke="#297a8e"/><path d="M400 248h16" stroke="#297a8e"/><path d="M416 248h16" stroke="#297a8e"/><path d="M-16 264h16" stroke="#1f958b"/><path d="M0 264h16" stroke="#1f988b"/><path d="M16 264h16" stroke="#1e9c89"/><path d="M32 264h16" stroke="#1f9f88"/><path d="M48 264h16" stroke="#1f9f88"/><path d="M64 264h16" stroke="#1f958b"/><path d="M80 264h16" stroke="#228c8d"/><path d="M96 264h16" stroke="#23888e"/><path d="M112 264h16" stroke="#24878e"/><path d="M128 264h16" stroke="#25848e"/><path d="M144 264h16" stroke="#26828e"/><path d="M160 264h16" stroke="#277e8e"/><path d="M176 264h16" stroke="#297b8e"/><path d="M192 264h16" stroke="#297a8e"/><path d="M208 264h16" stroke="#297a8e"/><path d="M224 264h16" stroke="#297a8e"/><path d="M240 264h16" stroke="#297a8e"/><path d="M256 264h16" stroke="#297a8e"/><path d="M272 264h16" stroke="#297a8e"/><path d="M288 264h16" stroke="#297a8e"/><path d="M304 264h16" stroke="#297a8e"/><path d="M320 264h16" stroke="#297a8e"/><path d="M336 264h16" stroke="#297a8e"/><path d="M352 264h16" stroke="#297a8e"/><path d="M368 264h16" stroke="#297a8e"/><path d="M384 264h16" stroke="#297a8e"/><path d="M400 264h16" stroke="#297a8e"/><path d="M416 264h16" stroke="#297a8e"/><path d="M-16 280h16" stroke="#1f958b"/><path d="M0 280h16" stroke="#1f978b"/><path d="M16 280h16" stroke="#1f9a8a"/><path d="M32 280h16" stroke="#1e9c89"/><path d="M48 280h16" stroke="#1f998a"/><path d="M64 280h16" stroke="#218f8d"/><path d="M80 280h16" stroke="#25848e"/><path d="M96 280h16" stroke="#26818e"/><path d="M112 280h16" stroke="#277f8e"/><path d="M128 280h16" stroke="#287d8e"/><path d="M144 280h16" stroke="#297b8e"/><path d="M160 280h16" stroke="#297a8e"/><path d="M176 280h16" stroke="#297a8e"/><path d="M192 280h16" stroke="#297a8e"/><path d="M208 280h16" stroke="#297a8e"/><path d="M224 280h16" stroke="#297a8e"/><path d="M240 280h16" stroke="#297a8e"/><path d="M256 280h16" stroke="#297a8e"/><path d="M272 280h16" stroke="#297a8e"/><path d="M288 280h16" stroke="#297a8e"/><path d="M304 280h16" stroke="#297a8e"/><path d="M320 280h16" stroke="#297a8e"/><path d="M336 280h16" stroke="#297a8e"/><path d="M352 280h16" stroke="#297a8e"/><path d="M368 280h16" stroke="#297a8e"/><path d="M384 280h16" stroke="#297a8e"/><path d="M400 280h16" stroke="#297a8e"/><path d="M416 280h16" stroke="#297a8e"/><path d="M-16 296h16" stroke="#1f948c"/><path d="M0 296h16" stroke="#1f968b"/><path d="M16 296h16" stroke="#1f978b"/><path d="M32 296h16" stroke="#1f988b"/><path d="M48 296h16" stroke="#1f948c"/><path d="M64 296h16" stroke="#238a8d"/><path d="M80 296h16" stroke="#26818e"/><path d="M96 296h16" stroke="#287c8e"/><path d="M112 296h16" stroke="#297a8e"/><path d="M128 296h16" stroke="#297a8e"/><path d="M144 296h16" stroke="#297a8e"/><path d="M160 296h16" stroke="#297a8e"/><path d="M176 296h16" stroke="#297a8e"/><path d="M192 296h16" stroke="#297a8e"/><path d="M208 296h16" stroke="#297a8e"/><path d="M224 296h16" stroke="#297a8e"/><path d="M240 296h16" stroke="#297a8e"/><path d="M256 296h16" stroke="#297a8e"/><path d="M272 296h16" stroke="#297a8e"/><path d="M288 296h16" stroke="#297a8e"/><path d="M304 296h16" stroke="#297a8e"/><path d="M320 296h16" stroke="#297a8e"/><path d="M336 296h16" stroke="#297a8e"/><path d="M352 296h16" stroke="#297a8e"/><path d="M368 296h16" stroke="#297a8e"/><path d="M384 296h16" stroke="#297a8e"/><path d="M400 296h16" stroke="#297a8e"/><path d="M416 296h16" stroke="#297a8e"/><path d="M-16 312h16" stroke="#20938c"/><path d="M0 312h16" stroke="#1f948c"/><path d="M16 312h16" stroke="#1f948c"/><path d="M32 312h16" stroke="#20938c"/><path d="M48 312h16" stroke="#21908d"/><path d="M64 312h16" stroke="#23888e"/><path d="M80 312h16" stroke="#27808e"/><path d="M96 312h16" stroke="#297a8e"/><path d="M112 312h16" stroke="#297a8e"/><path d="M128 312h16" stroke="#297a8e"/><path d="M144 312h16" stroke="#297a8e"/><path d="M160 312h16" stroke="#297a8e"/><path d="M176 312h16" stroke="#297a8e"/><path d="M192 312h16" stroke="#297a8e"/><path d="M208 312h16" stroke="#297a8e"/><path d="M224 312h16" stroke="#297a8e"/><path d="M240 312h16" stroke="#297a8e"/><path d="M256 312h16" stroke="#297a8e"/><path d="M272 312h16" stroke="#297a8e"/><path d="M288 312h16" stroke="#297a8e"/><path d="M304 312h16" stroke="#297a8e"/><path d="M320 312h16" stroke="#297a8e"/><path d="M336 312h16" stroke="#297a8e"/><path d="M352 312h16" stroke="#297a8e"/><path d="M368 312h16" stroke="#297a8e"/><path d="M384 312h16" stroke="#297a8e"/><path d="M400 312h16" stroke="#297a8e"/><path d="M416 312h16" stroke="#297a8e"/><path d="M-16 328h16" stroke="#20928c"/><path d="M0 328h16" stroke="#20928c"/><path d="M16 328h16" stroke="#20928c"/><path d="M32 328h16" stroke="#21908d"/><path d="M48 328h16" stroke="#228c8d"/><path d="M64 328h16" stroke="#25858e"/><path d="M80 328h16" stroke="#277e8e"/><path d="M96 328h16" stroke="#297a8e"/><path d="M112 328h16" stroke="#297a8e"/><path d="M128 328h16" stroke="#297a8e"/><path d="M144 328h16" stroke="#297a8e"/><path d="M160 328h16" stroke="#297a8e"/><path d="M176 328h16" stroke="#297a8e"/><path d="M192 328h16" stroke="#297a8e"/><path d="M208 328h16" stroke="#297a8e"/><path d="M224 328h16" stroke="#297a8e"/><path d="M240 328h16" stroke="#297a8e"/><path d="M256 328h16" stroke="#297a8e"/><path d="M272 328h16" stroke="#297a8e"/><path d="M288 328h16" stroke="#297a8e"/><path d="M304 328h16" stroke="#297a8e"/><path d="M320 328h16" stroke="#297a8e"/><path d="M336 328h16" stroke="#297a8e"/><path d="M352 328h16" stroke="#297a8e"/><path d="M368 328h16" stroke="#297a8e"/><path d="M384 328h16" stroke="#297a8e"/><path d="M400 328h16" stroke="#297a8e"/><path d="M416 328h16" stroke="#297a8e"/><path d="M-16 344h16" stroke="#218f8d"/><path d="M0 344h16" stroke="#218f8d"/><path d="M16 344h16" stroke="#218e8d"/><path d="M32 344h16" stroke="#228b8d"/><path d="M48 344h16" stroke="#24878e"/><path d="M64 344h16" stroke="#26828e"/><path d="M80 344h16" stroke="#287c8e"/><path d="M96 344h16" stroke="#297a8e"/><path d="M112 344h16" stroke="#297a8e"/><path d="M128 344h16" stroke="#297a8e"/><path d="M144 344h16" stroke="#297a8e"/><path d="M160 344h16" stroke="#297a8e"/><path d="M176 344h16" stroke="#297a8e"/><path d="M192 344h16" stroke="#297a8e"/><path d="M208 344h16" stroke="#297a8e"/><path d="M224 344h16" stroke="#297a8e"/><path d="M240 344h16" stroke="#297a8e"/><path d="M256 344h16" stroke="#297a8e"/><path d="M272 344h16" stroke="#297a8e"/><path d="M288 344h16" stroke="#297a8e"/><path d="M304 344h16" stroke="#297a8e"/><path d="M320 344h16" stroke="#297a8e"/><path d="M336 344h16" stroke="#297a8e"/><path d="M352 344h16" stroke="#297a8e"/><path d="M368 344h16" stroke="#297a8e"/><path d="M384 344h16" stroke="#297a8e"/><path d="M400 344h16" stroke="#297a8e"/><path d="M416 344h16" stroke="#297a8e"/></g></g><use href="#land"/><use href="#owf"/><use href="#sbar"/></g><rect width="405.5" height="322.8" fill="none" stroke="#505050" stroke-width="1.3"/></g><g transform="translate(86.7,1739.3)"><g clip-path="url(#cpA)"><rect width="405.5" height="322.8" fill="#fff"/><g clip-path="url(#csa)"><g filter="url(#bl)" stroke-width="16"><path d="M-16 -8h16" stroke="#1f988b"/><path d="M0 -8h16" stroke="#1f998a"/><path d="M16 -8h16" stroke="#1e9d89"/><path d="M32 -8h16" stroke="#1fa187"/><path d="M48 -8h16" stroke="#21a685"/><path d="M64 -8h16" stroke="#25ab82"/><path d="M80 -8h16" stroke="#29af7f"/><path d="M96 -8h16" stroke="#2fb47c"/><path d="M112 -8h16" stroke="#37b878"/><path d="M128 -8h16" stroke="#3bbb75"/><path d="M144 -8h16" stroke="#40bd72"/><path d="M160 -8h16" stroke="#46c06f"/><path d="M176 -8h16" stroke="#48c16e"/><path d="M192 -8h16" stroke="#48c16e"/><path d="M208 -8h16" stroke="#46c06f"/><path d="M224 -8h16" stroke="#46c06f"/><path d="M240 -8h16" stroke="#46c06f"/><path d="M256 -8h16" stroke="#46c06f"/><path d="M272 -8h16" stroke="#44bf70"/><path d="M288 -8h16" stroke="#44bf70"/><path d="M304 -8h16" stroke="#44bf70"/><path d="M320 -8h16" stroke="#44bf70"/><path d="M336 -8h16" stroke="#42be71"/><path d="M352 -8h16" stroke="#3fbc73"/><path d="M368 -8h16" stroke="#3dbc74"/><path d="M384 -8h16" stroke="#3aba76"/><path d="M400 -8h16" stroke="#38b977"/><path d="M416 -8h16" stroke="#37b878"/><path d="M-16 8h16" stroke="#1f988b"/><path d="M0 8h16" stroke="#1f998a"/><path d="M16 8h16" stroke="#1e9d89"/><path d="M32 8h16" stroke="#1fa187"/><path d="M48 8h16" stroke="#21a685"/><path d="M64 8h16" stroke="#25ac82"/><path d="M80 8h16" stroke="#2ab07f"/><path d="M96 8h16" stroke="#32b67a"/><path d="M112 8h16" stroke="#38b977"/><path d="M128 8h16" stroke="#3fbc73"/><path d="M144 8h16" stroke="#44bf70"/><path d="M160 8h16" stroke="#4ac16d"/><path d="M176 8h16" stroke="#4ac16d"/><path d="M192 8h16" stroke="#4ac16d"/><path d="M208 8h16" stroke="#48c16e"/><path d="M224 8h16" stroke="#46c06f"/><path d="M240 8h16" stroke="#46c06f"/><path d="M256 8h16" stroke="#46c06f"/><path d="M272 8h16" stroke="#46c06f"/><path d="M288 8h16" stroke="#46c06f"/><path d="M304 8h16" stroke="#46c06f"/><path d="M320 8h16" stroke="#44bf70"/><path d="M336 8h16" stroke="#42be71"/><path d="M352 8h16" stroke="#3fbc73"/><path d="M368 8h16" stroke="#3dbc74"/><path d="M384 8h16" stroke="#3aba76"/><path d="M400 8h16" stroke="#37b878"/><path d="M416 8h16" stroke="#35b779"/><path d="M-16 24h16" stroke="#1f988b"/><path d="M0 24h16" stroke="#1f988b"/><path d="M16 24h16" stroke="#1e9c89"/><path d="M32 24h16" stroke="#1fa188"/><path d="M48 24h16" stroke="#21a685"/><path d="M64 24h16" stroke="#25ac82"/><path d="M80 24h16" stroke="#2cb17e"/><path d="M96 24h16" stroke="#34b679"/><path d="M112 24h16" stroke="#3bbb75"/><path d="M128 24h16" stroke="#42be71"/><path d="M144 24h16" stroke="#48c16e"/><path d="M160 24h16" stroke="#4cc26c"/><path d="M176 24h16" stroke="#4ec36b"/><path d="M192 24h16" stroke="#4cc26c"/><path d="M208 24h16" stroke="#48c16e"/><path d="M224 24h16" stroke="#46c06f"/><path d="M240 24h16" stroke="#46c06f"/><path d="M256 24h16" stroke="#46c06f"/><path d="M272 24h16" stroke="#46c06f"/><path d="M288 24h16" stroke="#48c16e"/><path d="M304 24h16" stroke="#46c06f"/><path d="M320 24h16" stroke="#44bf70"/><path d="M336 24h16" stroke="#42be71"/><path d="M352 24h16" stroke="#3fbc73"/><path d="M368 24h16" stroke="#3bbb75"/><path d="M384 24h16" stroke="#38b977"/><path d="M400 24h16" stroke="#35b779"/><path d="M416 24h16" stroke="#34b679"/><path d="M-16 40h16" stroke="#1f988b"/><path d="M0 40h16" stroke="#1f988b"/><path d="M16 40h16" stroke="#1e9b8a"/><path d="M32 40h16" stroke="#1fa088"/><path d="M48 40h16" stroke="#21a585"/><path d="M64 40h16" stroke="#25ac82"/><path d="M80 40h16" stroke="#2db27d"/><path d="M96 40h16" stroke="#37b878"/><path d="M112 40h16" stroke="#3fbc73"/><path d="M128 40h16" stroke="#46c06f"/><path d="M144 40h16" stroke="#4cc26c"/><path d="M160 40h16" stroke="#50c46a"/><path d="M176 40h16" stroke="#52c569"/><path d="M192 40h16" stroke="#4cc26c"/><path d="M208 40h16" stroke="#44bf70"/><path d="M224 40h16" stroke="#46c06f"/><path d="M240 40h16" stroke="#46c06f"/><path d="M256 40h16" stroke="#46c06f"/><path d="M272 40h16" stroke="#48c16e"/><path d="M288 40h16" stroke="#48c16e"/><path d="M304 40h16" stroke="#48c16e"/><path d="M320 40h16" stroke="#46c06f"/><path d="M336 40h16" stroke="#40bd72"/><path d="M352 40h16" stroke="#3dbc74"/><path d="M368 40h16" stroke="#38b977"/><path d="M384 40h16" stroke="#35b779"/><path d="M400 40h16" stroke="#34b679"/><path d="M416 40h16" stroke="#31b57b"/><path d="M-16 56h16" stroke="#1f988b"/><path d="M0 56h16" stroke="#1f988b"/><path d="M16 56h16" stroke="#1f9a8a"/><path d="M32 56h16" stroke="#1f9f88"/><path d="M48 56h16" stroke="#20a486"/><path d="M64 56h16" stroke="#25ac82"/><path d="M80 56h16" stroke="#2eb37c"/><path d="M96 56h16" stroke="#38b977"/><path d="M112 56h16" stroke="#44bf70"/><path d="M128 56h16" stroke="#4cc26c"/><path d="M144 56h16" stroke="#4ec36b"/><path d="M160 56h16" stroke="#50c46a"/><path d="M176 56h16" stroke="#50c46a"/><path d="M192 56h16" stroke="#46c06f"/><path d="M208 56h16" stroke="#40bd72"/><path d="M224 56h16" stroke="#42be71"/><path d="M240 56h16" stroke="#46c06f"/><path d="M256 56h16" stroke="#46c06f"/><path d="M272 56h16" stroke="#4ac16d"/><path d="M288 56h16" stroke="#4cc26c"/><path d="M304 56h16" stroke="#4ac16d"/><path d="M320 56h16" stroke="#44bf70"/><path d="M336 56h16" stroke="#3fbc73"/><path d="M352 56h16" stroke="#3aba76"/><path d="M368 56h16" stroke="#35b779"/><path d="M384 56h16" stroke="#32b67a"/><path d="M400 56h16" stroke="#2fb47c"/><path d="M416 56h16" stroke="#2eb37c"/><path d="M-16 72h16" stroke="#1f988b"/><path d="M0 72h16" stroke="#1f988b"/><path d="M16 72h16" stroke="#1f988b"/><path d="M32 72h16" stroke="#1e9d89"/><path d="M48 72h16" stroke="#20a386"/><path d="M64 72h16" stroke="#25ab82"/><path d="M80 72h16" stroke="#2eb37c"/><path d="M96 72h16" stroke="#3bbb75"/><path d="M112 72h16" stroke="#48c16e"/><path d="M128 72h16" stroke="#52c569"/><path d="M144 72h16" stroke="#56c667"/><path d="M160 72h16" stroke="#54c568"/><path d="M176 72h16" stroke="#4ec36b"/><path d="M192 72h16" stroke="#42be71"/><path d="M208 72h16" stroke="#3fbc73"/><path d="M224 72h16" stroke="#42be71"/><path d="M240 72h16" stroke="#48c16e"/><path d="M256 72h16" stroke="#4cc26c"/><path d="M272 72h16" stroke="#4ec36b"/><path d="M288 72h16" stroke="#4ec36b"/><path d="M304 72h16" stroke="#4ac16d"/><path d="M320 72h16" stroke="#42be71"/><path d="M336 72h16" stroke="#3bbb75"/><path d="M352 72h16" stroke="#35b779"/><path d="M368 72h16" stroke="#31b57b"/><path d="M384 72h16" stroke="#2eb37c"/><path d="M400 72h16" stroke="#2db27d"/><path d="M416 72h16" stroke="#2cb17e"/><path d="M-16 88h16" stroke="#1f988b"/><path d="M0 88h16" stroke="#1f988b"/><path d="M16 88h16" stroke="#1f988b"/><path d="M32 88h16" stroke="#1e9b8a"/><path d="M48 88h16" stroke="#1fa187"/><path d="M64 88h16" stroke="#23a983"/><path d="M80 88h16" stroke="#2eb37c"/><path d="M96 88h16" stroke="#3dbc74"/><path d="M112 88h16" stroke="#4cc26c"/><path d="M128 88h16" stroke="#58c765"/><path d="M144 88h16" stroke="#5ec962"/><path d="M160 88h16" stroke="#63cb5f"/><path d="M176 88h16" stroke="#5cc863"/><path d="M192 88h16" stroke="#4ac16d"/><path d="M208 88h16" stroke="#48c16e"/><path d="M224 88h16" stroke="#4cc26c"/><path d="M240 88h16" stroke="#4ec36b"/><path d="M256 88h16" stroke="#50c46a"/><path d="M272 88h16" stroke="#50c46a"/><path d="M288 88h16" stroke="#4cc26c"/><path d="M304 88h16" stroke="#46c06f"/><path d="M320 88h16" stroke="#3dbc74"/><path d="M336 88h16" stroke="#34b679"/><path d="M352 88h16" stroke="#2eb37c"/><path d="M368 88h16" stroke="#2ab07f"/><path d="M384 88h16" stroke="#29af7f"/><path d="M400 88h16" stroke="#29af7f"/><path d="M416 88h16" stroke="#29af7f"/><path d="M-16 104h16" stroke="#1f988b"/><path d="M0 104h16" stroke="#1f988b"/><path d="M16 104h16" stroke="#1f988b"/><path d="M32 104h16" stroke="#1f9a8a"/><path d="M48 104h16" stroke="#1f9f88"/><path d="M64 104h16" stroke="#22a785"/><path d="M80 104h16" stroke="#2db27d"/><path d="M96 104h16" stroke="#3dbc74"/><path d="M112 104h16" stroke="#4ec36b"/><path d="M128 104h16" stroke="#5cc863"/><path d="M144 104h16" stroke="#67cc5c"/><path d="M160 104h16" stroke="#70cf57"/><path d="M176 104h16" stroke="#75d054"/><path d="M192 104h16" stroke="#6ccd5a"/><path d="M208 104h16" stroke="#65cb5e"/><path d="M224 104h16" stroke="#60ca60"/><path d="M240 104h16" stroke="#5ac864"/><path d="M256 104h16" stroke="#52c569"/><path d="M272 104h16" stroke="#4ac16d"/><path d="M288 104h16" stroke="#44bf70"/><path d="M304 104h16" stroke="#3bbb75"/><path d="M320 104h16" stroke="#34b679"/><path d="M336 104h16" stroke="#2ab07f"/><path d="M352 104h16" stroke="#26ad81"/><path d="M368 104h16" stroke="#25ac82"/><path d="M384 104h16" stroke="#26ad81"/><path d="M400 104h16" stroke="#27ad81"/><path d="M416 104h16" stroke="#27ad81"/><path d="M-16 120h16" stroke="#1f988b"/><path d="M0 120h16" stroke="#1f988b"/><path d="M16 120h16" stroke="#1f988b"/><path d="M32 120h16" stroke="#1f9a8a"/><path d="M48 120h16" stroke="#1f9f88"/><path d="M64 120h16" stroke="#21a585"/><path d="M80 120h16" stroke="#2ab07f"/><path d="M96 120h16" stroke="#3bbb75"/><path d="M112 120h16" stroke="#4ec36b"/><path d="M128 120h16" stroke="#5cc863"/><path d="M144 120h16" stroke="#69cd5b"/><path d="M160 120h16" stroke="#75d054"/><path d="M176 120h16" stroke="#84d44b"/><path d="M192 120h16" stroke="#89d548"/><path d="M208 120h16" stroke="#86d549"/><path d="M224 120h16" stroke="#7ad151"/><path d="M240 120h16" stroke="#65cb5e"/><path d="M256 120h16" stroke="#50c46a"/><path d="M272 120h16" stroke="#42be71"/><path d="M288 120h16" stroke="#38b977"/><path d="M304 120h16" stroke="#31b57b"/><path d="M320 120h16" stroke="#28ae80"/><path d="M336 120h16" stroke="#22a884"/><path d="M352 120h16" stroke="#21a585"/><path d="M368 120h16" stroke="#22a785"/><path d="M384 120h16" stroke="#24aa83"/><path d="M400 120h16" stroke="#25ac82"/><path d="M416 120h16" stroke="#26ad81"/><path d="M-16 136h16" stroke="#1f988b"/><path d="M0 136h16" stroke="#1f998a"/><path d="M16 136h16" stroke="#1f9a8a"/><path d="M32 136h16" stroke="#1e9d89"/><path d="M48 136h16" stroke="#1fa188"/><path d="M64 136h16" stroke="#22a884"/><path d="M80 136h16" stroke="#2cb17e"/><path d="M96 136h16" stroke="#3bbb75"/><path d="M112 136h16" stroke="#4ec36b"/><path d="M128 136h16" stroke="#5cc863"/><path d="M144 136h16" stroke="#67cc5c"/><path d="M160 136h16" stroke="#77d153"/><path d="M176 136h16" stroke="#8ed645"/><path d="M192 136h16" stroke="#9bd93c"/><path d="M208 136h16" stroke="#a2da37"/><path d="M224 136h16" stroke="#93d741"/><path d="M240 136h16" stroke="#6ccd5a"/><path d="M256 136h16" stroke="#4ec36b"/><path d="M272 136h16" stroke="#3aba76"/><path d="M288 136h16" stroke="#2eb37c"/><path d="M304 136h16" stroke="#28ae80"/><path d="M320 136h16" stroke="#23a983"/><path d="M336 136h16" stroke="#1fa187"/><path d="M352 136h16" stroke="#1fa187"/><path d="M368 136h16" stroke="#21a685"/><path d="M384 136h16" stroke="#23a983"/><path d="M400 136h16" stroke="#25ab82"/><path d="M416 136h16" stroke="#25ac82"/><path d="M-16 152h16" stroke="#1e9d89"/><path d="M0 152h16" stroke="#1e9d89"/><path d="M16 152h16" stroke="#1f9f88"/><path d="M32 152h16" stroke="#1fa187"/><path d="M48 152h16" stroke="#21a685"/><path d="M64 152h16" stroke="#25ac82"/><path d="M80 152h16" stroke="#2fb47c"/><path d="M96 152h16" stroke="#3fbc73"/><path d="M112 152h16" stroke="#52c569"/><path d="M128 152h16" stroke="#60ca60"/><path d="M144 152h16" stroke="#6ccd5a"/><path d="M160 152h16" stroke="#7cd250"/><path d="M176 152h16" stroke="#93d741"/><path d="M192 152h16" stroke="#9bd93c"/><path d="M208 152h16" stroke="#a5db36"/><path d="M224 152h16" stroke="#95d840"/><path d="M240 152h16" stroke="#69cd5b"/><path d="M256 152h16" stroke="#48c16e"/><path d="M272 152h16" stroke="#31b57b"/><path d="M288 152h16" stroke="#26ad81"/><path d="M304 152h16" stroke="#23a983"/><path d="M320 152h16" stroke="#22a785"/><path d="M336 152h16" stroke="#21a585"/><path d="M352 152h16" stroke="#21a585"/><path d="M368 152h16" stroke="#22a785"/><path d="M384 152h16" stroke="#23a983"/><path d="M400 152h16" stroke="#24aa83"/><path d="M416 152h16" stroke="#25ab82"/><path d="M-16 168h16" stroke="#1fa187"/><path d="M0 168h16" stroke="#1fa287"/><path d="M16 168h16" stroke="#20a386"/><path d="M32 168h16" stroke="#22a785"/><path d="M48 168h16" stroke="#25ac82"/><path d="M64 168h16" stroke="#29af7f"/><path d="M80 168h16" stroke="#34b679"/><path d="M96 168h16" stroke="#46c06f"/><path d="M112 168h16" stroke="#58c765"/><path d="M128 168h16" stroke="#67cc5c"/><path d="M144 168h16" stroke="#70cf57"/><path d="M160 168h16" stroke="#7cd250"/><path d="M176 168h16" stroke="#90d743"/><path d="M192 168h16" stroke="#98d83e"/><path d="M208 168h16" stroke="#84d44b"/><path d="M224 168h16" stroke="#70cf57"/><path d="M240 168h16" stroke="#58c765"/><path d="M256 168h16" stroke="#3fbc73"/><path d="M272 168h16" stroke="#2cb17e"/><path d="M288 168h16" stroke="#23a983"/><path d="M304 168h16" stroke="#21a685"/><path d="M320 168h16" stroke="#22a785"/><path d="M336 168h16" stroke="#22a884"/><path d="M352 168h16" stroke="#22a884"/><path d="M368 168h16" stroke="#23a983"/><path d="M384 168h16" stroke="#24aa83"/><path d="M400 168h16" stroke="#24aa83"/><path d="M416 168h16" stroke="#25ab82"/><path d="M-16 184h16" stroke="#22a884"/><path d="M0 184h16" stroke="#22a884"/><path d="M16 184h16" stroke="#23a983"/><path d="M32 184h16" stroke="#25ac82"/><path d="M48 184h16" stroke="#27ad81"/><path d="M64 184h16" stroke="#2ab07f"/><path d="M80 184h16" stroke="#38b977"/><path d="M96 184h16" stroke="#50c46a"/><path d="M112 184h16" stroke="#65cb5e"/><path d="M128 184h16" stroke="#70cf57"/><path d="M144 184h16" stroke="#73d056"/><path d="M160 184h16" stroke="#73d056"/><path d="M176 184h16" stroke="#7ad151"/><path d="M192 184h16" stroke="#81d34d"/><path d="M208 184h16" stroke="#69cd5b"/><path d="M224 184h16" stroke="#56c667"/><path d="M240 184h16" stroke="#48c16e"/><path d="M256 184h16" stroke="#38b977"/><path d="M272 184h16" stroke="#28ae80"/><path d="M288 184h16" stroke="#21a685"/><path d="M304 184h16" stroke="#20a486"/><path d="M320 184h16" stroke="#21a585"/><path d="M336 184h16" stroke="#22a785"/><path d="M352 184h16" stroke="#23a983"/><path d="M368 184h16" stroke="#23a983"/><path d="M384 184h16" stroke="#24aa83"/><path d="M400 184h16" stroke="#24aa83"/><path d="M416 184h16" stroke="#25ab82"/><path d="M-16 200h16" stroke="#29af7f"/><path d="M0 200h16" stroke="#29af7f"/><path d="M16 200h16" stroke="#2ab07f"/><path d="M32 200h16" stroke="#2cb17e"/><path d="M48 200h16" stroke="#2eb37c"/><path d="M64 200h16" stroke="#34b679"/><path d="M80 200h16" stroke="#48c16e"/><path d="M96 200h16" stroke="#65cb5e"/><path d="M112 200h16" stroke="#75d054"/><path d="M128 200h16" stroke="#77d153"/><path d="M144 200h16" stroke="#70cf57"/><path d="M160 200h16" stroke="#65cb5e"/><path d="M176 200h16" stroke="#5ec962"/><path d="M192 200h16" stroke="#63cb5f"/><path d="M208 200h16" stroke="#5ec962"/><path d="M224 200h16" stroke="#4ec36b"/><path d="M240 200h16" stroke="#40bd72"/><path d="M256 200h16" stroke="#34b679"/><path d="M272 200h16" stroke="#28ae80"/><path d="M288 200h16" stroke="#22a785"/><path d="M304 200h16" stroke="#21a585"/><path d="M320 200h16" stroke="#21a585"/><path d="M336 200h16" stroke="#22a785"/><path d="M352 200h16" stroke="#22a884"/><path d="M368 200h16" stroke="#23a983"/><path d="M384 200h16" stroke="#24aa83"/><path d="M400 200h16" stroke="#24aa83"/><path d="M416 200h16" stroke="#25ab82"/><path d="M-16 216h16" stroke="#35b779"/><path d="M0 216h16" stroke="#35b779"/><path d="M16 216h16" stroke="#37b878"/><path d="M32 216h16" stroke="#3bbb75"/><path d="M48 216h16" stroke="#42be71"/><path d="M64 216h16" stroke="#52c569"/><path d="M80 216h16" stroke="#69cd5b"/><path d="M96 216h16" stroke="#7cd250"/><path d="M112 216h16" stroke="#7fd34e"/><path d="M128 216h16" stroke="#77d153"/><path d="M144 216h16" stroke="#6ccd5a"/><path d="M160 216h16" stroke="#58c765"/><path d="M176 216h16" stroke="#42be71"/><path d="M192 216h16" stroke="#40bd72"/><path d="M208 216h16" stroke="#4cc26c"/><path d="M224 216h16" stroke="#48c16e"/><path d="M240 216h16" stroke="#3dbc74"/><path d="M256 216h16" stroke="#32b67a"/><path d="M272 216h16" stroke="#29af7f"/><path d="M288 216h16" stroke="#24aa83"/><path d="M304 216h16" stroke="#22a785"/><path d="M320 216h16" stroke="#21a685"/><path d="M336 216h16" stroke="#22a785"/><path d="M352 216h16" stroke="#22a884"/><path d="M368 216h16" stroke="#23a983"/><path d="M384 216h16" stroke="#23a983"/><path d="M400 216h16" stroke="#24aa83"/><path d="M416 216h16" stroke="#24aa83"/><path d="M-16 232h16" stroke="#48c16e"/><path d="M0 232h16" stroke="#48c16e"/><path d="M16 232h16" stroke="#4cc26c"/><path d="M32 232h16" stroke="#56c667"/><path d="M48 232h16" stroke="#63cb5f"/><path d="M64 232h16" stroke="#77d153"/><path d="M80 232h16" stroke="#84d44b"/><path d="M96 232h16" stroke="#84d44b"/><path d="M112 232h16" stroke="#7ad151"/><path d="M128 232h16" stroke="#6ccd5a"/><path d="M144 232h16" stroke="#5cc863"/><path d="M160 232h16" stroke="#46c06f"/><path d="M176 232h16" stroke="#31b57b"/><path d="M192 232h16" stroke="#31b57b"/><path d="M208 232h16" stroke="#42be71"/><path d="M224 232h16" stroke="#42be71"/><path d="M240 232h16" stroke="#3bbb75"/><path d="M256 232h16" stroke="#32b67a"/><path d="M272 232h16" stroke="#2ab07f"/><path d="M288 232h16" stroke="#25ac82"/><path d="M304 232h16" stroke="#23a983"/><path d="M320 232h16" stroke="#22a785"/><path d="M336 232h16" stroke="#22a785"/><path d="M352 232h16" stroke="#22a884"/><path d="M368 232h16" stroke="#22a884"/><path d="M384 232h16" stroke="#23a983"/><path d="M400 232h16" stroke="#24aa83"/><path d="M416 232h16" stroke="#24aa83"/><path d="M-16 248h16" stroke="#5ec962"/><path d="M0 248h16" stroke="#63cb5f"/><path d="M16 248h16" stroke="#69cd5b"/><path d="M32 248h16" stroke="#73d056"/><path d="M48 248h16" stroke="#7cd250"/><path d="M64 248h16" stroke="#81d34d"/><path d="M80 248h16" stroke="#7fd34e"/><path d="M96 248h16" stroke="#75d054"/><path d="M112 248h16" stroke="#67cc5c"/><path d="M128 248h16" stroke="#5ac864"/><path d="M144 248h16" stroke="#4cc26c"/><path d="M160 248h16" stroke="#3bbb75"/><path d="M176 248h16" stroke="#31b57b"/><path d="M192 248h16" stroke="#34b679"/><path d="M208 248h16" stroke="#3dbc74"/><path d="M224 248h16" stroke="#3fbc73"/><path d="M240 248h16" stroke="#38b977"/><path d="M256 248h16" stroke="#31b57b"/><path d="M272 248h16" stroke="#2ab07f"/><path d="M288 248h16" stroke="#26ad81"/><path d="M304 248h16" stroke="#24aa83"/><path d="M320 248h16" stroke="#23a983"/><path d="M336 248h16" stroke="#22a884"/><path d="M352 248h16" stroke="#22a884"/><path d="M368 248h16" stroke="#23a983"/><path d="M384 248h16" stroke="#23a983"/><path d="M400 248h16" stroke="#24aa83"/><path d="M416 248h16" stroke="#24aa83"/><path d="M-16 264h16" stroke="#75d054"/><path d="M0 264h16" stroke="#7cd250"/><path d="M16 264h16" stroke="#84d44b"/><path d="M32 264h16" stroke="#8bd646"/><path d="M48 264h16" stroke="#89d548"/><path d="M64 264h16" stroke="#75d054"/><path d="M80 264h16" stroke="#67cc5c"/><path d="M96 264h16" stroke="#5ec962"/><path d="M112 264h16" stroke="#54c568"/><path d="M128 264h16" stroke="#4ac16d"/><path d="M144 264h16" stroke="#3fbc73"/><path d="M160 264h16" stroke="#37b878"/><path d="M176 264h16" stroke="#32b67a"/><path d="M192 264h16" stroke="#34b679"/><path d="M208 264h16" stroke="#38b977"/><path d="M224 264h16" stroke="#38b977"/><path d="M240 264h16" stroke="#35b779"/><path d="M256 264h16" stroke="#31b57b"/><path d="M272 264h16" stroke="#2cb17e"/><path d="M288 264h16" stroke="#27ad81"/><path d="M304 264h16" stroke="#25ac82"/><path d="M320 264h16" stroke="#24aa83"/><path d="M336 264h16" stroke="#23a983"/><path d="M352 264h16" stroke="#23a983"/><path d="M368 264h16" stroke="#23a983"/><path d="M384 264h16" stroke="#23a983"/><path d="M400 264h16" stroke="#24aa83"/><path d="M416 264h16" stroke="#24aa83"/><path d="M-16 280h16" stroke="#8bd646"/><path d="M0 280h16" stroke="#90d743"/><path d="M16 280h16" stroke="#95d840"/><path d="M32 280h16" stroke="#93d741"/><path d="M48 280h16" stroke="#7fd34e"/><path d="M64 280h16" stroke="#5ec962"/><path d="M80 280h16" stroke="#4ec36b"/><path d="M96 280h16" stroke="#4ac16d"/><path d="M112 280h16" stroke="#44bf70"/><path d="M128 280h16" stroke="#3fbc73"/><path d="M144 280h16" stroke="#38b977"/><path d="M160 280h16" stroke="#34b679"/><path d="M176 280h16" stroke="#31b57b"/><path d="M192 280h16" stroke="#32b67a"/><path d="M208 280h16" stroke="#34b679"/><path d="M224 280h16" stroke="#34b679"/><path d="M240 280h16" stroke="#32b67a"/><path d="M256 280h16" stroke="#2fb47c"/><path d="M272 280h16" stroke="#2cb17e"/><path d="M288 280h16" stroke="#28ae80"/><path d="M304 280h16" stroke="#26ad81"/><path d="M320 280h16" stroke="#25ab82"/><path d="M336 280h16" stroke="#24aa83"/><path d="M352 280h16" stroke="#24aa83"/><path d="M368 280h16" stroke="#24aa83"/><path d="M384 280h16" stroke="#24aa83"/><path d="M400 280h16" stroke="#24aa83"/><path d="M416 280h16" stroke="#24aa83"/><path d="M-16 296h16" stroke="#9bd93c"/><path d="M0 296h16" stroke="#9dd93b"/><path d="M16 296h16" stroke="#9dd93b"/><path d="M32 296h16" stroke="#90d743"/><path d="M48 296h16" stroke="#7ad151"/><path d="M64 296h16" stroke="#58c765"/><path d="M80 296h16" stroke="#46c06f"/><path d="M96 296h16" stroke="#40bd72"/><path d="M112 296h16" stroke="#3bbb75"/><path d="M128 296h16" stroke="#38b977"/><path d="M144 296h16" stroke="#35b779"/><path d="M160 296h16" stroke="#31b57b"/><path d="M176 296h16" stroke="#2fb47c"/><path d="M192 296h16" stroke="#31b57b"/><path d="M208 296h16" stroke="#31b57b"/><path d="M224 296h16" stroke="#31b57b"/><path d="M240 296h16" stroke="#2fb47c"/><path d="M256 296h16" stroke="#2db27d"/><path d="M272 296h16" stroke="#2ab07f"/><path d="M288 296h16" stroke="#28ae80"/><path d="M304 296h16" stroke="#26ad81"/><path d="M320 296h16" stroke="#25ac82"/><path d="M336 296h16" stroke="#25ab82"/><path d="M352 296h16" stroke="#25ab82"/><path d="M368 296h16" stroke="#24aa83"/><path d="M384 296h16" stroke="#24aa83"/><path d="M400 296h16" stroke="#24aa83"/><path d="M416 296h16" stroke="#25ab82"/><path d="M-16 312h16" stroke="#a2da37"/><path d="M0 312h16" stroke="#a2da37"/><path d="M16 312h16" stroke="#9dd93b"/><path d="M32 312h16" stroke="#90d743"/><path d="M48 312h16" stroke="#7cd250"/><path d="M64 312h16" stroke="#63cb5f"/><path d="M80 312h16" stroke="#4cc26c"/><path d="M96 312h16" stroke="#40bd72"/><path d="M112 312h16" stroke="#3bbb75"/><path d="M128 312h16" stroke="#37b878"/><path d="M144 312h16" stroke="#34b679"/><path d="M160 312h16" stroke="#31b57b"/><path d="M176 312h16" stroke="#2fb47c"/><path d="M192 312h16" stroke="#2fb47c"/><path d="M208 312h16" stroke="#2fb47c"/><path d="M224 312h16" stroke="#2fb47c"/><path d="M240 312h16" stroke="#2eb37c"/><path d="M256 312h16" stroke="#2db27d"/><path d="M272 312h16" stroke="#2ab07f"/><path d="M288 312h16" stroke="#29af7f"/><path d="M304 312h16" stroke="#27ad81"/><path d="M320 312h16" stroke="#26ad81"/><path d="M336 312h16" stroke="#25ac82"/><path d="M352 312h16" stroke="#25ab82"/><path d="M368 312h16" stroke="#25ab82"/><path d="M384 312h16" stroke="#25ab82"/><path d="M400 312h16" stroke="#25ab82"/><path d="M416 312h16" stroke="#25ab82"/><path d="M-16 328h16" stroke="#a8db34"/><path d="M0 328h16" stroke="#a5db36"/><path d="M16 328h16" stroke="#a0da39"/><path d="M32 328h16" stroke="#90d743"/><path d="M48 328h16" stroke="#7fd34e"/><path d="M64 328h16" stroke="#67cc5c"/><path d="M80 328h16" stroke="#54c568"/><path d="M96 328h16" stroke="#46c06f"/><path d="M112 328h16" stroke="#3dbc74"/><path d="M128 328h16" stroke="#38b977"/><path d="M144 328h16" stroke="#34b679"/><path d="M160 328h16" stroke="#32b67a"/><path d="M176 328h16" stroke="#31b57b"/><path d="M192 328h16" stroke="#2fb47c"/><path d="M208 328h16" stroke="#2fb47c"/><path d="M224 328h16" stroke="#2eb37c"/><path d="M240 328h16" stroke="#2db27d"/><path d="M256 328h16" stroke="#2cb17e"/><path d="M272 328h16" stroke="#2ab07f"/><path d="M288 328h16" stroke="#29af7f"/><path d="M304 328h16" stroke="#28ae80"/><path d="M320 328h16" stroke="#27ad81"/><path d="M336 328h16" stroke="#26ad81"/><path d="M352 328h16" stroke="#25ac82"/><path d="M368 328h16" stroke="#25ac82"/><path d="M384 328h16" stroke="#25ac82"/><path d="M400 328h16" stroke="#25ac82"/><path d="M416 328h16" stroke="#25ac82"/><path d="M-16 344h16" stroke="#addc30"/><path d="M0 344h16" stroke="#a8db34"/><path d="M16 344h16" stroke="#a0da39"/><path d="M32 344h16" stroke="#90d743"/><path d="M48 344h16" stroke="#7fd34e"/><path d="M64 344h16" stroke="#6ccd5a"/><path d="M80 344h16" stroke="#5ac864"/><path d="M96 344h16" stroke="#4cc26c"/><path d="M112 344h16" stroke="#42be71"/><path d="M128 344h16" stroke="#3bbb75"/><path d="M144 344h16" stroke="#37b878"/><path d="M160 344h16" stroke="#34b679"/><path d="M176 344h16" stroke="#32b67a"/><path d="M192 344h16" stroke="#31b57b"/><path d="M208 344h16" stroke="#2fb47c"/><path d="M224 344h16" stroke="#2eb37c"/><path d="M240 344h16" stroke="#2eb37c"/><path d="M256 344h16" stroke="#2db27d"/><path d="M272 344h16" stroke="#2cb17e"/><path d="M288 344h16" stroke="#29af7f"/><path d="M304 344h16" stroke="#28ae80"/><path d="M320 344h16" stroke="#28ae80"/><path d="M336 344h16" stroke="#27ad81"/><path d="M352 344h16" stroke="#26ad81"/><path d="M368 344h16" stroke="#26ad81"/><path d="M384 344h16" stroke="#26ad81"/><path d="M400 344h16" stroke="#25ac82"/><path d="M416 344h16" stroke="#25ac82"/></g></g><use href="#land"/><use href="#owf"/><use href="#sbar"/></g><rect width="405.5" height="322.8" fill="none" stroke="#505050" stroke-width="1.3"/></g><g transform="translate(540.5,44.0)"><g transform="scale(1.00666,1.00465)"><g clip-path="url(#cpA)"><g clip-path="url(#csa)" shape-rendering="crispEdges"><use href="#sa" fill="#4280c1"/><path d="M246.9,0.0 L246.9,29.5 L253.0,29.5 L253.0,35.6 L259.2,35.6 L259.2,48.0 L265.3,48.0 L265.3,54.7 L271.5,54.7 L271.5,67.1 L277.7,67.1 L277.7,86.3 L283.8,86.3 L283.8,111.6 L290.7,111.6 L290.7,136.3 L296.7,136.3 L296.7,167.7 L303.0,167.7 L303.0,179.4 L309.0,179.4 L309.0,258.8 L447.0,258.8 L447.0,0.0Z" fill="#666666"/><path d="M240.7,29.5 L246.9,29.5 L246.9,29.5 L253.0,29.5 L253.0,35.6 L259.2,35.6 L259.2,48.0 L265.3,48.0 L265.3,54.7 L271.5,54.7 L271.5,67.1 L277.7,67.1 L277.7,86.3 L283.8,86.3 L283.8,111.6 L290.7,111.6 L290.7,136.3 L259.2,136.3 L259.2,123.9 L253.0,123.9 L253.0,117.8 L246.9,117.8 L246.9,111.6 L234.5,111.6 L234.5,48.6 L240.7,48.6Z" fill="#ee6a50"/><path d="M290.7,143.1 L296.7,143.1 L296.7,149.3 L290.7,149.3Z" fill="#ee6a50"/><path d="M296.3,54.5 L303.5,54.5 L303.5,60.9 L296.3,60.9Z" fill="#ee6a50"/><path d="M303.5,60.9 L309.9,60.9 L309.9,67.3 L303.5,67.3Z" fill="#4280c1"/><path d="M309.9,67.3 L315.9,67.3 L315.9,73.8 L309.9,73.8Z" fill="#ee6a50"/><path d="M315.9,73.8 L322.4,73.8 L322.4,80.1 L315.9,80.1Z" fill="#4280c1"/><path d="M184.9,137.0 L190.8,137.0 L190.8,130.1 L203.1,130.1 L203.1,124.6 L215.5,124.6 L215.5,137.0 L220.9,137.0 L220.9,155.6 L215.5,155.6 L215.5,179.4 L203.1,179.4 L203.1,186.2 L190.8,186.2 L190.8,161.6 L196.7,161.6 L196.7,142.4 L184.9,142.4Z" fill="#0d4e8c"/><path d="M0.0,187.1 L0.0,0.0 L210.0,0.0 L210.0,49.3 L203.1,49.3 L203.1,74.0 L196.3,74.0 L196.3,67.8 L184.0,67.8 L184.0,74.0 L171.1,74.0 L171.1,80.8 L164.9,80.8 L164.9,86.3 L158.7,86.3 L158.7,92.6 L127.6,92.6 L127.6,117.8 L140.2,117.8 L140.2,143.0 L127.6,143.0 L127.6,149.6 L133.6,149.6 L133.6,155.7 L140.2,155.7 L140.2,161.7 L127.6,161.7 L127.6,174.4 L121.5,174.4 L121.5,181.0 L108.9,181.0 L108.9,186.6 L77.2,186.6 L77.2,187.1Z" fill="#ee6a50"/><path d="M133.6,161.7 L140.2,161.7 L140.2,168.3 L133.6,168.3Z" fill="#ee6a50"/><path d="M108.9,73.9 L114.9,73.9 L114.9,79.9 L108.9,79.9Z" fill="#4280c1"/><path d="M108.9,86.5 L114.9,86.5 L114.9,92.6 L108.9,92.6Z" fill="#4280c1"/><path d="M133.6,86.5 L140.2,86.5 L140.2,92.6 L133.6,92.6Z" fill="#4280c1"/><path d="M95.9,98.6 L102.4,98.6 L102.4,105.2 L95.9,105.2Z" fill="#4280c1"/><path d="M114.9,98.6 L121.5,98.6 L121.5,111.3 L114.9,111.3Z" fill="#4280c1"/><path d="M95.9,111.3 L102.4,111.3 L102.4,117.8 L95.9,117.8Z" fill="#4280c1"/><path d="M114.9,117.8 L127.6,117.8 L127.6,130.4 L114.9,130.4Z" fill="#4280c1"/><path d="M77.2,118.3 L83.7,118.3 L83.7,123.9 L77.2,123.9Z" fill="#4280c1"/><path d="M71.1,124.3 L77.2,124.3 L77.2,137.0 L71.1,137.0Z" fill="#4280c1"/><path d="M58.5,137.0 L65.1,137.0 L65.1,143.0 L58.5,143.0Z" fill="#4280c1"/><path d="M114.9,149.6 L121.5,149.6 L121.5,155.7 L114.9,155.7Z" fill="#4280c1"/><path d="M108.9,155.7 L114.9,155.7 L114.9,161.7 L108.9,161.7Z" fill="#4280c1"/><path d="M102.4,161.7 L108.9,161.7 L108.9,168.3 L102.4,168.3Z" fill="#4280c1"/><path d="M52.5,161.7 L71.1,161.7 L71.1,168.3 L52.5,168.3Z" fill="#4280c1"/><path d="M89.8,168.3 L102.4,168.3 L102.4,174.4 L89.8,174.4Z" fill="#4280c1"/><path d="M39.7,168.3 L58.5,168.3 L58.5,174.4 L39.7,174.4Z" fill="#4280c1"/><path d="M39.7,174.4 L71.1,174.4 L71.1,181.0 L39.7,181.0Z" fill="#4280c1"/><path d="M77.2,174.4 L83.7,174.4 L83.7,181.0 L77.2,181.0Z" fill="#4280c1"/><path d="M39.7,181.0 L77.2,181.0 L77.2,189.1 L39.7,189.1Z" fill="#4280c1"/><path d="M89.8,181.0 L102.4,181.0 L102.4,189.1 L89.8,189.1Z" fill="#4280c1"/><path d="M146.2,48.6 L152.8,48.6 L152.8,60.7 L146.2,60.7Z" fill="#4280c1"/><path d="M184.0,60.9 L196.3,60.9 L196.3,67.1 L184.0,67.1Z" fill="#4280c1"/><path d="M196.3,42.5 L203.1,42.5 L203.1,48.6 L196.3,48.6Z" fill="#4280c1"/><path d="M14.8,267.9 L77.2,267.9 L77.2,280.5 L109.3,280.5 L109.3,328.5 L0.0,328.5 L0.0,267.9Z" fill="#ee6a50"/><path d="M46.1,261.8 L52.2,261.8 L52.2,267.9 L46.1,267.9Z" fill="#ee6a50"/><path d="M46.1,267.9 L52.2,267.9 L52.2,274.1 L46.1,274.1Z" fill="#4280c1"/><path d="M58.5,267.9 L77.2,267.9 L77.2,274.1 L58.5,274.1Z" fill="#4280c1"/><path d="M52.2,274.1 L58.5,274.1 L58.5,280.5 L52.2,280.5Z" fill="#4280c1"/><path d="M46.1,280.5 L58.5,280.5 L58.5,293.2 L46.1,293.2Z" fill="#4280c1"/><path d="M64.8,280.5 L71.1,280.5 L71.1,293.2 L64.8,293.2Z" fill="#4280c1"/><path d="M52.2,305.6 L58.5,305.6 L58.5,312.2 L52.2,312.2Z" fill="#4280c1"/><path d="M60.0,105.1 L60.0,55.0 L108.3,55.0 L108.3,98.5 L95.7,98.5 L95.7,105.1Z" fill="#666666"/><path d="M0.0,223.1 L26.8,223.1 L26.8,236.8 L21.4,236.8 L21.4,261.5 L0.0,261.5Z" fill="#666666"/></g><use href="#bgray"/><use href="#land"/><use href="#owf"/><use href="#sbar"/></g></g><rect width="408.2" height="324.3" fill="none" stroke="#505050" stroke-width="1.3"/></g><g transform="translate(540.5,382.1)"><g transform="scale(1.00666,1.00465)"><g clip-path="url(#cpA)"><g clip-path="url(#csa)" shape-rendering="crispEdges"><use href="#sa" fill="#4280c1"/><path d="M246.9,-0.3 L246.9,29.3 L259.2,29.3 L259.2,42.2 L266.0,42.2 L266.0,54.5 L278.3,54.5 L278.3,84.6 L285.2,84.6 L285.2,109.3 L290.6,109.3 L290.6,136.7 L297.5,136.7 L297.5,155.8 L302.9,155.8 L302.9,188.7 L309.8,188.7 L309.8,246.2 L436.9,246.2 L436.9,-0.3Z" fill="#666666"/><path d="M203.2,105.5 L215.1,105.5 L215.1,111.7 L221.9,111.7 L221.9,130.3 L234.0,130.3 L234.0,142.8 L246.4,142.8 L246.4,161.2 L240.5,161.2 L240.5,173.9 L234.0,173.9 L234.0,180.4 L246.4,180.4 L246.4,186.7 L240.5,186.7 L240.5,192.9 L234.3,192.9 L234.3,199.1 L240.5,199.1 L240.5,205.6 L228.1,205.6 L228.1,192.9 L221.9,192.9 L221.9,205.6 L215.1,205.6 L215.1,211.6 L203.2,211.6 L203.2,205.6 L196.4,205.6 L196.4,199.1 L190.5,199.1 L190.5,192.9 L184.3,192.9 L184.3,162.4 L190.5,162.4 L190.5,155.2 L184.3,155.2 L184.3,130.3 L190.5,130.3 L190.5,111.7 L203.2,111.7Z" fill="#0d4e8c"/><path d="M177.8,192.9 L184.3,192.9 L184.3,199.1 L177.8,199.1Z" fill="#0d4e8c"/><path d="M184.3,199.1 L190.5,199.1 L190.5,205.6 L184.3,205.6Z" fill="#0d4e8c"/><path d="M240.5,205.6 L246.4,205.6 L246.4,211.6 L240.5,211.6Z" fill="#0d4e8c"/><path d="M240.8,218.1 L246.4,218.1 L246.4,224.3 L240.8,224.3Z" fill="#0d4e8c"/><path d="M228.1,142.8 L234.0,142.8 L234.0,149.0 L228.1,149.0Z" fill="#4280c1"/><path d="M228.1,180.4 L234.0,180.4 L234.0,186.7 L228.1,186.7Z" fill="#4280c1"/><path d="M203.2,186.7 L209.1,186.7 L209.1,199.1 L203.2,199.1Z" fill="#4280c1"/><path d="M-0.5,261.3 L21.4,261.3 L21.4,249.0 L33.7,249.0 L33.7,255.8 L52.8,255.8 L52.8,261.3 L70.6,261.3 L70.6,268.1 L77.4,268.1 L77.4,262.7 L84.2,262.7 L84.2,268.1 L89.7,268.1 L89.7,275.0 L96.5,275.0 L114.3,275.0 L114.3,328.4 L-0.5,328.4Z" fill="#ee6a50"/><path d="M266.0,54.5 L271.5,54.5 L271.5,60.0 L266.0,60.0Z" fill="#ee6a50"/><path d="M296.1,54.5 L302.9,54.5 L302.9,60.0 L296.1,60.0Z" fill="#ee6a50"/><path d="M60.0,105.1 L60.0,55.0 L108.3,55.0 L108.3,98.5 L95.7,98.5 L95.7,105.1Z" fill="#666666"/><path d="M0.0,223.1 L26.8,223.1 L26.8,236.8 L21.4,236.8 L21.4,261.5 L0.0,261.5Z" fill="#666666"/></g><use href="#bgray"/><use href="#land"/><use href="#owf"/><use href="#sbar"/></g></g><rect width="408.2" height="324.3" fill="none" stroke="#505050" stroke-width="1.3"/></g><g transform="translate(540.5,720.2)"><g transform="scale(1.00666,1.00465)"><g clip-path="url(#cpA)"><g clip-path="url(#csa)" shape-rendering="crispEdges"><use href="#sa" fill="#4280c1"/><path d="M246.9,-0.3 L246.9,29.3 L259.2,29.3 L259.2,42.2 L266.0,42.2 L266.0,54.5 L278.3,54.5 L278.3,84.6 L285.2,84.6 L285.2,109.3 L290.6,109.3 L290.6,136.7 L297.5,136.7 L297.5,155.8 L302.9,155.8 L302.9,188.7 L309.8,188.7 L309.8,246.2 L436.9,246.2 L436.9,-0.3Z" fill="#666666"/><path d="M114.7,61.3 L127.2,61.3 L127.2,67.3 L114.7,67.3Z" fill="#ee6a50"/><path d="M127.7,67.3 L142.7,67.3 L142.7,73.8 L127.7,73.8Z" fill="#ee6a50"/><path d="M146.7,67.3 L171.2,67.3 L171.2,73.8 L146.7,73.8Z" fill="#ee6a50"/><path d="M158.7,73.8 L165.2,73.8 L165.2,79.8 L158.7,79.8Z" fill="#ee6a50"/><path d="M146.7,55.3 L152.7,55.3 L152.7,61.8 L146.7,61.8Z" fill="#ee6a50"/><path d="M152.7,48.8 L171.2,48.8 L171.2,55.3 L152.7,55.3Z" fill="#ee6a50"/><path d="M171.2,42.8 L190.2,42.8 L190.2,48.8 L171.2,48.8Z" fill="#ee6a50"/><path d="M171.2,48.8 L177.7,48.8 L177.7,60.8 L171.2,60.8Z" fill="#ee6a50"/><path d="M183.7,48.8 L190.2,48.8 L190.2,55.3 L183.7,55.3Z" fill="#ee6a50"/><path d="M177.7,55.3 L183.7,55.3 L183.7,60.8 L177.7,60.8Z" fill="#ee6a50"/><path d="M177.7,36.2 L190.2,36.2 L190.2,42.8 L177.7,42.8Z" fill="#ee6a50"/><path d="M71.2,104.9 L83.2,104.9 L83.2,111.4 L71.2,111.4Z" fill="#ee6a50"/><path d="M71.2,111.4 L102.2,111.4 L102.2,117.9 L71.2,117.9Z" fill="#ee6a50"/><path d="M58.7,117.9 L70.7,117.9 L70.7,123.9 L58.7,123.9Z" fill="#ee6a50"/><path d="M83.2,117.9 L102.2,117.9 L102.2,123.9 L83.2,123.9Z" fill="#ee6a50"/><path d="M71.2,123.9 L77.2,123.9 L77.2,129.9 L71.2,129.9Z" fill="#ee6a50"/><path d="M96.2,123.9 L108.2,123.9 L108.2,136.5 L96.2,136.5Z" fill="#ee6a50"/><path d="M65.2,130.9 L71.2,130.9 L71.2,137.0 L65.2,137.0Z" fill="#ee6a50"/><path d="M58.7,137.0 L77.2,137.0 L77.2,143.0 L58.7,143.0Z" fill="#ee6a50"/><path d="M77.7,143.0 L90.2,143.0 L90.2,149.5 L77.7,149.5Z" fill="#ee6a50"/><path d="M103.2,143.0 L108.2,143.0 L108.2,149.5 L103.2,149.5Z" fill="#ee6a50"/><path d="M83.7,149.5 L114.7,149.5 L114.7,155.5 L83.7,155.5Z" fill="#ee6a50"/><path d="M90.2,155.5 L96.2,155.5 L96.2,161.5 L90.2,161.5Z" fill="#ee6a50"/><path d="M114.7,137.0 L121.2,137.0 L121.2,149.0 L114.7,149.0Z" fill="#ee6a50"/><path d="M58.7,155.5 L64.7,155.5 L64.7,161.5 L58.7,161.5Z" fill="#ee6a50"/><path d="M64.7,161.5 L70.7,161.5 L70.7,167.5 L64.7,167.5Z" fill="#ee6a50"/><path d="M83.7,168.0 L89.7,168.0 L89.7,174.0 L83.7,174.0Z" fill="#ee6a50"/><path d="M114.7,161.5 L121.2,161.5 L121.2,167.5 L114.7,167.5Z" fill="#ee6a50"/><path d="M246.9,35.4 L252.3,35.4 L252.3,42.3 L246.9,42.3Z" fill="#ee6a50"/><path d="M253.7,54.5 L271.5,54.5 L271.5,61.4 L253.7,61.4Z" fill="#ee6a50"/><path d="M266.0,61.4 L278.3,61.4 L278.3,84.7 L266.0,84.7Z" fill="#ee6a50"/><path d="M259.2,79.2 L266.0,79.2 L266.0,84.7 L259.2,84.7Z" fill="#ee6a50"/><path d="M278.3,93.0 L283.8,93.0 L283.8,98.4 L278.3,98.4Z" fill="#ee6a50"/><path d="M272.9,99.7 L278.3,99.7 L278.3,105.2 L272.9,105.2Z" fill="#ee6a50"/><path d="M60.0,105.1 L60.0,55.0 L108.3,55.0 L108.3,98.5 L95.7,98.5 L95.7,105.1Z" fill="#666666"/><path d="M0.0,223.1 L26.8,223.1 L26.8,236.8 L21.4,236.8 L21.4,261.5 L0.0,261.5Z" fill="#666666"/></g><use href="#bgray"/><use href="#land"/><use href="#owf"/><use href="#sbar"/></g></g><rect width="408.2" height="324.3" fill="none" stroke="#505050" stroke-width="1.3"/></g><g transform="translate(540.5,1058.3)"><g transform="scale(1.00666,1.00465)"><g clip-path="url(#cpA)"><g clip-path="url(#csa)" shape-rendering="crispEdges"><use href="#sa" fill="#4280c1"/><path d="M246.9,-0.3 L246.9,29.3 L259.2,29.3 L259.2,42.2 L266.0,42.2 L266.0,54.5 L278.3,54.5 L278.3,84.6 L285.2,84.6 L285.2,109.3 L290.6,109.3 L290.6,136.7 L297.5,136.7 L297.5,155.8 L302.9,155.8 L302.9,188.7 L309.8,188.7 L309.8,246.2 L436.9,246.2 L436.9,-0.3Z" fill="#666666"/><path d="M210.0,105.2 L215.5,105.2 L215.5,124.3 L234.6,124.3 L234.6,136.7 L246.9,136.7 L246.9,149.0 L252.4,149.0 L252.4,199.7 L246.9,199.7 L246.9,205.1 L240.1,205.1 L240.1,212.0 L215.5,212.0 L207.3,216.1 L196.3,218.8 L196.3,222.9 L185.4,222.9 L185.4,218.8 L178.6,218.8 L178.6,224.3 L171.7,224.3 L171.7,217.5 L166.3,217.5 L166.3,205.1 L171.7,205.1 L171.7,192.8 L178.6,192.8 L178.6,168.2 L185.4,168.2 L185.4,131.2 L190.9,131.2 L190.9,124.3 L203.2,124.3 L203.2,112.0 L210.0,112.0Z" fill="#0d4e8c"/><path d="M21.4,243.5 L33.7,243.5 L33.7,249.0 L46.0,249.0 L46.0,255.8 L65.1,255.8 L65.1,262.7 L89.7,262.7 L89.7,268.1 L96.5,268.1 L114.3,268.1 L114.3,328.4 L-0.5,328.4 L-0.5,261.3 L21.4,261.3Z" fill="#ee6a50"/><path d="M-0.5,268.1 L26.8,268.1 L26.8,275.0 L39.1,275.0 L39.1,328.4 L-0.5,328.4Z" fill="#881a1e"/><path d="M60.0,105.1 L60.0,55.0 L108.3,55.0 L108.3,98.5 L95.7,98.5 L95.7,105.1Z" fill="#666666"/><path d="M0.0,223.1 L26.8,223.1 L26.8,236.8 L21.4,236.8 L21.4,261.5 L0.0,261.5Z" fill="#666666"/></g><use href="#bgray"/><use href="#land"/><use href="#owf"/><use href="#sbar"/></g></g><rect width="408.2" height="324.3" fill="none" stroke="#505050" stroke-width="1.3"/></g><g transform="translate(540.5,1396.4)"><g transform="scale(1.00666,1.00465)"><g clip-path="url(#cpA)"><g clip-path="url(#csa)" shape-rendering="crispEdges"><use href="#sa" fill="#4280c1"/><path d="M-10.0,-10.0 L420.0,-10.0 L420.0,340.0 L-10.0,340.0Z" fill="#ee6a50"/><path d="M246.9,-0.3 L246.9,29.3 L259.2,29.3 L259.2,42.2 L266.0,42.2 L266.0,54.5 L278.3,54.5 L278.3,84.6 L285.2,84.6 L285.2,109.3 L290.6,109.3 L290.6,136.7 L297.5,136.7 L297.5,155.8 L302.9,155.8 L302.9,188.7 L309.8,188.7 L309.8,246.2 L436.9,246.2 L436.9,-0.3Z" fill="#666666"/><path d="M77.4,105.2 L84.2,105.2 L84.2,112.0 L77.4,112.0Z" fill="#4280c1"/><path d="M77.4,124.3 L84.2,124.3 L84.2,142.1 L77.4,142.1Z" fill="#4280c1"/><path d="M84.2,142.1 L89.7,142.1 L89.7,155.8 L84.2,155.8Z" fill="#4280c1"/><path d="M96.5,149.0 L102.0,149.0 L102.0,155.8 L96.5,155.8Z" fill="#4280c1"/><path d="M97.9,131.2 L102.0,131.2 L102.0,139.4 L97.9,139.4Z" fill="#4280c1"/><path d="M272.9,68.2 L278.3,68.2 L278.3,80.5 L272.9,80.5Z" fill="#4280c1"/><path d="M278.3,87.4 L283.8,87.4 L283.8,98.3 L278.3,98.3Z" fill="#4280c1"/><path d="M309.8,68.2 L315.2,68.2 L315.2,73.7 L309.8,73.7Z" fill="#4280c1"/><path d="M60.0,105.1 L60.0,55.0 L108.3,55.0 L108.3,98.5 L95.7,98.5 L95.7,105.1Z" fill="#666666"/><path d="M0.0,223.1 L26.8,223.1 L26.8,236.8 L21.4,236.8 L21.4,261.5 L0.0,261.5Z" fill="#666666"/></g><use href="#bgray"/><use href="#land"/><use href="#owf"/><use href="#sbar"/></g></g><rect width="408.2" height="324.3" fill="none" stroke="#505050" stroke-width="1.3"/></g><g transform="translate(540.5,1734.5)"><g transform="scale(1.00666,1.00465)"><g clip-path="url(#cpA)"><g clip-path="url(#csa)" shape-rendering="crispEdges"><use href="#sa" fill="#4280c1"/><path d="M246.9,-0.3 L246.9,29.3 L259.2,29.3 L259.2,42.2 L266.0,42.2 L266.0,54.5 L278.3,54.5 L278.3,84.6 L285.2,84.6 L285.2,109.3 L290.6,109.3 L290.6,136.7 L297.5,136.7 L297.5,155.8 L302.9,155.8 L302.9,188.7 L309.8,188.7 L309.8,246.2 L436.9,246.2 L436.9,-0.3Z" fill="#666666"/><path d="M266.0,55.9 L271.5,55.9 L271.5,80.5 L266.0,80.5Z" fill="#ee6a50"/><path d="M102.0,143.5 L108.8,143.5 L108.8,168.2 L102.0,168.2Z" fill="#ee6a50"/><path d="M96.5,131.2 L102.0,131.2 L102.0,136.7 L96.5,136.7Z" fill="#ee6a50"/><path d="M14.5,262.7 L21.4,262.7 L21.4,268.1 L14.5,268.1Z" fill="#ee6a50"/><path d="M77.4,281.8 L82.9,281.8 L82.9,287.3 L77.4,287.3Z" fill="#ee6a50"/><path d="M70.6,301.0 L81.5,301.0 L81.5,312.0 L70.6,312.0Z" fill="#ee6a50"/><path d="M304.3,62.7 L309.8,62.7 L309.8,68.2 L304.3,68.2Z" fill="#ee6a50"/><path d="M203.2,143.5 L220.9,143.5 L220.9,149.0 L203.2,149.0Z" fill="#0d4e8c"/><path d="M208.6,149.0 L215.5,149.0 L215.5,155.8 L208.6,155.8Z" fill="#0d4e8c"/><path d="M203.2,155.8 L220.9,155.8 L220.9,161.3 L203.2,161.3Z" fill="#0d4e8c"/><path d="M60.0,105.1 L60.0,55.0 L108.3,55.0 L108.3,98.5 L95.7,98.5 L95.7,105.1Z" fill="#666666"/><path d="M0.0,223.1 L26.8,223.1 L26.8,236.8 L21.4,236.8 L21.4,261.5 L0.0,261.5Z" fill="#666666"/></g><use href="#bgray"/><use href="#land"/><use href="#owf"/><use href="#sbar"/></g></g><rect width="408.2" height="324.3" fill="none" stroke="#505050" stroke-width="1.3"/></g><rect x="1056.9" y="42.2" width="432.3" height="330.5" fill="#fff"/><g stroke="#ebebeb" stroke-width="1.8"><path d="M1056.9 47.1H1489.2"/><path d="M1056.9 139.0H1489.2"/><path d="M1056.9 230.9H1489.2"/><path d="M1056.9 322.8H1489.2"/><path d="M1075.6 42.2V372.7"/><path d="M1100.8 42.2V372.7"/><path d="M1123.6 42.2V372.7"/><path d="M1148.8 42.2V372.7"/><path d="M1173.2 42.2V372.7"/><path d="M1198.5 42.2V372.7"/><path d="M1222.9 42.2V372.7"/><path d="M1248.1 42.2V372.7"/><path d="M1273.3 42.2V372.7"/><path d="M1297.7 42.2V372.7"/><path d="M1322.9 42.2V372.7"/><path d="M1347.3 42.2V372.7"/><path d="M1372.6 42.2V372.7"/><path d="M1397.8 42.2V372.7"/><path d="M1420.6 42.2V372.7"/><path d="M1445.8 42.2V372.7"/><path d="M1470.2 42.2V372.7"/></g><path d="M1075.6,209.2 L1100.8,211.8 L1123.6,214.1 L1148.8,227.3 L1173.2,240.4 L1198.5,209.2 L1222.9,211.8 L1248.1,210.2 L1273.3,206.9 L1297.7,211.8 L1322.9,220.7 L1347.3,245.4 L1372.6,214.1 L1397.8,214.1 L1420.6,215.8 L1445.8,225.6 L1470.2,240.4 L1470.2,280.9 L1445.8,268.4 L1420.6,268.4 L1397.8,293.7 L1372.6,295.3 L1347.3,294.7 L1322.9,301.3 L1297.7,301.3 L1273.3,292.1 L1248.1,290.7 L1222.9,293.0 L1198.5,272.3 L1173.2,278.9 L1148.8,268.4 L1123.6,264.4 L1100.8,292.1 L1075.6,288.8Z" fill="#e4e4e4"/><path d="M1056.3 230.9H1489" stroke="#f00" stroke-width="2.4" stroke-dasharray="2.4 8.2"/><path d="M1075.6,246.0 L1100.8,246.0 L1123.6,234.8 L1148.8,242.1 L1173.2,258.5 L1198.5,230.9 L1222.9,244.4 L1248.1,251.3 L1273.3,246.0 L1297.7,246.0 L1322.9,247.7 L1347.3,270.0 L1372.6,244.4 L1397.8,246.0 L1420.6,234.8 L1445.8,242.1 L1470.2,262.5" fill="none" stroke="#000" stroke-width="2.6" stroke-linejoin="round"/><g fill="#000"><circle cx="1075.6" cy="246.0" r="4.3"/><circle cx="1100.8" cy="246.0" r="4.3"/><circle cx="1123.6" cy="234.8" r="4.3"/><circle cx="1148.8" cy="242.1" r="4.3"/><circle cx="1173.2" cy="258.5" r="4.3"/><circle cx="1198.5" cy="230.9" r="4.3"/><circle cx="1222.9" cy="244.4" r="4.3"/><circle cx="1248.1" cy="251.3" r="4.3"/><circle cx="1273.3" cy="246.0" r="4.3"/><circle cx="1297.7" cy="246.0" r="4.3"/><circle cx="1322.9" cy="247.7" r="4.3"/><circle cx="1347.3" cy="270.0" r="4.3"/><circle cx="1372.6" cy="244.4" r="4.3"/><circle cx="1397.8" cy="246.0" r="4.3"/><circle cx="1420.6" cy="234.8" r="4.3"/><circle cx="1445.8" cy="242.1" r="4.3"/><circle cx="1470.2" cy="262.5" r="4.3"/></g><rect x="1056.9" y="42.2" width="432.3" height="330.5" fill="none" stroke="#4a4a4a" stroke-width="1.5"/><g stroke="#333" stroke-width="1.6"><path d="M1051.3 47.1H1056.9"/><path d="M1051.3 139.0H1056.9"/><path d="M1051.3 230.9H1056.9"/><path d="M1051.3 322.8H1056.9"/></g><g font-size="22" fill="#4d4d4d" text-anchor="end"><text x="1045" y="55.0">100</text><text x="1045" y="146.9">50</text><text x="1045" y="238.8">0</text><text x="1045" y="330.7">-50</text></g><rect x="1056.9" y="386.9" width="432.3" height="330.5" fill="#fff"/><g stroke="#ebebeb" stroke-width="1.8"><path d="M1056.9 391.8H1489.2"/><path d="M1056.9 483.7H1489.2"/><path d="M1056.9 575.6H1489.2"/><path d="M1056.9 667.5H1489.2"/><path d="M1075.6 386.9V717.4"/><path d="M1100.8 386.9V717.4"/><path d="M1123.6 386.9V717.4"/><path d="M1148.8 386.9V717.4"/><path d="M1173.2 386.9V717.4"/><path d="M1198.5 386.9V717.4"/><path d="M1222.9 386.9V717.4"/><path d="M1248.1 386.9V717.4"/><path d="M1273.3 386.9V717.4"/><path d="M1297.7 386.9V717.4"/><path d="M1322.9 386.9V717.4"/><path d="M1347.3 386.9V717.4"/><path d="M1372.6 386.9V717.4"/><path d="M1397.8 386.9V717.4"/><path d="M1420.6 386.9V717.4"/><path d="M1445.8 386.9V717.4"/><path d="M1470.2 386.9V717.4"/></g><path d="M1075.6,563.1 L1100.8,565.7 L1123.6,598.6 L1148.8,578.2 L1173.2,607.8 L1198.5,590.4 L1222.9,564.1 L1248.1,550.3 L1273.3,562.4 L1297.7,564.1 L1322.9,560.8 L1347.3,579.5 L1372.6,560.8 L1397.8,572.3 L1420.6,598.6 L1445.8,577.2 L1470.2,600.3 L1470.2,652.9 L1445.8,623.3 L1420.6,649.6 L1397.8,658.5 L1372.6,649.6 L1347.3,623.3 L1322.9,648.6 L1297.7,657.1 L1273.3,653.9 L1248.1,616.7 L1222.9,647.9 L1198.5,628.2 L1173.2,657.8 L1148.8,617.7 L1123.6,649.6 L1100.8,657.1 L1075.6,650.6Z" fill="#e4e4e4"/><path d="M1056.3 575.6H1489" stroke="#f00" stroke-width="2.4" stroke-dasharray="2.4 8.2"/><path d="M1075.6,598.0 L1100.8,596.3 L1123.6,623.9 L1148.8,596.3 L1173.2,633.1 L1198.5,609.1 L1222.9,600.3 L1248.1,574.0 L1273.3,598.0 L1297.7,600.3 L1322.9,596.3 L1347.3,600.3 L1372.6,598.0 L1397.8,598.0 L1420.6,623.9 L1445.8,596.3 L1470.2,630.8" fill="none" stroke="#000" stroke-width="2.6" stroke-linejoin="round"/><g fill="#000"><circle cx="1075.6" cy="598.0" r="4.3"/><circle cx="1100.8" cy="596.3" r="4.3"/><circle cx="1123.6" cy="623.9" r="4.3"/><circle cx="1148.8" cy="596.3" r="4.3"/><circle cx="1173.2" cy="633.1" r="4.3"/><circle cx="1198.5" cy="609.1" r="4.3"/><circle cx="1222.9" cy="600.3" r="4.3"/><circle cx="1248.1" cy="574.0" r="4.3"/><circle cx="1273.3" cy="598.0" r="4.3"/><circle cx="1297.7" cy="600.3" r="4.3"/><circle cx="1322.9" cy="596.3" r="4.3"/><circle cx="1347.3" cy="600.3" r="4.3"/><circle cx="1372.6" cy="598.0" r="4.3"/><circle cx="1397.8" cy="598.0" r="4.3"/><circle cx="1420.6" cy="623.9" r="4.3"/><circle cx="1445.8" cy="596.3" r="4.3"/><circle cx="1470.2" cy="630.8" r="4.3"/></g><rect x="1056.9" y="386.9" width="432.3" height="330.5" fill="none" stroke="#4a4a4a" stroke-width="1.5"/><g stroke="#333" stroke-width="1.6"><path d="M1051.3 391.8H1056.9"/><path d="M1051.3 483.7H1056.9"/><path d="M1051.3 575.6H1056.9"/><path d="M1051.3 667.5H1056.9"/></g><g font-size="22" fill="#4d4d4d" text-anchor="end"><text x="1045" y="399.7">100</text><text x="1045" y="491.6">50</text><text x="1045" y="583.5">0</text><text x="1045" y="675.4">-50</text></g><rect x="1056.9" y="731.6" width="432.3" height="330.5" fill="#fff"/><g stroke="#ebebeb" stroke-width="1.8"><path d="M1056.9 736.5H1489.2"/><path d="M1056.9 828.4H1489.2"/><path d="M1056.9 920.3H1489.2"/><path d="M1056.9 1012.2H1489.2"/><path d="M1075.6 731.6V1062.1"/><path d="M1100.8 731.6V1062.1"/><path d="M1123.6 731.6V1062.1"/><path d="M1148.8 731.6V1062.1"/><path d="M1173.2 731.6V1062.1"/><path d="M1198.5 731.6V1062.1"/><path d="M1222.9 731.6V1062.1"/><path d="M1248.1 731.6V1062.1"/><path d="M1273.3 731.6V1062.1"/><path d="M1297.7 731.6V1062.1"/><path d="M1322.9 731.6V1062.1"/><path d="M1347.3 731.6V1062.1"/><path d="M1372.6 731.6V1062.1"/><path d="M1397.8 731.6V1062.1"/><path d="M1420.6 731.6V1062.1"/><path d="M1445.8 731.6V1062.1"/><path d="M1470.2 731.6V1062.1"/></g><path d="M1075.6,903.2 L1100.8,894.7 L1123.6,920.3 L1148.8,878.5 L1173.2,940.0 L1198.5,914.4 L1222.9,905.5 L1248.1,935.1 L1273.3,907.1 L1297.7,898.3 L1322.9,907.1 L1347.3,938.4 L1372.6,907.1 L1397.8,905.5 L1420.6,920.3 L1445.8,885.8 L1470.2,936.7 L1470.2,1032.1 L1445.8,1017.3 L1420.6,1002.5 L1397.8,1028.8 L1372.6,1022.2 L1347.3,1019.6 L1322.9,1030.4 L1297.7,1015.7 L1273.3,1025.5 L1248.1,1018.3 L1222.9,1018.3 L1198.5,1008.4 L1173.2,1036.0 L1148.8,1005.8 L1123.6,1005.8 L1100.8,1025.5 L1075.6,1021.6Z" fill="#e4e4e4"/><path d="M1056.3 920.3H1489" stroke="#f00" stroke-width="2.4" stroke-dasharray="2.4 8.2"/><path d="M1075.6,951.9 L1100.8,949.9 L1123.6,953.8 L1148.8,931.8 L1173.2,986.7 L1198.5,951.9 L1222.9,947.6 L1248.1,979.5 L1273.3,947.6 L1297.7,951.9 L1322.9,949.9 L1347.3,977.8 L1372.6,951.9 L1397.8,951.9 L1420.6,955.5 L1445.8,931.8 L1470.2,984.7" fill="none" stroke="#000" stroke-width="2.6" stroke-linejoin="round"/><g fill="#000"><circle cx="1075.6" cy="951.9" r="4.3"/><circle cx="1100.8" cy="949.9" r="4.3"/><circle cx="1123.6" cy="953.8" r="4.3"/><circle cx="1148.8" cy="931.8" r="4.3"/><circle cx="1173.2" cy="986.7" r="4.3"/><circle cx="1198.5" cy="951.9" r="4.3"/><circle cx="1222.9" cy="947.6" r="4.3"/><circle cx="1248.1" cy="979.5" r="4.3"/><circle cx="1273.3" cy="947.6" r="4.3"/><circle cx="1297.7" cy="951.9" r="4.3"/><circle cx="1322.9" cy="949.9" r="4.3"/><circle cx="1347.3" cy="977.8" r="4.3"/><circle cx="1372.6" cy="951.9" r="4.3"/><circle cx="1397.8" cy="951.9" r="4.3"/><circle cx="1420.6" cy="955.5" r="4.3"/><circle cx="1445.8" cy="931.8" r="4.3"/><circle cx="1470.2" cy="984.7" r="4.3"/></g><rect x="1056.9" y="731.6" width="432.3" height="330.5" fill="none" stroke="#4a4a4a" stroke-width="1.5"/><g stroke="#333" stroke-width="1.6"><path d="M1051.3 736.5H1056.9"/><path d="M1051.3 828.4H1056.9"/><path d="M1051.3 920.3H1056.9"/><path d="M1051.3 1012.2H1056.9"/></g><g font-size="22" fill="#4d4d4d" text-anchor="end"><text x="1045" y="744.4">100</text><text x="1045" y="836.3">50</text><text x="1045" y="928.2">0</text><text x="1045" y="1020.1">-50</text></g><rect x="1056.9" y="1076.3" width="432.3" height="330.5" fill="#fff"/><g stroke="#ebebeb" stroke-width="1.8"><path d="M1056.9 1081.2H1489.2"/><path d="M1056.9 1173.1H1489.2"/><path d="M1056.9 1265.0H1489.2"/><path d="M1056.9 1356.9H1489.2"/><path d="M1075.6 1076.3V1406.8"/><path d="M1100.8 1076.3V1406.8"/><path d="M1123.6 1076.3V1406.8"/><path d="M1148.8 1076.3V1406.8"/><path d="M1173.2 1076.3V1406.8"/><path d="M1198.5 1076.3V1406.8"/><path d="M1222.9 1076.3V1406.8"/><path d="M1248.1 1076.3V1406.8"/><path d="M1273.3 1076.3V1406.8"/><path d="M1297.7 1076.3V1406.8"/><path d="M1322.9 1076.3V1406.8"/><path d="M1347.3 1076.3V1406.8"/><path d="M1372.6 1076.3V1406.8"/><path d="M1397.8 1076.3V1406.8"/><path d="M1420.6 1076.3V1406.8"/><path d="M1445.8 1076.3V1406.8"/><path d="M1470.2 1076.3V1406.8"/></g><path d="M1075.6,1245.3 L1100.8,1234.8 L1123.6,1279.8 L1148.8,1266.6 L1173.2,1298.5 L1198.5,1232.1 L1222.9,1238.0 L1248.1,1213.4 L1273.3,1233.1 L1297.7,1239.7 L1322.9,1242.0 L1347.3,1284.1 L1372.6,1234.8 L1397.8,1243.6 L1420.6,1285.4 L1445.8,1265.7 L1470.2,1300.5 L1470.2,1355.4 L1445.8,1316.0 L1420.6,1349.2 L1397.8,1355.4 L1372.6,1347.9 L1347.3,1336.7 L1322.9,1356.4 L1297.7,1355.4 L1273.3,1349.2 L1248.1,1291.3 L1222.9,1347.2 L1198.5,1286.4 L1173.2,1354.4 L1148.8,1317.6 L1123.6,1343.9 L1100.8,1349.8 L1075.6,1364.3Z" fill="#e4e4e4"/><path d="M1056.3 1265.0H1489" stroke="#f00" stroke-width="2.4" stroke-dasharray="2.4 8.2"/><path d="M1075.6,1284.7 L1100.8,1284.7 L1123.6,1314.3 L1148.8,1288.7 L1173.2,1325.8 L1198.5,1251.8 L1222.9,1284.7 L1248.1,1241.0 L1273.3,1284.7 L1297.7,1284.7 L1322.9,1283.1 L1347.3,1310.4 L1372.6,1284.7 L1397.8,1283.1 L1420.6,1316.0 L1445.8,1288.7 L1470.2,1330.8" fill="none" stroke="#000" stroke-width="2.6" stroke-linejoin="round"/><g fill="#000"><circle cx="1075.6" cy="1284.7" r="4.3"/><circle cx="1100.8" cy="1284.7" r="4.3"/><circle cx="1123.6" cy="1314.3" r="4.3"/><circle cx="1148.8" cy="1288.7" r="4.3"/><circle cx="1173.2" cy="1325.8" r="4.3"/><circle cx="1198.5" cy="1251.8" r="4.3"/><circle cx="1222.9" cy="1284.7" r="4.3"/><circle cx="1248.1" cy="1241.0" r="4.3"/><circle cx="1273.3" cy="1284.7" r="4.3"/><circle cx="1297.7" cy="1284.7" r="4.3"/><circle cx="1322.9" cy="1283.1" r="4.3"/><circle cx="1347.3" cy="1310.4" r="4.3"/><circle cx="1372.6" cy="1284.7" r="4.3"/><circle cx="1397.8" cy="1283.1" r="4.3"/><circle cx="1420.6" cy="1316.0" r="4.3"/><circle cx="1445.8" cy="1288.7" r="4.3"/><circle cx="1470.2" cy="1330.8" r="4.3"/></g><rect x="1056.9" y="1076.3" width="432.3" height="330.5" fill="none" stroke="#4a4a4a" stroke-width="1.5"/><g stroke="#333" stroke-width="1.6"><path d="M1051.3 1081.2H1056.9"/><path d="M1051.3 1173.1H1056.9"/><path d="M1051.3 1265.0H1056.9"/><path d="M1051.3 1356.9H1056.9"/></g><g font-size="22" fill="#4d4d4d" text-anchor="end"><text x="1045" y="1089.1">100</text><text x="1045" y="1181.0">50</text><text x="1045" y="1272.9">0</text><text x="1045" y="1364.8">-50</text></g><rect x="1056.9" y="1421.0" width="432.3" height="330.5" fill="#fff"/><g stroke="#ebebeb" stroke-width="1.8"><path d="M1056.9 1425.9H1489.2"/><path d="M1056.9 1517.8H1489.2"/><path d="M1056.9 1609.7H1489.2"/><path d="M1056.9 1701.6H1489.2"/><path d="M1075.6 1421.0V1751.5"/><path d="M1100.8 1421.0V1751.5"/><path d="M1123.6 1421.0V1751.5"/><path d="M1148.8 1421.0V1751.5"/><path d="M1173.2 1421.0V1751.5"/><path d="M1198.5 1421.0V1751.5"/><path d="M1222.9 1421.0V1751.5"/><path d="M1248.1 1421.0V1751.5"/><path d="M1273.3 1421.0V1751.5"/><path d="M1297.7 1421.0V1751.5"/><path d="M1322.9 1421.0V1751.5"/><path d="M1347.3 1421.0V1751.5"/><path d="M1372.6 1421.0V1751.5"/><path d="M1397.8 1421.0V1751.5"/><path d="M1420.6 1421.0V1751.5"/><path d="M1445.8 1421.0V1751.5"/><path d="M1470.2 1421.0V1751.5"/></g><path d="M1075.6,1484.8 L1100.8,1489.4 L1123.6,1532.1 L1148.8,1539.0 L1173.2,1534.1 L1198.5,1484.8 L1222.9,1486.1 L1248.1,1435.4 L1273.3,1492.6 L1297.7,1484.8 L1322.9,1498.6 L1347.3,1515.0 L1372.6,1495.3 L1397.8,1495.3 L1420.6,1532.1 L1445.8,1544.6 L1470.2,1539.7 L1470.2,1617.9 L1445.8,1621.2 L1420.6,1637.6 L1397.8,1650.8 L1372.6,1649.2 L1347.3,1622.9 L1322.9,1663.0 L1297.7,1645.5 L1273.3,1649.2 L1248.1,1610.4 L1222.9,1636.7 L1198.5,1603.8 L1173.2,1614.3 L1148.8,1621.2 L1123.6,1643.9 L1100.8,1655.7 L1075.6,1642.6Z" fill="#e4e4e4"/><path d="M1056.3 1609.7H1489" stroke="#f00" stroke-width="2.4" stroke-dasharray="2.4 8.2"/><path d="M1075.6,1552.8 L1100.8,1549.5 L1123.6,1582.4 L1148.8,1578.5 L1173.2,1567.6 L1198.5,1528.8 L1222.9,1551.2 L1248.1,1486.4 L1273.3,1547.2 L1297.7,1545.3 L1322.9,1547.2 L1347.3,1566.0 L1372.6,1552.8 L1397.8,1552.8 L1420.6,1582.4 L1445.8,1580.1 L1470.2,1567.6" fill="none" stroke="#000" stroke-width="2.6" stroke-linejoin="round"/><g fill="#000"><circle cx="1075.6" cy="1552.8" r="4.3"/><circle cx="1100.8" cy="1549.5" r="4.3"/><circle cx="1123.6" cy="1582.4" r="4.3"/><circle cx="1148.8" cy="1578.5" r="4.3"/><circle cx="1173.2" cy="1567.6" r="4.3"/><circle cx="1198.5" cy="1528.8" r="4.3"/><circle cx="1222.9" cy="1551.2" r="4.3"/><circle cx="1248.1" cy="1486.4" r="4.3"/><circle cx="1273.3" cy="1547.2" r="4.3"/><circle cx="1297.7" cy="1545.3" r="4.3"/><circle cx="1322.9" cy="1547.2" r="4.3"/><circle cx="1347.3" cy="1566.0" r="4.3"/><circle cx="1372.6" cy="1552.8" r="4.3"/><circle cx="1397.8" cy="1552.8" r="4.3"/><circle cx="1420.6" cy="1582.4" r="4.3"/><circle cx="1445.8" cy="1580.1" r="4.3"/><circle cx="1470.2" cy="1567.6" r="4.3"/></g><rect x="1056.9" y="1421.0" width="432.3" height="330.5" fill="none" stroke="#4a4a4a" stroke-width="1.5"/><g stroke="#333" stroke-width="1.6"><path d="M1051.3 1425.9H1056.9"/><path d="M1051.3 1517.8H1056.9"/><path d="M1051.3 1609.7H1056.9"/><path d="M1051.3 1701.6H1056.9"/></g><g font-size="22" fill="#4d4d4d" text-anchor="end"><text x="1045" y="1433.8">100</text><text x="1045" y="1525.7">50</text><text x="1045" y="1617.6">0</text><text x="1045" y="1709.5">-50</text></g><rect x="1056.9" y="1765.7" width="432.3" height="330.5" fill="#fff"/><g stroke="#ebebeb" stroke-width="1.8"><path d="M1056.9 1770.6H1489.2"/><path d="M1056.9 1862.5H1489.2"/><path d="M1056.9 1954.4H1489.2"/><path d="M1056.9 2046.3H1489.2"/><path d="M1075.6 1765.7V2096.2"/><path d="M1100.8 1765.7V2096.2"/><path d="M1123.6 1765.7V2096.2"/><path d="M1148.8 1765.7V2096.2"/><path d="M1173.2 1765.7V2096.2"/><path d="M1198.5 1765.7V2096.2"/><path d="M1222.9 1765.7V2096.2"/><path d="M1248.1 1765.7V2096.2"/><path d="M1273.3 1765.7V2096.2"/><path d="M1297.7 1765.7V2096.2"/><path d="M1322.9 1765.7V2096.2"/><path d="M1347.3 1765.7V2096.2"/><path d="M1372.6 1765.7V2096.2"/><path d="M1397.8 1765.7V2096.2"/><path d="M1420.6 1765.7V2096.2"/><path d="M1445.8 1765.7V2096.2"/><path d="M1470.2 1765.7V2096.2"/></g><path d="M1075.6,1917.6 L1100.8,1927.4 L1123.6,2009.6 L1148.8,1904.4 L1173.2,1985.0 L1198.5,1954.7 L1222.9,1922.5 L1248.1,1953.7 L1273.3,1914.3 L1297.7,1918.6 L1322.9,1916.6 L1347.3,1913.6 L1372.6,1913.6 L1397.8,1916.6 L1420.6,2011.3 L1445.8,1912.0 L1470.2,1985.0 L1470.2,2045.8 L1445.8,1978.4 L1420.6,2082.0 L1397.8,2044.2 L1372.6,2050.1 L1347.3,1978.4 L1322.9,2055.7 L1297.7,2045.8 L1273.3,2043.5 L1248.1,2000.8 L1222.9,2044.2 L1198.5,1996.5 L1173.2,2045.8 L1148.8,1973.5 L1123.6,2081.0 L1100.8,2063.9 L1075.6,2054.7Z" fill="#e4e4e4"/><path d="M1056.3 1954.4H1489" stroke="#f00" stroke-width="2.4" stroke-dasharray="2.4 8.2"/><path d="M1075.6,1963.6 L1100.8,1963.6 L1123.6,2044.8 L1148.8,1934.0 L1173.2,2019.5 L1198.5,1969.2 L1222.9,1967.6 L1248.1,1980.7 L1273.3,1965.9 L1297.7,1967.6 L1322.9,1967.6 L1347.3,1934.0 L1372.6,1963.6 L1397.8,1965.3 L1420.6,2044.8 L1445.8,1938.0 L1470.2,2019.5" fill="none" stroke="#000" stroke-width="2.6" stroke-linejoin="round"/><g fill="#000"><circle cx="1075.6" cy="1963.6" r="4.3"/><circle cx="1100.8" cy="1963.6" r="4.3"/><circle cx="1123.6" cy="2044.8" r="4.3"/><circle cx="1148.8" cy="1934.0" r="4.3"/><circle cx="1173.2" cy="2019.5" r="4.3"/><circle cx="1198.5" cy="1969.2" r="4.3"/><circle cx="1222.9" cy="1967.6" r="4.3"/><circle cx="1248.1" cy="1980.7" r="4.3"/><circle cx="1273.3" cy="1965.9" r="4.3"/><circle cx="1297.7" cy="1967.6" r="4.3"/><circle cx="1322.9" cy="1967.6" r="4.3"/><circle cx="1347.3" cy="1934.0" r="4.3"/><circle cx="1372.6" cy="1963.6" r="4.3"/><circle cx="1397.8" cy="1965.3" r="4.3"/><circle cx="1420.6" cy="2044.8" r="4.3"/><circle cx="1445.8" cy="1938.0" r="4.3"/><circle cx="1470.2" cy="2019.5" r="4.3"/></g><rect x="1056.9" y="1765.7" width="432.3" height="330.5" fill="none" stroke="#4a4a4a" stroke-width="1.5"/><g stroke="#333" stroke-width="1.6"><path d="M1051.3 1770.6H1056.9"/><path d="M1051.3 1862.5H1056.9"/><path d="M1051.3 1954.4H1056.9"/><path d="M1051.3 2046.3H1056.9"/></g><g font-size="22" fill="#4d4d4d" text-anchor="end"><text x="1045" y="1778.5">100</text><text x="1045" y="1870.4">50</text><text x="1045" y="1962.3">0</text><text x="1045" y="2054.2">-50</text></g><g stroke="#333" stroke-width="1.6"><path d="M1075.6 2096.2V2102.3"/><path d="M1100.8 2096.2V2102.3"/><path d="M1123.6 2096.2V2102.3"/><path d="M1148.8 2096.2V2102.3"/><path d="M1173.2 2096.2V2102.3"/><path d="M1198.5 2096.2V2102.3"/><path d="M1222.9 2096.2V2102.3"/><path d="M1248.1 2096.2V2102.3"/><path d="M1273.3 2096.2V2102.3"/><path d="M1297.7 2096.2V2102.3"/><path d="M1322.9 2096.2V2102.3"/><path d="M1347.3 2096.2V2102.3"/><path d="M1372.6 2096.2V2102.3"/><path d="M1397.8 2096.2V2102.3"/><path d="M1420.6 2096.2V2102.3"/><path d="M1445.8 2096.2V2102.3"/><path d="M1470.2 2096.2V2102.3"/></g><g font-size="22.5" fill="#4d4d4d" text-anchor="end"><text transform="translate(1092.2,2108.3) rotate(-90)">01/17</text><text transform="translate(1117.4,2108.3) rotate(-90)">02/17</text><text transform="translate(1140.2,2108.3) rotate(-90)">03/17</text><text transform="translate(1165.4,2108.3) rotate(-90)">04/17</text><text transform="translate(1189.8,2108.3) rotate(-90)">05/17</text><text transform="translate(1215.1,2108.3) rotate(-90)">06/17</text><text transform="translate(1239.5,2108.3) rotate(-90)">07/17</text><text transform="translate(1264.7,2108.3) rotate(-90)">08/17</text><text transform="translate(1289.9,2108.3) rotate(-90)">09/17</text><text transform="translate(1314.3,2108.3) rotate(-90)">10/17</text><text transform="translate(1339.5,2108.3) rotate(-90)">11/17</text><text transform="translate(1363.9,2108.3) rotate(-90)">12/17</text><text transform="translate(1389.2,2108.3) rotate(-90)">01/18</text><text transform="translate(1414.4,2108.3) rotate(-90)">02/18</text><text transform="translate(1437.2,2108.3) rotate(-90)">03/18</text><text transform="translate(1462.4,2108.3) rotate(-90)">04/18</text><text transform="translate(1486.8,2108.3) rotate(-90)">05/18</text></g><g font-weight="bold" fill="#000"><text x="85.5" y="25.2" font-size="30.5">A</text><text x="141.2" y="26.3" font-size="37.5">Predictions</text><text x="535.8" y="25.2" font-size="30.5">B</text><text x="596.6" y="26.3" font-size="37.5">Density difference</text><text x="1008.8" y="25.2" font-size="30.5">C</text><text x="1080" y="26.3" font-size="37.35">Abundance difference</text></g><g font-size="37.7" fill="#000" text-anchor="middle"><text transform="translate(28.9,206.2) rotate(-90)">Auks</text><text transform="translate(70.1,206.2) rotate(-90)">EMD = 0.04</text><text transform="translate(28.9,545.1) rotate(-90)">B-l. kittiwake</text><text transform="translate(70.1,545.1) rotate(-90)">EMD = 0.1</text><text transform="translate(28.9,884.0) rotate(-90)">Cormorants</text><text transform="translate(70.1,884.0) rotate(-90)">EMD = 0.13</text><text transform="translate(28.9,1222.9) rotate(-90)">H. porpoise</text><text transform="translate(70.1,1222.9) rotate(-90)">EMD = 0.13</text><text transform="translate(28.9,1561.8) rotate(-90)">N. fulmar</text><text transform="translate(70.1,1561.8) rotate(-90)">EMD = 0.09</text><text transform="translate(28.9,1900.7) rotate(-90)">N. gannet</text><text transform="translate(70.1,1900.7) rotate(-90)">EMD = 0.13</text></g><text transform="translate(994.6,1067.4) rotate(-90)" font-size="29.8" text-anchor="middle" fill="#000">Abundances with new OWFs (%)</text><text x="290" y="2108.3" font-size="31" text-anchor="middle" fill="#000" textLength="242.9" lengthAdjust="spacingAndGlyphs">Density (ind/km²)</text><text x="753.2" y="2108.3" font-size="29.5" text-anchor="middle" fill="#000">Densities with new OWFs</text><rect x="79.5" y="2134.8" width="420.5" height="12.4" fill="url(#vg)"/><g stroke="#fff" stroke-width="1"><path d="M329.5 2134.8v12.4M412 2134.8v12.4M447.5 2134.8v12.4"/></g><g font-size="22.5" fill="#000" text-anchor="middle"><text x="328.6" y="2180.2">0.1</text><text x="412" y="2180.2">0.5</text><text x="447.6" y="2180.2">1</text></g><rect x="537.6" y="2130.2" width="37.5" height="24.1" fill="#881a1e"/><text x="590.6" y="2151.8" font-size="26.5" fill="#000">++</text><rect x="636.4" y="2130.2" width="37.5" height="24.1" fill="#ee6a50"/><text x="689.4" y="2151.8" font-size="26.5" fill="#000">+</text><rect x="719.8" y="2130.2" width="37.5" height="24.1" fill="#666666"/><text x="771.2" y="2151.8" font-size="26.5" fill="#000">0</text><rect x="801.9" y="2130.2" width="37.5" height="24.1" fill="#4280c1"/><text x="853.7" y="2151.8" font-size="26.5" fill="#000">-</text><rect x="884.3" y="2130.2" width="37.5" height="24.1" fill="#0d4e8c"/><text x="936.1" y="2151.8" font-size="26.5" fill="#000">--</text></svg></body></html>
